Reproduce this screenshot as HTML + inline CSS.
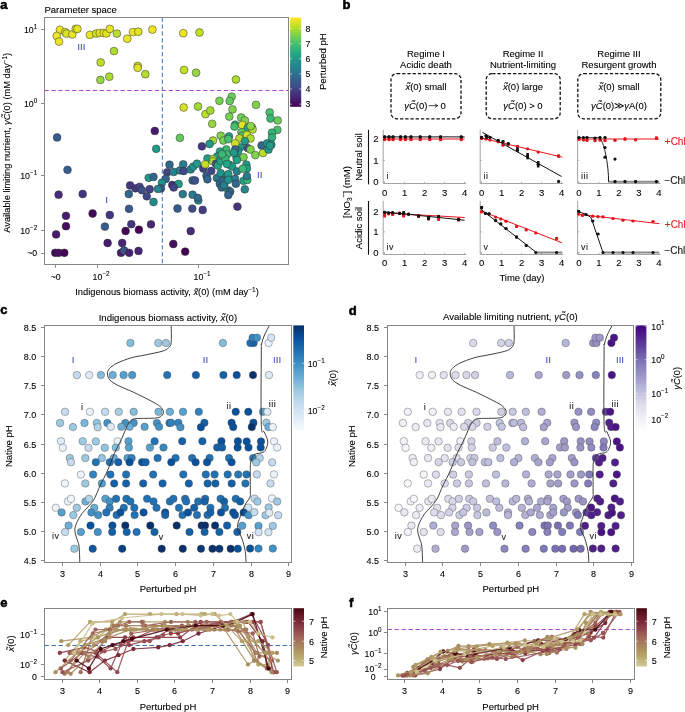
<!DOCTYPE html><html><head><meta charset="utf-8"><style>html,body{margin:0;padding:0;background:#fff;}svg{display:block;will-change:transform;}text{font-family:"Liberation Sans",sans-serif;}</style></head><body>
<svg width="685" height="712" viewBox="0 0 685 712">
<defs>
<linearGradient id="gvir" x1="0" y1="1" x2="0" y2="0">
<stop offset="0.000" stop-color="#440154"/>
<stop offset="0.100" stop-color="#482475"/>
<stop offset="0.200" stop-color="#414487"/>
<stop offset="0.300" stop-color="#355f8d"/>
<stop offset="0.400" stop-color="#2a788e"/>
<stop offset="0.500" stop-color="#21918c"/>
<stop offset="0.600" stop-color="#22a884"/>
<stop offset="0.700" stop-color="#44bf70"/>
<stop offset="0.800" stop-color="#7ad151"/>
<stop offset="0.900" stop-color="#bddf26"/>
<stop offset="1.000" stop-color="#fde725"/>
</linearGradient>
<linearGradient id="gblu" x1="0" y1="1" x2="0" y2="0">
<stop offset="0.000" stop-color="#f7fbff"/>
<stop offset="0.125" stop-color="#deebf7"/>
<stop offset="0.250" stop-color="#c6dbef"/>
<stop offset="0.375" stop-color="#9ecae1"/>
<stop offset="0.500" stop-color="#6baed6"/>
<stop offset="0.625" stop-color="#4292c6"/>
<stop offset="0.750" stop-color="#2171b5"/>
<stop offset="0.875" stop-color="#08519c"/>
<stop offset="1.000" stop-color="#08306b"/>
</linearGradient>
<linearGradient id="gpur" x1="0" y1="1" x2="0" y2="0">
<stop offset="0.000" stop-color="#fcfbfd"/>
<stop offset="0.125" stop-color="#efedf5"/>
<stop offset="0.250" stop-color="#dadaeb"/>
<stop offset="0.375" stop-color="#bcbddc"/>
<stop offset="0.500" stop-color="#9e9ac8"/>
<stop offset="0.625" stop-color="#807dba"/>
<stop offset="0.750" stop-color="#6a51a3"/>
<stop offset="0.875" stop-color="#54278f"/>
<stop offset="1.000" stop-color="#3f007d"/>
</linearGradient>
<linearGradient id="gnat" x1="0" y1="1" x2="0" y2="0">
<stop offset="0.000" stop-color="#d2ca9a"/>
<stop offset="0.167" stop-color="#b8a86a"/>
<stop offset="0.333" stop-color="#a88a5e"/>
<stop offset="0.500" stop-color="#a0665a"/>
<stop offset="0.667" stop-color="#8e3e48"/>
<stop offset="0.833" stop-color="#6e1e2c"/>
<stop offset="1.000" stop-color="#4a0714"/>
</linearGradient>
</defs>
<text x="0.2" y="8.8" font-size="13" text-anchor="start" fill="#000" font-weight="bold" font-style="normal" stroke="#000" stroke-width="0.55">a</text>
<text x="44.5" y="12.8" font-size="9.5" text-anchor="start" fill="#000" font-weight="normal" font-style="normal" stroke="#000" stroke-width="0.1">Parameter space</text>
<line x1="44.50" y1="90.50" x2="288.50" y2="90.50" stroke="#b048e0" stroke-width="1.0" stroke-dasharray="4.3,2.6"/>
<line x1="162.30" y1="17.50" x2="162.30" y2="264.50" stroke="#3a70b8" stroke-width="1.0" stroke-dasharray="4.3,2.6"/>
<circle cx="59.9" cy="29.8" r="3.9" fill="#efe525" stroke="#333" stroke-width="0.5"/>
<circle cx="56.7" cy="35.9" r="3.9" fill="#eae525" stroke="#333" stroke-width="0.5"/>
<circle cx="59.0" cy="41.6" r="3.9" fill="#efe525" stroke="#333" stroke-width="0.5"/>
<circle cx="65.2" cy="32.1" r="3.9" fill="#e4e425" stroke="#333" stroke-width="0.5"/>
<circle cx="66.5" cy="33.6" r="3.9" fill="#d9e326" stroke="#333" stroke-width="0.5"/>
<circle cx="72.3" cy="34.4" r="3.9" fill="#eae525" stroke="#333" stroke-width="0.5"/>
<circle cx="75.7" cy="28.9" r="3.9" fill="#dfe325" stroke="#333" stroke-width="0.5"/>
<circle cx="77.4" cy="28.9" r="3.9" fill="#e4e425" stroke="#333" stroke-width="0.5"/>
<circle cx="89.9" cy="34.9" r="3.9" fill="#eae525" stroke="#333" stroke-width="0.5"/>
<circle cx="96.0" cy="33.6" r="3.9" fill="#c4e026" stroke="#333" stroke-width="0.5"/>
<circle cx="99.8" cy="33.0" r="3.9" fill="#e4e425" stroke="#333" stroke-width="0.5"/>
<circle cx="103.6" cy="33.0" r="3.9" fill="#eae525" stroke="#333" stroke-width="0.5"/>
<circle cx="106.4" cy="33.4" r="3.9" fill="#e4e425" stroke="#333" stroke-width="0.5"/>
<circle cx="109.8" cy="28.9" r="3.9" fill="#e4e425" stroke="#333" stroke-width="0.5"/>
<circle cx="116.9" cy="33.6" r="3.9" fill="#b9de29" stroke="#333" stroke-width="0.5"/>
<circle cx="127.3" cy="38.7" r="3.9" fill="#eae525" stroke="#333" stroke-width="0.5"/>
<circle cx="133.0" cy="32.1" r="3.9" fill="#efe525" stroke="#333" stroke-width="0.5"/>
<circle cx="138.3" cy="31.7" r="3.9" fill="#dfe325" stroke="#333" stroke-width="0.5"/>
<circle cx="152.4" cy="29.6" r="3.9" fill="#eae525" stroke="#333" stroke-width="0.5"/>
<circle cx="114.0" cy="51.1" r="3.9" fill="#addc30" stroke="#333" stroke-width="0.5"/>
<circle cx="100.7" cy="62.4" r="3.9" fill="#bedf26" stroke="#333" stroke-width="0.5"/>
<circle cx="137.7" cy="65.9" r="3.9" fill="#cfe126" stroke="#333" stroke-width="0.5"/>
<circle cx="137.7" cy="67.8" r="3.9" fill="#dfe325" stroke="#333" stroke-width="0.5"/>
<circle cx="145.3" cy="74.2" r="3.9" fill="#b3dd2c" stroke="#333" stroke-width="0.5"/>
<circle cx="109.3" cy="76.7" r="3.9" fill="#addc30" stroke="#333" stroke-width="0.5"/>
<circle cx="100.4" cy="79.9" r="3.9" fill="#97d73f" stroke="#333" stroke-width="0.5"/>
<circle cx="183.3" cy="33.2" r="3.9" fill="#efe525" stroke="#333" stroke-width="0.5"/>
<circle cx="199.5" cy="32.5" r="3.9" fill="#c4e026" stroke="#333" stroke-width="0.5"/>
<circle cx="184.1" cy="70.0" r="3.9" fill="#c4e026" stroke="#333" stroke-width="0.5"/>
<circle cx="196.1" cy="72.7" r="3.9" fill="#97d73f" stroke="#333" stroke-width="0.5"/>
<circle cx="235.9" cy="79.5" r="3.9" fill="#addc30" stroke="#333" stroke-width="0.5"/>
<circle cx="231.7" cy="96.6" r="3.9" fill="#6dcd59" stroke="#333" stroke-width="0.5"/>
<circle cx="219.4" cy="100.8" r="3.9" fill="#76d053" stroke="#333" stroke-width="0.5"/>
<circle cx="229.7" cy="101.0" r="3.9" fill="#64ca5e" stroke="#333" stroke-width="0.5"/>
<circle cx="183.7" cy="107.5" r="3.9" fill="#d4e226" stroke="#333" stroke-width="0.5"/>
<circle cx="198.0" cy="106.5" r="3.9" fill="#a2d937" stroke="#333" stroke-width="0.5"/>
<circle cx="205.5" cy="114.1" r="3.9" fill="#b9de29" stroke="#333" stroke-width="0.5"/>
<circle cx="210.3" cy="110.5" r="3.9" fill="#a2d937" stroke="#333" stroke-width="0.5"/>
<circle cx="212.2" cy="123.8" r="3.9" fill="#97d73f" stroke="#333" stroke-width="0.5"/>
<circle cx="232.5" cy="109.4" r="3.9" fill="#80d24d" stroke="#333" stroke-width="0.5"/>
<circle cx="229.3" cy="116.6" r="3.9" fill="#76d053" stroke="#333" stroke-width="0.5"/>
<circle cx="256.0" cy="104.8" r="3.9" fill="#80d24d" stroke="#333" stroke-width="0.5"/>
<circle cx="269.7" cy="112.4" r="3.9" fill="#48c06e" stroke="#333" stroke-width="0.5"/>
<circle cx="270.5" cy="118.5" r="3.9" fill="#3bb975" stroke="#333" stroke-width="0.5"/>
<circle cx="277.7" cy="120.4" r="3.9" fill="#6dcd59" stroke="#333" stroke-width="0.5"/>
<circle cx="277.3" cy="129.9" r="3.9" fill="#48c06e" stroke="#333" stroke-width="0.5"/>
<circle cx="272.0" cy="132.7" r="3.9" fill="#35b579" stroke="#333" stroke-width="0.5"/>
<circle cx="272.0" cy="137.4" r="3.9" fill="#30b17c" stroke="#333" stroke-width="0.5"/>
<circle cx="179.9" cy="137.8" r="3.9" fill="#64ca5e" stroke="#333" stroke-width="0.5"/>
<circle cx="241.2" cy="117.5" r="3.9" fill="#6dcd59" stroke="#333" stroke-width="0.5"/>
<circle cx="244.9" cy="120.4" r="3.9" fill="#80d24d" stroke="#333" stroke-width="0.5"/>
<circle cx="235.2" cy="124.6" r="3.9" fill="#2aad7f" stroke="#333" stroke-width="0.5"/>
<circle cx="234.5" cy="126.6" r="3.9" fill="#48c06e" stroke="#333" stroke-width="0.5"/>
<circle cx="242.2" cy="125.0" r="3.9" fill="#e4e425" stroke="#333" stroke-width="0.5"/>
<circle cx="247.7" cy="128.0" r="3.9" fill="#22a685" stroke="#333" stroke-width="0.5"/>
<circle cx="251.9" cy="127.3" r="3.9" fill="#8bd546" stroke="#333" stroke-width="0.5"/>
<circle cx="252.6" cy="129.4" r="3.9" fill="#addc30" stroke="#333" stroke-width="0.5"/>
<circle cx="241.5" cy="132.2" r="3.9" fill="#64ca5e" stroke="#333" stroke-width="0.5"/>
<circle cx="242.2" cy="135.7" r="3.9" fill="#48c06e" stroke="#333" stroke-width="0.5"/>
<circle cx="247.0" cy="135.0" r="3.9" fill="#d9e326" stroke="#333" stroke-width="0.5"/>
<circle cx="250.5" cy="138.4" r="3.9" fill="#addc30" stroke="#333" stroke-width="0.5"/>
<circle cx="239.4" cy="138.4" r="3.9" fill="#b9de29" stroke="#333" stroke-width="0.5"/>
<circle cx="244.9" cy="141.2" r="3.9" fill="#229e88" stroke="#333" stroke-width="0.5"/>
<circle cx="247.7" cy="148.1" r="3.9" fill="#3c508a" stroke="#333" stroke-width="0.5"/>
<circle cx="250.5" cy="149.5" r="3.9" fill="#80d24d" stroke="#333" stroke-width="0.5"/>
<circle cx="240.1" cy="147.4" r="3.9" fill="#21968a" stroke="#333" stroke-width="0.5"/>
<circle cx="235.2" cy="143.3" r="3.9" fill="#cfe126" stroke="#333" stroke-width="0.5"/>
<circle cx="238.0" cy="150.9" r="3.9" fill="#219a89" stroke="#333" stroke-width="0.5"/>
<circle cx="235.2" cy="149.5" r="3.9" fill="#32668d" stroke="#333" stroke-width="0.5"/>
<circle cx="220.7" cy="135.7" r="3.9" fill="#80d24d" stroke="#333" stroke-width="0.5"/>
<circle cx="223.4" cy="140.5" r="3.9" fill="#76d053" stroke="#333" stroke-width="0.5"/>
<circle cx="229.0" cy="136.4" r="3.9" fill="#22a286" stroke="#333" stroke-width="0.5"/>
<circle cx="228.3" cy="139.1" r="3.9" fill="#48c06e" stroke="#333" stroke-width="0.5"/>
<circle cx="213.0" cy="140.5" r="3.9" fill="#a2d937" stroke="#333" stroke-width="0.5"/>
<circle cx="209.6" cy="144.0" r="3.9" fill="#219a89" stroke="#333" stroke-width="0.5"/>
<circle cx="201.9" cy="146.3" r="3.9" fill="#443780" stroke="#333" stroke-width="0.5"/>
<circle cx="226.2" cy="149.5" r="3.9" fill="#3bb975" stroke="#333" stroke-width="0.5"/>
<circle cx="220.0" cy="151.6" r="3.9" fill="#22a685" stroke="#333" stroke-width="0.5"/>
<circle cx="226.9" cy="154.4" r="3.9" fill="#41bd72" stroke="#333" stroke-width="0.5"/>
<circle cx="217.2" cy="156.5" r="3.9" fill="#219a89" stroke="#333" stroke-width="0.5"/>
<circle cx="207.5" cy="158.5" r="3.9" fill="#229e88" stroke="#333" stroke-width="0.5"/>
<circle cx="213.0" cy="159.2" r="3.9" fill="#addc30" stroke="#333" stroke-width="0.5"/>
<circle cx="236.6" cy="157.9" r="3.9" fill="#22a286" stroke="#333" stroke-width="0.5"/>
<circle cx="243.5" cy="157.2" r="3.9" fill="#76d053" stroke="#333" stroke-width="0.5"/>
<circle cx="255.3" cy="155.1" r="3.9" fill="#80d24d" stroke="#333" stroke-width="0.5"/>
<circle cx="263.0" cy="153.0" r="3.9" fill="#b9de29" stroke="#333" stroke-width="0.5"/>
<circle cx="261.6" cy="145.4" r="3.9" fill="#32668d" stroke="#333" stroke-width="0.5"/>
<circle cx="267.1" cy="143.3" r="3.9" fill="#21928c" stroke="#333" stroke-width="0.5"/>
<circle cx="271.3" cy="144.7" r="3.9" fill="#219a89" stroke="#333" stroke-width="0.5"/>
<circle cx="268.5" cy="149.5" r="3.9" fill="#219a89" stroke="#333" stroke-width="0.5"/>
<circle cx="250.7" cy="126.1" r="3.9" fill="#8bd546" stroke="#333" stroke-width="0.5"/>
<circle cx="169.5" cy="164.7" r="3.9" fill="#32668d" stroke="#333" stroke-width="0.5"/>
<circle cx="167.2" cy="172.3" r="3.9" fill="#424286" stroke="#333" stroke-width="0.5"/>
<circle cx="173.7" cy="171.9" r="3.9" fill="#25868d" stroke="#333" stroke-width="0.5"/>
<circle cx="165.7" cy="178.9" r="3.9" fill="#32668d" stroke="#333" stroke-width="0.5"/>
<circle cx="161.9" cy="182.7" r="3.9" fill="#21928c" stroke="#333" stroke-width="0.5"/>
<circle cx="160.9" cy="188.4" r="3.9" fill="#3a548b" stroke="#333" stroke-width="0.5"/>
<circle cx="172.3" cy="185.0" r="3.9" fill="#462c79" stroke="#333" stroke-width="0.5"/>
<circle cx="178.6" cy="184.0" r="3.9" fill="#219a89" stroke="#333" stroke-width="0.5"/>
<circle cx="173.7" cy="187.4" r="3.9" fill="#424286" stroke="#333" stroke-width="0.5"/>
<circle cx="179.9" cy="170.4" r="3.9" fill="#287d8e" stroke="#333" stroke-width="0.5"/>
<circle cx="183.2" cy="164.3" r="3.9" fill="#2a798e" stroke="#333" stroke-width="0.5"/>
<circle cx="183.7" cy="171.0" r="3.9" fill="#404788" stroke="#333" stroke-width="0.5"/>
<circle cx="190.7" cy="169.4" r="3.9" fill="#27818d" stroke="#333" stroke-width="0.5"/>
<circle cx="193.2" cy="166.6" r="3.9" fill="#21928c" stroke="#333" stroke-width="0.5"/>
<circle cx="197.0" cy="163.7" r="3.9" fill="#219a89" stroke="#333" stroke-width="0.5"/>
<circle cx="192.6" cy="180.4" r="3.9" fill="#32668d" stroke="#333" stroke-width="0.5"/>
<circle cx="203.3" cy="168.5" r="3.9" fill="#424286" stroke="#333" stroke-width="0.5"/>
<circle cx="205.2" cy="164.3" r="3.9" fill="#c4e026" stroke="#333" stroke-width="0.5"/>
<circle cx="211.2" cy="170.9" r="3.9" fill="#404788" stroke="#333" stroke-width="0.5"/>
<circle cx="206.5" cy="175.7" r="3.9" fill="#365d8d" stroke="#333" stroke-width="0.5"/>
<circle cx="207.4" cy="179.3" r="3.9" fill="#32668d" stroke="#333" stroke-width="0.5"/>
<circle cx="213.1" cy="161.3" r="3.9" fill="#addc30" stroke="#333" stroke-width="0.5"/>
<circle cx="216.0" cy="163.7" r="3.9" fill="#3c508a" stroke="#333" stroke-width="0.5"/>
<circle cx="217.9" cy="165.6" r="3.9" fill="#22a685" stroke="#333" stroke-width="0.5"/>
<circle cx="220.7" cy="160.9" r="3.9" fill="#22a685" stroke="#333" stroke-width="0.5"/>
<circle cx="216.9" cy="178.0" r="3.9" fill="#2a798e" stroke="#333" stroke-width="0.5"/>
<circle cx="220.7" cy="173.2" r="3.9" fill="#21928c" stroke="#333" stroke-width="0.5"/>
<circle cx="219.8" cy="183.7" r="3.9" fill="#32668d" stroke="#333" stroke-width="0.5"/>
<circle cx="221.7" cy="187.4" r="3.9" fill="#32668d" stroke="#333" stroke-width="0.5"/>
<circle cx="224.5" cy="182.7" r="3.9" fill="#287d8e" stroke="#333" stroke-width="0.5"/>
<circle cx="226.4" cy="177.0" r="3.9" fill="#21928c" stroke="#333" stroke-width="0.5"/>
<circle cx="228.3" cy="174.2" r="3.9" fill="#219a89" stroke="#333" stroke-width="0.5"/>
<circle cx="222.6" cy="156.1" r="3.9" fill="#3bb975" stroke="#333" stroke-width="0.5"/>
<circle cx="225.5" cy="159.0" r="3.9" fill="#3bb975" stroke="#333" stroke-width="0.5"/>
<circle cx="229.3" cy="164.7" r="3.9" fill="#22a286" stroke="#333" stroke-width="0.5"/>
<circle cx="232.1" cy="166.6" r="3.9" fill="#229e88" stroke="#333" stroke-width="0.5"/>
<circle cx="235.0" cy="178.9" r="3.9" fill="#287d8e" stroke="#333" stroke-width="0.5"/>
<circle cx="235.9" cy="183.7" r="3.9" fill="#32668d" stroke="#333" stroke-width="0.5"/>
<circle cx="236.9" cy="171.3" r="3.9" fill="#287d8e" stroke="#333" stroke-width="0.5"/>
<circle cx="236.9" cy="160.0" r="3.9" fill="#22a286" stroke="#333" stroke-width="0.5"/>
<circle cx="246.4" cy="164.7" r="3.9" fill="#219a89" stroke="#333" stroke-width="0.5"/>
<circle cx="246.9" cy="168.5" r="3.9" fill="#229e88" stroke="#333" stroke-width="0.5"/>
<circle cx="243.5" cy="180.8" r="3.9" fill="#22a286" stroke="#333" stroke-width="0.5"/>
<circle cx="247.3" cy="179.9" r="3.9" fill="#3bb975" stroke="#333" stroke-width="0.5"/>
<circle cx="246.9" cy="176.1" r="3.9" fill="#2a798e" stroke="#333" stroke-width="0.5"/>
<circle cx="244.8" cy="189.3" r="3.9" fill="#25868d" stroke="#333" stroke-width="0.5"/>
<circle cx="228.3" cy="190.3" r="3.9" fill="#228e8c" stroke="#333" stroke-width="0.5"/>
<circle cx="230.2" cy="191.6" r="3.9" fill="#32668d" stroke="#333" stroke-width="0.5"/>
<circle cx="228.3" cy="195.0" r="3.9" fill="#32668d" stroke="#333" stroke-width="0.5"/>
<circle cx="182.8" cy="194.1" r="3.9" fill="#2a798e" stroke="#333" stroke-width="0.5"/>
<circle cx="192.6" cy="194.7" r="3.9" fill="#2a798e" stroke="#333" stroke-width="0.5"/>
<circle cx="198.3" cy="200.4" r="3.9" fill="#248a8d" stroke="#333" stroke-width="0.5"/>
<circle cx="177.5" cy="208.5" r="3.9" fill="#365d8d" stroke="#333" stroke-width="0.5"/>
<circle cx="192.3" cy="208.6" r="3.9" fill="#3e4b89" stroke="#333" stroke-width="0.5"/>
<circle cx="202.7" cy="210.0" r="3.9" fill="#433c83" stroke="#333" stroke-width="0.5"/>
<circle cx="237.4" cy="206.6" r="3.9" fill="#45317d" stroke="#333" stroke-width="0.5"/>
<circle cx="270.0" cy="145.7" r="3.9" fill="#219a89" stroke="#333" stroke-width="0.5"/>
<circle cx="222.7" cy="180.5" r="3.9" fill="#32668d" stroke="#333" stroke-width="0.5"/>
<circle cx="224.1" cy="185.4" r="3.9" fill="#287d8e" stroke="#333" stroke-width="0.5"/>
<circle cx="228.3" cy="179.8" r="3.9" fill="#21928c" stroke="#333" stroke-width="0.5"/>
<circle cx="242.8" cy="168.7" r="3.9" fill="#3bb975" stroke="#333" stroke-width="0.5"/>
<circle cx="226.9" cy="163.9" r="3.9" fill="#22a685" stroke="#333" stroke-width="0.5"/>
<circle cx="222.0" cy="154.2" r="3.9" fill="#3bb975" stroke="#333" stroke-width="0.5"/>
<circle cx="233.8" cy="152.8" r="3.9" fill="#219a89" stroke="#333" stroke-width="0.5"/>
<circle cx="197.8" cy="197.9" r="3.9" fill="#32668d" stroke="#333" stroke-width="0.5"/>
<circle cx="195.0" cy="180.5" r="3.9" fill="#3a548b" stroke="#333" stroke-width="0.5"/>
<circle cx="190.7" cy="231.1" r="3.9" fill="#462c79" stroke="#333" stroke-width="0.5"/>
<circle cx="173.3" cy="244.0" r="3.9" fill="#460f61" stroke="#333" stroke-width="0.5"/>
<circle cx="185.2" cy="251.6" r="3.9" fill="#440154" stroke="#333" stroke-width="0.5"/>
<circle cx="57.1" cy="137.4" r="3.9" fill="#365d8d" stroke="#333" stroke-width="0.5"/>
<circle cx="67.5" cy="169.8" r="3.9" fill="#365d8d" stroke="#333" stroke-width="0.5"/>
<circle cx="154.8" cy="130.9" r="3.9" fill="#471b6d" stroke="#333" stroke-width="0.5"/>
<circle cx="156.2" cy="148.8" r="3.9" fill="#219a89" stroke="#333" stroke-width="0.5"/>
<circle cx="148.7" cy="177.8" r="3.9" fill="#219a89" stroke="#333" stroke-width="0.5"/>
<circle cx="153.5" cy="176.9" r="3.9" fill="#32668d" stroke="#333" stroke-width="0.5"/>
<circle cx="58.6" cy="194.7" r="3.9" fill="#462c79" stroke="#333" stroke-width="0.5"/>
<circle cx="82.7" cy="194.0" r="3.9" fill="#443780" stroke="#333" stroke-width="0.5"/>
<circle cx="66.0" cy="215.8" r="3.9" fill="#471b6d" stroke="#333" stroke-width="0.5"/>
<circle cx="92.6" cy="213.5" r="3.9" fill="#45095c" stroke="#333" stroke-width="0.5"/>
<circle cx="109.8" cy="215.0" r="3.9" fill="#443780" stroke="#333" stroke-width="0.5"/>
<circle cx="66.0" cy="226.2" r="3.9" fill="#460f61" stroke="#333" stroke-width="0.5"/>
<circle cx="56.1" cy="234.4" r="3.9" fill="#471b6d" stroke="#333" stroke-width="0.5"/>
<circle cx="104.9" cy="226.6" r="3.9" fill="#365d8d" stroke="#333" stroke-width="0.5"/>
<circle cx="125.6" cy="231.0" r="3.9" fill="#45095c" stroke="#333" stroke-width="0.5"/>
<circle cx="131.3" cy="224.2" r="3.9" fill="#443780" stroke="#333" stroke-width="0.5"/>
<circle cx="138.9" cy="229.7" r="3.9" fill="#440154" stroke="#333" stroke-width="0.5"/>
<circle cx="151.0" cy="224.3" r="3.9" fill="#472776" stroke="#333" stroke-width="0.5"/>
<circle cx="107.6" cy="243.0" r="3.9" fill="#471b6d" stroke="#333" stroke-width="0.5"/>
<circle cx="122.2" cy="243.0" r="3.9" fill="#472776" stroke="#333" stroke-width="0.5"/>
<circle cx="55.2" cy="252.8" r="3.9" fill="#45095c" stroke="#333" stroke-width="0.5"/>
<circle cx="58.6" cy="252.8" r="3.9" fill="#460f61" stroke="#333" stroke-width="0.5"/>
<circle cx="64.3" cy="252.8" r="3.9" fill="#440356" stroke="#333" stroke-width="0.5"/>
<circle cx="121.0" cy="252.8" r="3.9" fill="#471b6d" stroke="#333" stroke-width="0.5"/>
<circle cx="124.1" cy="250.5" r="3.9" fill="#3a548b" stroke="#333" stroke-width="0.5"/>
<circle cx="129.2" cy="252.8" r="3.9" fill="#482172" stroke="#333" stroke-width="0.5"/>
<circle cx="138.5" cy="250.9" r="3.9" fill="#472776" stroke="#333" stroke-width="0.5"/>
<circle cx="128.8" cy="194.0" r="3.9" fill="#32668d" stroke="#333" stroke-width="0.5"/>
<circle cx="129.0" cy="208.8" r="3.9" fill="#38598c" stroke="#333" stroke-width="0.5"/>
<circle cx="130.1" cy="185.4" r="3.9" fill="#443780" stroke="#333" stroke-width="0.5"/>
<circle cx="135.5" cy="188.3" r="3.9" fill="#443780" stroke="#333" stroke-width="0.5"/>
<circle cx="139.6" cy="186.8" r="3.9" fill="#424286" stroke="#333" stroke-width="0.5"/>
<circle cx="141.9" cy="190.2" r="3.9" fill="#3c508a" stroke="#333" stroke-width="0.5"/>
<circle cx="146.8" cy="196.3" r="3.9" fill="#404788" stroke="#333" stroke-width="0.5"/>
<circle cx="149.7" cy="189.2" r="3.9" fill="#424286" stroke="#333" stroke-width="0.5"/>
<circle cx="153.5" cy="202.0" r="3.9" fill="#248a8d" stroke="#333" stroke-width="0.5"/>
<circle cx="158.0" cy="188.9" r="3.9" fill="#25868d" stroke="#333" stroke-width="0.5"/>
<rect x="44.50" y="17.50" width="244.00" height="247.00" fill="none" stroke="#878787" stroke-width="1"/>
<text x="81.3" y="49.5" font-size="9.8" text-anchor="middle" fill="#4650c4" font-weight="normal" font-style="normal" stroke="#4650c4" stroke-width="0.1">III</text>
<text x="106.5" y="202.9" font-size="9.8" text-anchor="middle" fill="#4650c4" font-weight="normal" font-style="normal" stroke="#4650c4" stroke-width="0.1">I</text>
<text x="259.7" y="178.2" font-size="9.8" text-anchor="middle" fill="#4650c4" font-weight="normal" font-style="normal" stroke="#4650c4" stroke-width="0.1">II</text>
<line x1="41.00" y1="29.50" x2="44.50" y2="29.50" stroke="#878787" stroke-width="1"/>
<text x="37.2" y="32.8" font-size="8.8" text-anchor="end" fill="#000" font-weight="normal" font-style="normal" stroke="#000" stroke-width="0.1">10<tspan dy="-4.1" font-size="6.3">1</tspan></text>
<line x1="41.00" y1="103.50" x2="44.50" y2="103.50" stroke="#878787" stroke-width="1"/>
<text x="37.2" y="106.8" font-size="8.8" text-anchor="end" fill="#000" font-weight="normal" font-style="normal" stroke="#000" stroke-width="0.1">10<tspan dy="-4.1" font-size="6.3">0</tspan></text>
<line x1="41.00" y1="175.50" x2="44.50" y2="175.50" stroke="#878787" stroke-width="1"/>
<text x="37.2" y="178.8" font-size="8.8" text-anchor="end" fill="#000" font-weight="normal" font-style="normal" stroke="#000" stroke-width="0.1">10<tspan dy="-4.1" font-size="6.3">−1</tspan></text>
<line x1="41.00" y1="230.50" x2="44.50" y2="230.50" stroke="#878787" stroke-width="1"/>
<text x="37.2" y="233.8" font-size="8.8" text-anchor="end" fill="#000" font-weight="normal" font-style="normal" stroke="#000" stroke-width="0.1">10<tspan dy="-4.1" font-size="6.3">−2</tspan></text>
<line x1="41.00" y1="253.50" x2="44.50" y2="253.50" stroke="#878787" stroke-width="1"/>
<text x="37.2" y="256.4" font-size="8.8" text-anchor="end" fill="#000" font-weight="normal" font-style="normal" stroke="#000" stroke-width="0.1">~0</text>
<line x1="97.50" y1="264.50" x2="97.50" y2="267.80" stroke="#878787" stroke-width="1"/>
<text x="92.6" y="280.4" font-size="8.8" text-anchor="start" fill="#000" font-weight="normal" font-style="normal" stroke="#000" stroke-width="0.1">10<tspan dy="-4.1" font-size="6.3">−2</tspan></text>
<line x1="198.50" y1="264.50" x2="198.50" y2="267.80" stroke="#878787" stroke-width="1"/>
<text x="193.6" y="280.4" font-size="8.8" text-anchor="start" fill="#000" font-weight="normal" font-style="normal" stroke="#000" stroke-width="0.1">10<tspan dy="-4.1" font-size="6.3">−1</tspan></text>
<line x1="55.50" y1="264.50" x2="55.50" y2="267.80" stroke="#878787" stroke-width="1"/>
<text x="55.7" y="280.4" font-size="8.8" text-anchor="middle" fill="#000" font-weight="normal" font-style="normal" stroke="#000" stroke-width="0.1">~0</text>
<text x="167" y="295.2" font-size="9.3" text-anchor="middle" fill="#000" font-weight="normal" font-style="normal" stroke="#000" stroke-width="0.1">Indigenous biomass activity, <tspan font-style="italic">x̃</tspan>(0) (mM day<tspan dy="-3.5" font-size="6.5">−1</tspan><tspan dy="3.5">)</tspan></text>
<text x="10.2" y="142.8" font-size="9.3" text-anchor="middle" fill="#000" font-weight="normal" font-style="normal" stroke="#000" stroke-width="0.1" transform="rotate(-90 10.2 142.8)">Available limiting nutrient, <tspan font-style="italic">γC̃</tspan>(0) (mM day<tspan dy="-3.5" font-size="6.5">−1</tspan><tspan dy="3.5">)</tspan></text>
<rect x="290.10" y="17.50" width="11.10" height="89.30" fill="url(#gvir)" stroke="none" stroke-width="1"/>
<line x1="290.10" y1="28.60" x2="292.00" y2="28.60" stroke="#fff" stroke-width="0.6"/>
<line x1="299.30" y1="28.60" x2="301.20" y2="28.60" stroke="#fff" stroke-width="0.6"/>
<text x="305.6" y="31.900000000000002" font-size="8.8" text-anchor="start" fill="#000" font-weight="normal" font-style="normal" stroke="#000" stroke-width="0.1">8</text>
<line x1="290.10" y1="43.70" x2="292.00" y2="43.70" stroke="#fff" stroke-width="0.6"/>
<line x1="299.30" y1="43.70" x2="301.20" y2="43.70" stroke="#fff" stroke-width="0.6"/>
<text x="305.6" y="47.0" font-size="8.8" text-anchor="start" fill="#000" font-weight="normal" font-style="normal" stroke="#000" stroke-width="0.1">7</text>
<line x1="290.10" y1="58.80" x2="292.00" y2="58.80" stroke="#fff" stroke-width="0.6"/>
<line x1="299.30" y1="58.80" x2="301.20" y2="58.80" stroke="#fff" stroke-width="0.6"/>
<text x="305.6" y="62.099999999999994" font-size="8.8" text-anchor="start" fill="#000" font-weight="normal" font-style="normal" stroke="#000" stroke-width="0.1">6</text>
<line x1="290.10" y1="73.90" x2="292.00" y2="73.90" stroke="#fff" stroke-width="0.6"/>
<line x1="299.30" y1="73.90" x2="301.20" y2="73.90" stroke="#fff" stroke-width="0.6"/>
<text x="305.6" y="77.2" font-size="8.8" text-anchor="start" fill="#000" font-weight="normal" font-style="normal" stroke="#000" stroke-width="0.1">5</text>
<line x1="290.10" y1="89.00" x2="292.00" y2="89.00" stroke="#fff" stroke-width="0.6"/>
<line x1="299.30" y1="89.00" x2="301.20" y2="89.00" stroke="#fff" stroke-width="0.6"/>
<text x="305.6" y="92.3" font-size="8.8" text-anchor="start" fill="#000" font-weight="normal" font-style="normal" stroke="#000" stroke-width="0.1">4</text>
<line x1="290.10" y1="104.10" x2="292.00" y2="104.10" stroke="#fff" stroke-width="0.6"/>
<line x1="299.30" y1="104.10" x2="301.20" y2="104.10" stroke="#fff" stroke-width="0.6"/>
<text x="305.6" y="107.39999999999999" font-size="8.8" text-anchor="start" fill="#000" font-weight="normal" font-style="normal" stroke="#000" stroke-width="0.1">3</text>
<text x="326.5" y="61.7" font-size="9.5" text-anchor="middle" fill="#000" font-weight="normal" font-style="normal" stroke="#000" stroke-width="0.1" transform="rotate(-90 326.5 61.7)">Perturbed pH</text>
<text x="342.6" y="8.8" font-size="13" text-anchor="start" fill="#000" font-weight="bold" font-style="normal" stroke="#000" stroke-width="0.55">b</text>
<text x="426" y="56.8" font-size="9.5" text-anchor="middle" fill="#000" font-weight="normal" font-style="normal" stroke="#000" stroke-width="0.1">Regime I</text>
<text x="426" y="67.9" font-size="9.5" text-anchor="middle" fill="#000" font-weight="normal" font-style="normal" stroke="#000" stroke-width="0.1">Acidic death</text>
<text x="523" y="56.8" font-size="9.5" text-anchor="middle" fill="#000" font-weight="normal" font-style="normal" stroke="#000" stroke-width="0.1">Regime II</text>
<text x="523" y="67.9" font-size="9.5" text-anchor="middle" fill="#000" font-weight="normal" font-style="normal" stroke="#000" stroke-width="0.1">Nutrient-limiting</text>
<text x="619" y="56.8" font-size="9.5" text-anchor="middle" fill="#000" font-weight="normal" font-style="normal" stroke="#000" stroke-width="0.1">Regime III</text>
<text x="619" y="67.9" font-size="9.5" text-anchor="middle" fill="#000" font-weight="normal" font-style="normal" stroke="#000" stroke-width="0.1">Resurgent growth</text>
<rect x="391" y="73.6" width="70" height="45.2" rx="6" ry="6" fill="none" stroke="#111" stroke-width="1.3" stroke-dasharray="3.3,1.9"/>
<rect x="486.2" y="73.6" width="74.00000000000006" height="45.2" rx="6" ry="6" fill="none" stroke="#111" stroke-width="1.3" stroke-dasharray="3.3,1.9"/>
<rect x="577.8" y="73.6" width="83.0" height="45.2" rx="6" ry="6" fill="none" stroke="#111" stroke-width="1.3" stroke-dasharray="3.3,1.9"/>
<text x="426" y="89.7" font-size="9.5" text-anchor="middle" fill="#000" font-weight="normal" font-style="normal" stroke="#000" stroke-width="0.1"><tspan font-style="italic">x̃</tspan>(0) small</text>
<text x="427.4" y="109" font-size="9.5" text-anchor="end" fill="#000" font-weight="normal" font-style="normal" stroke="#000" stroke-width="0.1"><tspan font-style="italic">γC̃</tspan>(0)</text>
<line x1="428.60" y1="105.70" x2="437.20" y2="105.70" stroke="#111" stroke-width="0.8"/>
<path d="M434.9,103.9 L437.8,105.7 L434.9,107.5" fill="none" stroke="#111" stroke-width="0.8"/>
<text x="440.4" y="109" font-size="9.5" text-anchor="start" fill="#000" font-weight="normal" font-style="normal" stroke="#000" stroke-width="0.1">0</text>
<text x="523" y="89.7" font-size="9.5" text-anchor="middle" fill="#000" font-weight="normal" font-style="normal" stroke="#000" stroke-width="0.1"><tspan font-style="italic">x̃</tspan>(0) large</text>
<text x="523" y="109" font-size="9.5" text-anchor="middle" fill="#000" font-weight="normal" font-style="normal" stroke="#000" stroke-width="0.1"><tspan font-style="italic">γC̃</tspan>(0) &gt; 0</text>
<text x="619" y="89.7" font-size="9.5" text-anchor="middle" fill="#000" font-weight="normal" font-style="normal" stroke="#000" stroke-width="0.1"><tspan font-style="italic">x̃</tspan>(0) small</text>
<text x="619" y="109" font-size="9.5" text-anchor="middle" fill="#000" font-weight="normal" font-style="normal" stroke="#000" stroke-width="0.1"><tspan font-style="italic">γC̃</tspan>(0)≫<tspan font-style="italic">γ</tspan>A(0)</text>
<line x1="368.50" y1="129.80" x2="368.50" y2="184.40" stroke="#111" stroke-width="1.1"/>
<line x1="368.50" y1="201.00" x2="368.50" y2="254.70" stroke="#111" stroke-width="1.1"/>
<text x="362" y="157" font-size="9.5" text-anchor="middle" fill="#000" font-weight="normal" font-style="normal" stroke="#000" stroke-width="0.1" transform="rotate(-90 362 157)">Neutral soil</text>
<text x="362" y="228" font-size="9.5" text-anchor="middle" fill="#000" font-weight="normal" font-style="normal" stroke="#000" stroke-width="0.1" transform="rotate(-90 362 228)">Acidic soil</text>
<text x="349.5" y="192" font-size="9.5" text-anchor="middle" fill="#000" font-weight="normal" font-style="normal" stroke="#000" stroke-width="0.1" transform="rotate(-90 349.5 192)">[NO<tspan dy="2.5" font-size="6.5">3</tspan><tspan dy="-6" font-size="6.5">−</tspan><tspan dy="3.5">] (mM)</tspan></text>
<text x="521.9" y="281.0" font-size="9.5" text-anchor="middle" fill="#000" font-weight="normal" font-style="normal" stroke="#000" stroke-width="0.1">Time (day)</text>
<text x="664.8" y="144.8" font-size="10" text-anchor="start" fill="#e8141c" font-weight="normal" font-style="normal" stroke="#e8141c" stroke-width="0.1">+Chl</text>
<text x="664.5" y="183.8" font-size="10" text-anchor="start" fill="#111" font-weight="normal" font-style="normal" stroke="#111" stroke-width="0.1">−Chl</text>
<text x="664.8" y="227.7" font-size="10" text-anchor="start" fill="#e8141c" font-weight="normal" font-style="normal" stroke="#e8141c" stroke-width="0.1">+Chl</text>
<text x="664.5" y="253.8" font-size="10" text-anchor="start" fill="#111" font-weight="normal" font-style="normal" stroke="#111" stroke-width="0.1">−Chl</text>
<line x1="383.20" y1="129.80" x2="383.20" y2="183.50" stroke="#9a9a9a" stroke-width="0.9"/>
<line x1="383.20" y1="183.50" x2="466.10" y2="183.50" stroke="#9a9a9a" stroke-width="0.9"/>
<line x1="384.60" y1="183.50" x2="384.60" y2="181.70" stroke="#9a9a9a" stroke-width="0.7"/>
<text x="384.6" y="195.7" font-size="9.5" text-anchor="middle" fill="#000" font-weight="normal" font-style="normal" stroke="#000" stroke-width="0.1">0</text>
<line x1="404.60" y1="183.50" x2="404.60" y2="181.70" stroke="#9a9a9a" stroke-width="0.7"/>
<text x="404.6" y="195.7" font-size="9.5" text-anchor="middle" fill="#000" font-weight="normal" font-style="normal" stroke="#000" stroke-width="0.1">1</text>
<line x1="424.60" y1="183.50" x2="424.60" y2="181.70" stroke="#9a9a9a" stroke-width="0.7"/>
<text x="424.6" y="195.7" font-size="9.5" text-anchor="middle" fill="#000" font-weight="normal" font-style="normal" stroke="#000" stroke-width="0.1">2</text>
<line x1="444.60" y1="183.50" x2="444.60" y2="181.70" stroke="#9a9a9a" stroke-width="0.7"/>
<text x="444.6" y="195.7" font-size="9.5" text-anchor="middle" fill="#000" font-weight="normal" font-style="normal" stroke="#000" stroke-width="0.1">3</text>
<line x1="464.60" y1="183.50" x2="464.60" y2="181.70" stroke="#9a9a9a" stroke-width="0.7"/>
<text x="464.6" y="195.7" font-size="9.5" text-anchor="middle" fill="#000" font-weight="normal" font-style="normal" stroke="#000" stroke-width="0.1">4</text>
<line x1="383.20" y1="181.80" x2="385.00" y2="181.80" stroke="#9a9a9a" stroke-width="0.7"/>
<text x="378.5" y="185.20000000000002" font-size="9.5" text-anchor="end" fill="#000" font-weight="normal" font-style="normal" stroke="#000" stroke-width="0.1">0</text>
<line x1="383.20" y1="160.40" x2="385.00" y2="160.40" stroke="#9a9a9a" stroke-width="0.7"/>
<text x="378.5" y="163.8" font-size="9.5" text-anchor="end" fill="#000" font-weight="normal" font-style="normal" stroke="#000" stroke-width="0.1">1</text>
<line x1="383.20" y1="139.00" x2="385.00" y2="139.00" stroke="#9a9a9a" stroke-width="0.7"/>
<text x="378.5" y="142.4" font-size="9.5" text-anchor="end" fill="#000" font-weight="normal" font-style="normal" stroke="#000" stroke-width="0.1">2</text>
<text x="386.5" y="179.4" font-size="9" text-anchor="start" fill="#1a1a1a" font-weight="normal" font-style="normal" stroke="#1a1a1a" stroke-width="0.1" letter-spacing="0.5">i</text>
<line x1="480.20" y1="129.80" x2="480.20" y2="183.50" stroke="#9a9a9a" stroke-width="0.9"/>
<line x1="480.20" y1="183.50" x2="563.10" y2="183.50" stroke="#9a9a9a" stroke-width="0.9"/>
<line x1="481.60" y1="183.50" x2="481.60" y2="181.70" stroke="#9a9a9a" stroke-width="0.7"/>
<text x="481.6" y="195.7" font-size="9.5" text-anchor="middle" fill="#000" font-weight="normal" font-style="normal" stroke="#000" stroke-width="0.1">0</text>
<line x1="501.60" y1="183.50" x2="501.60" y2="181.70" stroke="#9a9a9a" stroke-width="0.7"/>
<text x="501.6" y="195.7" font-size="9.5" text-anchor="middle" fill="#000" font-weight="normal" font-style="normal" stroke="#000" stroke-width="0.1">1</text>
<line x1="521.60" y1="183.50" x2="521.60" y2="181.70" stroke="#9a9a9a" stroke-width="0.7"/>
<text x="521.6" y="195.7" font-size="9.5" text-anchor="middle" fill="#000" font-weight="normal" font-style="normal" stroke="#000" stroke-width="0.1">2</text>
<line x1="541.60" y1="183.50" x2="541.60" y2="181.70" stroke="#9a9a9a" stroke-width="0.7"/>
<text x="541.6" y="195.7" font-size="9.5" text-anchor="middle" fill="#000" font-weight="normal" font-style="normal" stroke="#000" stroke-width="0.1">3</text>
<line x1="561.60" y1="183.50" x2="561.60" y2="181.70" stroke="#9a9a9a" stroke-width="0.7"/>
<text x="561.6" y="195.7" font-size="9.5" text-anchor="middle" fill="#000" font-weight="normal" font-style="normal" stroke="#000" stroke-width="0.1">4</text>
<line x1="480.20" y1="181.80" x2="482.00" y2="181.80" stroke="#9a9a9a" stroke-width="0.7"/>
<line x1="480.20" y1="160.40" x2="482.00" y2="160.40" stroke="#9a9a9a" stroke-width="0.7"/>
<line x1="480.20" y1="139.00" x2="482.00" y2="139.00" stroke="#9a9a9a" stroke-width="0.7"/>
<text x="483.5" y="179.4" font-size="9" text-anchor="start" fill="#1a1a1a" font-weight="normal" font-style="normal" stroke="#1a1a1a" stroke-width="0.1" letter-spacing="0.5">ii</text>
<line x1="577.60" y1="129.80" x2="577.60" y2="183.50" stroke="#9a9a9a" stroke-width="0.9"/>
<line x1="577.60" y1="183.50" x2="660.50" y2="183.50" stroke="#9a9a9a" stroke-width="0.9"/>
<line x1="579.00" y1="183.50" x2="579.00" y2="181.70" stroke="#9a9a9a" stroke-width="0.7"/>
<text x="579.0" y="195.7" font-size="9.5" text-anchor="middle" fill="#000" font-weight="normal" font-style="normal" stroke="#000" stroke-width="0.1">0</text>
<line x1="599.00" y1="183.50" x2="599.00" y2="181.70" stroke="#9a9a9a" stroke-width="0.7"/>
<text x="599.0" y="195.7" font-size="9.5" text-anchor="middle" fill="#000" font-weight="normal" font-style="normal" stroke="#000" stroke-width="0.1">1</text>
<line x1="619.00" y1="183.50" x2="619.00" y2="181.70" stroke="#9a9a9a" stroke-width="0.7"/>
<text x="619.0" y="195.7" font-size="9.5" text-anchor="middle" fill="#000" font-weight="normal" font-style="normal" stroke="#000" stroke-width="0.1">2</text>
<line x1="639.00" y1="183.50" x2="639.00" y2="181.70" stroke="#9a9a9a" stroke-width="0.7"/>
<text x="639.0" y="195.7" font-size="9.5" text-anchor="middle" fill="#000" font-weight="normal" font-style="normal" stroke="#000" stroke-width="0.1">3</text>
<line x1="659.00" y1="183.50" x2="659.00" y2="181.70" stroke="#9a9a9a" stroke-width="0.7"/>
<text x="659.0" y="195.7" font-size="9.5" text-anchor="middle" fill="#000" font-weight="normal" font-style="normal" stroke="#000" stroke-width="0.1">4</text>
<line x1="577.60" y1="181.80" x2="579.40" y2="181.80" stroke="#9a9a9a" stroke-width="0.7"/>
<line x1="577.60" y1="160.40" x2="579.40" y2="160.40" stroke="#9a9a9a" stroke-width="0.7"/>
<line x1="577.60" y1="139.00" x2="579.40" y2="139.00" stroke="#9a9a9a" stroke-width="0.7"/>
<text x="580.9" y="179.4" font-size="9" text-anchor="start" fill="#1a1a1a" font-weight="normal" font-style="normal" stroke="#1a1a1a" stroke-width="0.1" letter-spacing="0.5">iii</text>
<line x1="383.20" y1="200.80" x2="383.20" y2="254.50" stroke="#9a9a9a" stroke-width="0.9"/>
<line x1="383.20" y1="254.50" x2="466.10" y2="254.50" stroke="#9a9a9a" stroke-width="0.9"/>
<line x1="384.60" y1="254.50" x2="384.60" y2="252.70" stroke="#9a9a9a" stroke-width="0.7"/>
<text x="384.6" y="265.7" font-size="9.5" text-anchor="middle" fill="#000" font-weight="normal" font-style="normal" stroke="#000" stroke-width="0.1">0</text>
<line x1="404.60" y1="254.50" x2="404.60" y2="252.70" stroke="#9a9a9a" stroke-width="0.7"/>
<text x="404.6" y="265.7" font-size="9.5" text-anchor="middle" fill="#000" font-weight="normal" font-style="normal" stroke="#000" stroke-width="0.1">1</text>
<line x1="424.60" y1="254.50" x2="424.60" y2="252.70" stroke="#9a9a9a" stroke-width="0.7"/>
<text x="424.6" y="265.7" font-size="9.5" text-anchor="middle" fill="#000" font-weight="normal" font-style="normal" stroke="#000" stroke-width="0.1">2</text>
<line x1="444.60" y1="254.50" x2="444.60" y2="252.70" stroke="#9a9a9a" stroke-width="0.7"/>
<text x="444.6" y="265.7" font-size="9.5" text-anchor="middle" fill="#000" font-weight="normal" font-style="normal" stroke="#000" stroke-width="0.1">3</text>
<line x1="464.60" y1="254.50" x2="464.60" y2="252.70" stroke="#9a9a9a" stroke-width="0.7"/>
<text x="464.6" y="265.7" font-size="9.5" text-anchor="middle" fill="#000" font-weight="normal" font-style="normal" stroke="#000" stroke-width="0.1">4</text>
<line x1="383.20" y1="252.50" x2="385.00" y2="252.50" stroke="#9a9a9a" stroke-width="0.7"/>
<text x="378.5" y="255.9" font-size="9.5" text-anchor="end" fill="#000" font-weight="normal" font-style="normal" stroke="#000" stroke-width="0.1">0</text>
<line x1="383.20" y1="231.90" x2="385.00" y2="231.90" stroke="#9a9a9a" stroke-width="0.7"/>
<text x="378.5" y="235.3" font-size="9.5" text-anchor="end" fill="#000" font-weight="normal" font-style="normal" stroke="#000" stroke-width="0.1">1</text>
<line x1="383.20" y1="211.30" x2="385.00" y2="211.30" stroke="#9a9a9a" stroke-width="0.7"/>
<text x="378.5" y="214.70000000000002" font-size="9.5" text-anchor="end" fill="#000" font-weight="normal" font-style="normal" stroke="#000" stroke-width="0.1">2</text>
<text x="386.5" y="250.3" font-size="9" text-anchor="start" fill="#1a1a1a" font-weight="normal" font-style="normal" stroke="#1a1a1a" stroke-width="0.1" letter-spacing="0.5">iv</text>
<line x1="480.20" y1="200.80" x2="480.20" y2="254.50" stroke="#9a9a9a" stroke-width="0.9"/>
<line x1="480.20" y1="254.50" x2="563.10" y2="254.50" stroke="#9a9a9a" stroke-width="0.9"/>
<line x1="481.60" y1="254.50" x2="481.60" y2="252.70" stroke="#9a9a9a" stroke-width="0.7"/>
<text x="481.6" y="265.7" font-size="9.5" text-anchor="middle" fill="#000" font-weight="normal" font-style="normal" stroke="#000" stroke-width="0.1">0</text>
<line x1="501.60" y1="254.50" x2="501.60" y2="252.70" stroke="#9a9a9a" stroke-width="0.7"/>
<text x="501.6" y="265.7" font-size="9.5" text-anchor="middle" fill="#000" font-weight="normal" font-style="normal" stroke="#000" stroke-width="0.1">1</text>
<line x1="521.60" y1="254.50" x2="521.60" y2="252.70" stroke="#9a9a9a" stroke-width="0.7"/>
<text x="521.6" y="265.7" font-size="9.5" text-anchor="middle" fill="#000" font-weight="normal" font-style="normal" stroke="#000" stroke-width="0.1">2</text>
<line x1="541.60" y1="254.50" x2="541.60" y2="252.70" stroke="#9a9a9a" stroke-width="0.7"/>
<text x="541.6" y="265.7" font-size="9.5" text-anchor="middle" fill="#000" font-weight="normal" font-style="normal" stroke="#000" stroke-width="0.1">3</text>
<line x1="561.60" y1="254.50" x2="561.60" y2="252.70" stroke="#9a9a9a" stroke-width="0.7"/>
<text x="561.6" y="265.7" font-size="9.5" text-anchor="middle" fill="#000" font-weight="normal" font-style="normal" stroke="#000" stroke-width="0.1">4</text>
<line x1="480.20" y1="252.50" x2="482.00" y2="252.50" stroke="#9a9a9a" stroke-width="0.7"/>
<line x1="480.20" y1="231.90" x2="482.00" y2="231.90" stroke="#9a9a9a" stroke-width="0.7"/>
<line x1="480.20" y1="211.30" x2="482.00" y2="211.30" stroke="#9a9a9a" stroke-width="0.7"/>
<text x="483.5" y="250.3" font-size="9" text-anchor="start" fill="#1a1a1a" font-weight="normal" font-style="normal" stroke="#1a1a1a" stroke-width="0.1" letter-spacing="0.5">v</text>
<line x1="577.60" y1="200.80" x2="577.60" y2="254.50" stroke="#9a9a9a" stroke-width="0.9"/>
<line x1="577.60" y1="254.50" x2="660.50" y2="254.50" stroke="#9a9a9a" stroke-width="0.9"/>
<line x1="579.00" y1="254.50" x2="579.00" y2="252.70" stroke="#9a9a9a" stroke-width="0.7"/>
<text x="579.0" y="265.7" font-size="9.5" text-anchor="middle" fill="#000" font-weight="normal" font-style="normal" stroke="#000" stroke-width="0.1">0</text>
<line x1="599.00" y1="254.50" x2="599.00" y2="252.70" stroke="#9a9a9a" stroke-width="0.7"/>
<text x="599.0" y="265.7" font-size="9.5" text-anchor="middle" fill="#000" font-weight="normal" font-style="normal" stroke="#000" stroke-width="0.1">1</text>
<line x1="619.00" y1="254.50" x2="619.00" y2="252.70" stroke="#9a9a9a" stroke-width="0.7"/>
<text x="619.0" y="265.7" font-size="9.5" text-anchor="middle" fill="#000" font-weight="normal" font-style="normal" stroke="#000" stroke-width="0.1">2</text>
<line x1="639.00" y1="254.50" x2="639.00" y2="252.70" stroke="#9a9a9a" stroke-width="0.7"/>
<text x="639.0" y="265.7" font-size="9.5" text-anchor="middle" fill="#000" font-weight="normal" font-style="normal" stroke="#000" stroke-width="0.1">3</text>
<line x1="659.00" y1="254.50" x2="659.00" y2="252.70" stroke="#9a9a9a" stroke-width="0.7"/>
<text x="659.0" y="265.7" font-size="9.5" text-anchor="middle" fill="#000" font-weight="normal" font-style="normal" stroke="#000" stroke-width="0.1">4</text>
<line x1="577.60" y1="252.50" x2="579.40" y2="252.50" stroke="#9a9a9a" stroke-width="0.7"/>
<line x1="577.60" y1="231.90" x2="579.40" y2="231.90" stroke="#9a9a9a" stroke-width="0.7"/>
<line x1="577.60" y1="211.30" x2="579.40" y2="211.30" stroke="#9a9a9a" stroke-width="0.7"/>
<text x="580.9" y="250.3" font-size="9" text-anchor="start" fill="#1a1a1a" font-weight="normal" font-style="normal" stroke="#1a1a1a" stroke-width="0.1" letter-spacing="0.5">vi</text>
<polyline points="384.6,139.0 464.6,139.0" fill="none" stroke="#e8141c" stroke-width="1"/>
<line x1="384.60" y1="141.14" x2="384.60" y2="137.72" stroke="#e8141c" stroke-width="2.6"/>
<circle cx="384.6" cy="139.4" r="1.6" fill="#e8141c" stroke="none" stroke-width="0"/>
<line x1="389.00" y1="141.14" x2="389.00" y2="137.72" stroke="#e8141c" stroke-width="2.6"/>
<circle cx="389.0" cy="139.4" r="1.6" fill="#e8141c" stroke="none" stroke-width="0"/>
<line x1="393.00" y1="141.14" x2="393.00" y2="137.72" stroke="#e8141c" stroke-width="2.6"/>
<circle cx="393.0" cy="139.4" r="1.6" fill="#e8141c" stroke="none" stroke-width="0"/>
<line x1="400.60" y1="141.14" x2="400.60" y2="137.72" stroke="#e8141c" stroke-width="2.6"/>
<circle cx="400.6" cy="139.4" r="1.6" fill="#e8141c" stroke="none" stroke-width="0"/>
<line x1="405.40" y1="141.14" x2="405.40" y2="137.72" stroke="#e8141c" stroke-width="2.6"/>
<circle cx="405.4" cy="139.4" r="1.6" fill="#e8141c" stroke="none" stroke-width="0"/>
<line x1="411.00" y1="141.14" x2="411.00" y2="137.72" stroke="#e8141c" stroke-width="2.6"/>
<circle cx="411.0" cy="139.4" r="1.6" fill="#e8141c" stroke="none" stroke-width="0"/>
<line x1="420.20" y1="141.14" x2="420.20" y2="137.72" stroke="#e8141c" stroke-width="2.6"/>
<circle cx="420.2" cy="139.4" r="1.6" fill="#e8141c" stroke="none" stroke-width="0"/>
<line x1="429.80" y1="141.14" x2="429.80" y2="137.72" stroke="#e8141c" stroke-width="2.6"/>
<circle cx="429.8" cy="139.4" r="1.6" fill="#e8141c" stroke="none" stroke-width="0"/>
<line x1="440.60" y1="141.14" x2="440.60" y2="137.72" stroke="#e8141c" stroke-width="2.6"/>
<circle cx="440.6" cy="139.4" r="1.6" fill="#e8141c" stroke="none" stroke-width="0"/>
<line x1="461.20" y1="141.14" x2="461.20" y2="137.72" stroke="#e8141c" stroke-width="2.6"/>
<circle cx="461.2" cy="139.4" r="1.6" fill="#e8141c" stroke="none" stroke-width="0"/>
<polyline points="384.6,136.9 464.6,136.9" fill="none" stroke="#111" stroke-width="1"/>
<line x1="384.60" y1="138.14" x2="384.60" y2="135.58" stroke="#111" stroke-width="2.6"/>
<circle cx="384.6" cy="136.9" r="1.6" fill="#111" stroke="none" stroke-width="0"/>
<line x1="389.00" y1="138.14" x2="389.00" y2="135.58" stroke="#111" stroke-width="2.6"/>
<circle cx="389.0" cy="136.9" r="1.6" fill="#111" stroke="none" stroke-width="0"/>
<line x1="393.00" y1="138.14" x2="393.00" y2="135.58" stroke="#111" stroke-width="2.6"/>
<circle cx="393.0" cy="136.9" r="1.6" fill="#111" stroke="none" stroke-width="0"/>
<line x1="400.60" y1="138.14" x2="400.60" y2="135.58" stroke="#111" stroke-width="2.6"/>
<circle cx="400.6" cy="136.9" r="1.6" fill="#111" stroke="none" stroke-width="0"/>
<line x1="405.40" y1="138.14" x2="405.40" y2="135.58" stroke="#111" stroke-width="2.6"/>
<circle cx="405.4" cy="136.9" r="1.6" fill="#111" stroke="none" stroke-width="0"/>
<line x1="411.00" y1="138.14" x2="411.00" y2="135.58" stroke="#111" stroke-width="2.6"/>
<circle cx="411.0" cy="136.9" r="1.6" fill="#111" stroke="none" stroke-width="0"/>
<line x1="420.20" y1="138.14" x2="420.20" y2="135.58" stroke="#111" stroke-width="2.6"/>
<circle cx="420.2" cy="136.9" r="1.6" fill="#111" stroke="none" stroke-width="0"/>
<line x1="429.80" y1="138.14" x2="429.80" y2="135.58" stroke="#111" stroke-width="2.6"/>
<circle cx="429.8" cy="136.9" r="1.6" fill="#111" stroke="none" stroke-width="0"/>
<line x1="440.60" y1="138.14" x2="440.60" y2="135.58" stroke="#111" stroke-width="2.6"/>
<circle cx="440.6" cy="136.9" r="1.6" fill="#111" stroke="none" stroke-width="0"/>
<line x1="461.20" y1="138.14" x2="461.20" y2="135.58" stroke="#111" stroke-width="2.6"/>
<circle cx="461.2" cy="136.9" r="1.6" fill="#111" stroke="none" stroke-width="0"/>
<polyline points="481.0,137.9 562.4,157.2" fill="none" stroke="#e8141c" stroke-width="1"/>
<line x1="481.60" y1="139.43" x2="481.60" y2="137.29" stroke="#e8141c" stroke-width="2.6"/>
<circle cx="481.6" cy="138.4" r="1.6" fill="#e8141c" stroke="none" stroke-width="0"/>
<line x1="486.00" y1="140.07" x2="486.00" y2="137.93" stroke="#e8141c" stroke-width="2.6"/>
<circle cx="486.0" cy="139.0" r="1.6" fill="#e8141c" stroke="none" stroke-width="0"/>
<line x1="490.00" y1="140.50" x2="490.00" y2="139.21" stroke="#e8141c" stroke-width="2.6"/>
<circle cx="490.0" cy="139.9" r="1.6" fill="#e8141c" stroke="none" stroke-width="0"/>
<line x1="498.20" y1="142.85" x2="498.20" y2="140.71" stroke="#e8141c" stroke-width="2.6"/>
<circle cx="498.2" cy="141.8" r="1.6" fill="#e8141c" stroke="none" stroke-width="0"/>
<line x1="503.00" y1="146.28" x2="503.00" y2="144.14" stroke="#e8141c" stroke-width="2.6"/>
<circle cx="503.0" cy="145.2" r="1.6" fill="#e8141c" stroke="none" stroke-width="0"/>
<line x1="508.20" y1="145.85" x2="508.20" y2="143.71" stroke="#e8141c" stroke-width="2.6"/>
<circle cx="508.2" cy="144.8" r="1.6" fill="#e8141c" stroke="none" stroke-width="0"/>
<line x1="517.40" y1="147.35" x2="517.40" y2="145.21" stroke="#e8141c" stroke-width="2.6"/>
<circle cx="517.4" cy="146.3" r="1.6" fill="#e8141c" stroke="none" stroke-width="0"/>
<line x1="527.60" y1="149.49" x2="527.60" y2="148.20" stroke="#e8141c" stroke-width="2.6"/>
<circle cx="527.6" cy="148.8" r="1.6" fill="#e8141c" stroke="none" stroke-width="0"/>
<line x1="538.20" y1="153.12" x2="538.20" y2="150.98" stroke="#e8141c" stroke-width="2.6"/>
<circle cx="538.2" cy="152.1" r="1.6" fill="#e8141c" stroke="none" stroke-width="0"/>
<line x1="558.60" y1="157.83" x2="558.60" y2="154.41" stroke="#e8141c" stroke-width="2.6"/>
<circle cx="558.6" cy="156.1" r="1.6" fill="#e8141c" stroke="none" stroke-width="0"/>
<polyline points="482.4,132.4 561.6,176.5" fill="none" stroke="#111" stroke-width="1"/>
<line x1="481.60" y1="138.36" x2="481.60" y2="136.22" stroke="#111" stroke-width="2.6"/>
<circle cx="481.6" cy="137.3" r="1.6" fill="#111" stroke="none" stroke-width="0"/>
<line x1="486.00" y1="136.86" x2="486.00" y2="134.72" stroke="#111" stroke-width="2.6"/>
<circle cx="486.0" cy="135.8" r="1.6" fill="#111" stroke="none" stroke-width="0"/>
<line x1="486.80" y1="137.93" x2="486.80" y2="136.65" stroke="#111" stroke-width="2.6"/>
<circle cx="486.8" cy="137.3" r="1.6" fill="#111" stroke="none" stroke-width="0"/>
<line x1="490.00" y1="138.36" x2="490.00" y2="136.22" stroke="#111" stroke-width="2.6"/>
<circle cx="490.0" cy="137.3" r="1.6" fill="#111" stroke="none" stroke-width="0"/>
<line x1="498.20" y1="141.35" x2="498.20" y2="139.21" stroke="#111" stroke-width="2.6"/>
<circle cx="498.2" cy="140.3" r="1.6" fill="#111" stroke="none" stroke-width="0"/>
<line x1="503.00" y1="142.85" x2="503.00" y2="140.28" stroke="#111" stroke-width="2.6"/>
<circle cx="503.0" cy="141.6" r="1.6" fill="#111" stroke="none" stroke-width="0"/>
<line x1="508.20" y1="144.99" x2="508.20" y2="142.42" stroke="#111" stroke-width="2.6"/>
<circle cx="508.2" cy="143.7" r="1.6" fill="#111" stroke="none" stroke-width="0"/>
<line x1="517.40" y1="152.05" x2="517.40" y2="147.35" stroke="#111" stroke-width="2.6"/>
<circle cx="517.4" cy="149.7" r="1.6" fill="#111" stroke="none" stroke-width="0"/>
<line x1="527.60" y1="159.33" x2="527.60" y2="152.91" stroke="#111" stroke-width="2.6"/>
<circle cx="527.6" cy="156.1" r="1.6" fill="#111" stroke="none" stroke-width="0"/>
<line x1="538.20" y1="167.46" x2="538.20" y2="161.04" stroke="#111" stroke-width="2.6"/>
<circle cx="538.2" cy="164.3" r="1.6" fill="#111" stroke="none" stroke-width="0"/>
<circle cx="558.6" cy="181.4" r="1.6" fill="#111" stroke="none" stroke-width="0"/>
<polyline points="579.0,139.0 659.0,139.0" fill="none" stroke="#e8141c" stroke-width="1"/>
<line x1="579.00" y1="140.50" x2="579.00" y2="138.36" stroke="#e8141c" stroke-width="2.6"/>
<circle cx="579.0" cy="139.4" r="1.6" fill="#e8141c" stroke="none" stroke-width="0"/>
<line x1="583.40" y1="140.93" x2="583.40" y2="138.79" stroke="#e8141c" stroke-width="2.6"/>
<circle cx="583.4" cy="139.9" r="1.6" fill="#e8141c" stroke="none" stroke-width="0"/>
<line x1="587.00" y1="141.57" x2="587.00" y2="139.00" stroke="#e8141c" stroke-width="2.6"/>
<circle cx="587.0" cy="140.3" r="1.6" fill="#e8141c" stroke="none" stroke-width="0"/>
<line x1="595.00" y1="142.00" x2="595.00" y2="139.43" stroke="#e8141c" stroke-width="2.6"/>
<circle cx="595.0" cy="140.7" r="1.6" fill="#e8141c" stroke="none" stroke-width="0"/>
<line x1="600.00" y1="141.14" x2="600.00" y2="139.00" stroke="#e8141c" stroke-width="2.6"/>
<circle cx="600.0" cy="140.1" r="1.6" fill="#e8141c" stroke="none" stroke-width="0"/>
<line x1="605.00" y1="142.00" x2="605.00" y2="139.43" stroke="#e8141c" stroke-width="2.6"/>
<circle cx="605.0" cy="140.7" r="1.6" fill="#e8141c" stroke="none" stroke-width="0"/>
<line x1="615.00" y1="141.35" x2="615.00" y2="139.21" stroke="#e8141c" stroke-width="2.6"/>
<circle cx="615.0" cy="140.3" r="1.6" fill="#e8141c" stroke="none" stroke-width="0"/>
<line x1="625.00" y1="140.71" x2="625.00" y2="137.29" stroke="#e8141c" stroke-width="2.6"/>
<circle cx="625.0" cy="139.0" r="1.6" fill="#e8141c" stroke="none" stroke-width="0"/>
<line x1="635.60" y1="140.93" x2="635.60" y2="138.79" stroke="#e8141c" stroke-width="2.6"/>
<circle cx="635.6" cy="139.9" r="1.6" fill="#e8141c" stroke="none" stroke-width="0"/>
<line x1="656.40" y1="139.86" x2="656.40" y2="136.43" stroke="#e8141c" stroke-width="2.6"/>
<circle cx="656.4" cy="138.1" r="1.6" fill="#e8141c" stroke="none" stroke-width="0"/>
<line x1="579.00" y1="138.14" x2="579.00" y2="136.86" stroke="#111" stroke-width="2.6"/>
<circle cx="579.0" cy="137.5" r="1.6" fill="#111" stroke="none" stroke-width="0"/>
<line x1="583.40" y1="138.14" x2="583.40" y2="136.86" stroke="#111" stroke-width="2.6"/>
<circle cx="583.4" cy="137.5" r="1.6" fill="#111" stroke="none" stroke-width="0"/>
<line x1="587.00" y1="138.36" x2="587.00" y2="136.65" stroke="#111" stroke-width="2.6"/>
<circle cx="587.0" cy="137.5" r="1.6" fill="#111" stroke="none" stroke-width="0"/>
<line x1="595.00" y1="139.00" x2="595.00" y2="137.29" stroke="#111" stroke-width="2.6"/>
<circle cx="595.0" cy="138.1" r="1.6" fill="#111" stroke="none" stroke-width="0"/>
<line x1="600.00" y1="138.36" x2="600.00" y2="136.65" stroke="#111" stroke-width="2.6"/>
<circle cx="600.0" cy="137.5" r="1.6" fill="#111" stroke="none" stroke-width="0"/>
<line x1="605.00" y1="138.36" x2="605.00" y2="136.65" stroke="#111" stroke-width="2.6"/>
<circle cx="605.0" cy="137.5" r="1.6" fill="#111" stroke="none" stroke-width="0"/>
<circle cx="605.0" cy="147.6" r="1.6" fill="#111" stroke="none" stroke-width="0"/>
<circle cx="605.0" cy="157.2" r="1.6" fill="#111" stroke="none" stroke-width="0"/>
<circle cx="615.0" cy="159.1" r="1.6" fill="#111" stroke="none" stroke-width="0"/>
<circle cx="615.0" cy="181.6" r="1.6" fill="#111" stroke="none" stroke-width="0"/>
<circle cx="625.0" cy="181.6" r="1.6" fill="#111" stroke="none" stroke-width="0"/>
<circle cx="635.6" cy="181.6" r="1.6" fill="#111" stroke="none" stroke-width="0"/>
<circle cx="656.4" cy="181.6" r="1.6" fill="#111" stroke="none" stroke-width="0"/>
<polyline points="384.6,212.9 464.6,217.5" fill="none" stroke="#e8141c" stroke-width="1"/>
<line x1="384.60" y1="217.48" x2="384.60" y2="213.36" stroke="#e8141c" stroke-width="2.6"/>
<circle cx="384.6" cy="215.4" r="1.6" fill="#e8141c" stroke="none" stroke-width="0"/>
<line x1="388.60" y1="214.80" x2="388.60" y2="212.74" stroke="#e8141c" stroke-width="2.6"/>
<circle cx="388.6" cy="213.8" r="1.6" fill="#e8141c" stroke="none" stroke-width="0"/>
<line x1="392.60" y1="215.63" x2="392.60" y2="213.15" stroke="#e8141c" stroke-width="2.6"/>
<circle cx="392.6" cy="214.4" r="1.6" fill="#e8141c" stroke="none" stroke-width="0"/>
<line x1="399.60" y1="215.01" x2="399.60" y2="211.71" stroke="#e8141c" stroke-width="2.6"/>
<circle cx="399.6" cy="213.4" r="1.6" fill="#e8141c" stroke="none" stroke-width="0"/>
<line x1="403.60" y1="217.48" x2="403.60" y2="213.36" stroke="#e8141c" stroke-width="2.6"/>
<circle cx="403.6" cy="215.4" r="1.6" fill="#e8141c" stroke="none" stroke-width="0"/>
<line x1="408.60" y1="215.21" x2="408.60" y2="213.15" stroke="#e8141c" stroke-width="2.6"/>
<circle cx="408.6" cy="214.2" r="1.6" fill="#e8141c" stroke="none" stroke-width="0"/>
<line x1="418.60" y1="217.69" x2="418.60" y2="215.21" stroke="#e8141c" stroke-width="2.6"/>
<circle cx="418.6" cy="216.4" r="1.6" fill="#e8141c" stroke="none" stroke-width="0"/>
<line x1="428.60" y1="220.57" x2="428.60" y2="216.45" stroke="#e8141c" stroke-width="2.6"/>
<circle cx="428.6" cy="218.5" r="1.6" fill="#e8141c" stroke="none" stroke-width="0"/>
<line x1="438.60" y1="220.78" x2="438.60" y2="217.48" stroke="#e8141c" stroke-width="2.6"/>
<circle cx="438.6" cy="219.1" r="1.6" fill="#e8141c" stroke="none" stroke-width="0"/>
<line x1="458.60" y1="221.60" x2="458.60" y2="217.48" stroke="#e8141c" stroke-width="2.6"/>
<circle cx="458.6" cy="219.5" r="1.6" fill="#e8141c" stroke="none" stroke-width="0"/>
<polyline points="384.6,211.9 464.6,220.2" fill="none" stroke="#111" stroke-width="1"/>
<line x1="384.60" y1="213.36" x2="384.60" y2="211.30" stroke="#111" stroke-width="2.6"/>
<circle cx="384.6" cy="212.3" r="1.6" fill="#111" stroke="none" stroke-width="0"/>
<line x1="388.60" y1="213.98" x2="388.60" y2="211.92" stroke="#111" stroke-width="2.6"/>
<circle cx="388.6" cy="212.9" r="1.6" fill="#111" stroke="none" stroke-width="0"/>
<line x1="392.60" y1="213.98" x2="392.60" y2="211.51" stroke="#111" stroke-width="2.6"/>
<circle cx="392.6" cy="212.7" r="1.6" fill="#111" stroke="none" stroke-width="0"/>
<line x1="399.60" y1="214.60" x2="399.60" y2="212.12" stroke="#111" stroke-width="2.6"/>
<circle cx="399.6" cy="213.4" r="1.6" fill="#111" stroke="none" stroke-width="0"/>
<line x1="403.60" y1="214.60" x2="403.60" y2="211.30" stroke="#111" stroke-width="2.6"/>
<circle cx="403.6" cy="212.9" r="1.6" fill="#111" stroke="none" stroke-width="0"/>
<line x1="408.60" y1="215.21" x2="408.60" y2="213.15" stroke="#111" stroke-width="2.6"/>
<circle cx="408.6" cy="214.2" r="1.6" fill="#111" stroke="none" stroke-width="0"/>
<line x1="418.60" y1="217.07" x2="418.60" y2="214.60" stroke="#111" stroke-width="2.6"/>
<circle cx="418.6" cy="215.8" r="1.6" fill="#111" stroke="none" stroke-width="0"/>
<line x1="428.60" y1="219.95" x2="428.60" y2="215.83" stroke="#111" stroke-width="2.6"/>
<circle cx="428.6" cy="217.9" r="1.6" fill="#111" stroke="none" stroke-width="0"/>
<line x1="438.60" y1="217.69" x2="438.60" y2="215.21" stroke="#111" stroke-width="2.6"/>
<circle cx="438.6" cy="216.4" r="1.6" fill="#111" stroke="none" stroke-width="0"/>
<line x1="458.60" y1="220.78" x2="458.60" y2="218.30" stroke="#111" stroke-width="2.6"/>
<circle cx="458.6" cy="219.5" r="1.6" fill="#111" stroke="none" stroke-width="0"/>
<polyline points="480.4,210.7 562.0,242.8" fill="none" stroke="#e8141c" stroke-width="1"/>
<line x1="481.60" y1="212.74" x2="481.60" y2="211.09" stroke="#e8141c" stroke-width="2.6"/>
<circle cx="481.6" cy="211.9" r="1.6" fill="#e8141c" stroke="none" stroke-width="0"/>
<line x1="489.00" y1="214.80" x2="489.00" y2="213.57" stroke="#e8141c" stroke-width="2.6"/>
<circle cx="489.0" cy="214.2" r="1.6" fill="#e8141c" stroke="none" stroke-width="0"/>
<line x1="495.60" y1="217.89" x2="495.60" y2="216.24" stroke="#e8141c" stroke-width="2.6"/>
<circle cx="495.6" cy="217.1" r="1.6" fill="#e8141c" stroke="none" stroke-width="0"/>
<line x1="500.80" y1="219.75" x2="500.80" y2="218.10" stroke="#e8141c" stroke-width="2.6"/>
<circle cx="500.8" cy="218.9" r="1.6" fill="#e8141c" stroke="none" stroke-width="0"/>
<line x1="506.00" y1="222.22" x2="506.00" y2="220.16" stroke="#e8141c" stroke-width="2.6"/>
<circle cx="506.0" cy="221.2" r="1.6" fill="#e8141c" stroke="none" stroke-width="0"/>
<line x1="516.60" y1="227.78" x2="516.60" y2="225.31" stroke="#e8141c" stroke-width="2.6"/>
<circle cx="516.6" cy="226.5" r="1.6" fill="#e8141c" stroke="none" stroke-width="0"/>
<line x1="526.20" y1="231.08" x2="526.20" y2="228.60" stroke="#e8141c" stroke-width="2.6"/>
<circle cx="526.2" cy="229.8" r="1.6" fill="#e8141c" stroke="none" stroke-width="0"/>
<line x1="535.80" y1="233.75" x2="535.80" y2="232.11" stroke="#e8141c" stroke-width="2.6"/>
<circle cx="535.8" cy="232.9" r="1.6" fill="#e8141c" stroke="none" stroke-width="0"/>
<line x1="556.60" y1="240.14" x2="556.60" y2="236.84" stroke="#e8141c" stroke-width="2.6"/>
<circle cx="556.6" cy="238.5" r="1.6" fill="#e8141c" stroke="none" stroke-width="0"/>
<line x1="536.4" y1="252.5" x2="562.2" y2="252.5" stroke="#8a8a8a" stroke-width="2"/>
<polyline points="481.0,209.4 536.4,252.5" fill="none" stroke="#111" stroke-width="1"/>
<line x1="481.60" y1="209.24" x2="481.60" y2="205.94" stroke="#111" stroke-width="2.6"/>
<circle cx="481.6" cy="207.6" r="1.6" fill="#111" stroke="none" stroke-width="0"/>
<line x1="485.40" y1="214.39" x2="485.40" y2="212.33" stroke="#111" stroke-width="2.6"/>
<circle cx="485.4" cy="213.4" r="1.6" fill="#111" stroke="none" stroke-width="0"/>
<line x1="489.00" y1="214.80" x2="489.00" y2="212.74" stroke="#111" stroke-width="2.6"/>
<circle cx="489.0" cy="213.8" r="1.6" fill="#111" stroke="none" stroke-width="0"/>
<line x1="495.60" y1="221.60" x2="495.60" y2="219.54" stroke="#111" stroke-width="2.6"/>
<circle cx="495.6" cy="220.6" r="1.6" fill="#111" stroke="none" stroke-width="0"/>
<line x1="500.80" y1="224.90" x2="500.80" y2="222.84" stroke="#111" stroke-width="2.6"/>
<circle cx="500.8" cy="223.9" r="1.6" fill="#111" stroke="none" stroke-width="0"/>
<line x1="506.00" y1="229.63" x2="506.00" y2="227.57" stroke="#111" stroke-width="2.6"/>
<circle cx="506.0" cy="228.6" r="1.6" fill="#111" stroke="none" stroke-width="0"/>
<line x1="516.60" y1="238.49" x2="516.60" y2="235.61" stroke="#111" stroke-width="2.6"/>
<circle cx="516.6" cy="237.1" r="1.6" fill="#111" stroke="none" stroke-width="0"/>
<line x1="526.20" y1="246.73" x2="526.20" y2="244.26" stroke="#111" stroke-width="2.6"/>
<circle cx="526.2" cy="245.5" r="1.6" fill="#111" stroke="none" stroke-width="0"/>
<circle cx="535.8" cy="252.5" r="1.6" fill="#111" stroke="none" stroke-width="0"/>
<circle cx="556.6" cy="252.5" r="1.6" fill="#111" stroke="none" stroke-width="0"/>
<polyline points="577.6,214.2 659.4,223.7" fill="none" stroke="#e8141c" stroke-width="1"/>
<line x1="578.60" y1="215.01" x2="578.60" y2="213.36" stroke="#e8141c" stroke-width="2.6"/>
<circle cx="578.6" cy="214.2" r="1.6" fill="#e8141c" stroke="none" stroke-width="0"/>
<line x1="582.40" y1="216.24" x2="582.40" y2="214.60" stroke="#e8141c" stroke-width="2.6"/>
<circle cx="582.4" cy="215.4" r="1.6" fill="#e8141c" stroke="none" stroke-width="0"/>
<line x1="592.80" y1="217.07" x2="592.80" y2="215.42" stroke="#e8141c" stroke-width="2.6"/>
<circle cx="592.8" cy="216.2" r="1.6" fill="#e8141c" stroke="none" stroke-width="0"/>
<line x1="598.00" y1="217.48" x2="598.00" y2="215.83" stroke="#e8141c" stroke-width="2.6"/>
<circle cx="598.0" cy="216.7" r="1.6" fill="#e8141c" stroke="none" stroke-width="0"/>
<line x1="603.00" y1="217.89" x2="603.00" y2="215.83" stroke="#e8141c" stroke-width="2.6"/>
<circle cx="603.0" cy="216.9" r="1.6" fill="#e8141c" stroke="none" stroke-width="0"/>
<line x1="613.00" y1="219.33" x2="613.00" y2="217.69" stroke="#e8141c" stroke-width="2.6"/>
<circle cx="613.0" cy="218.5" r="1.6" fill="#e8141c" stroke="none" stroke-width="0"/>
<line x1="623.00" y1="221.19" x2="623.00" y2="219.13" stroke="#e8141c" stroke-width="2.6"/>
<circle cx="623.0" cy="220.2" r="1.6" fill="#e8141c" stroke="none" stroke-width="0"/>
<line x1="633.00" y1="222.01" x2="633.00" y2="219.95" stroke="#e8141c" stroke-width="2.6"/>
<circle cx="633.0" cy="221.0" r="1.6" fill="#e8141c" stroke="none" stroke-width="0"/>
<line x1="653.00" y1="222.63" x2="653.00" y2="220.57" stroke="#e8141c" stroke-width="2.6"/>
<circle cx="653.0" cy="221.6" r="1.6" fill="#e8141c" stroke="none" stroke-width="0"/>
<line x1="603.0" y1="252.5" x2="659.0" y2="252.5" stroke="#8a8a8a" stroke-width="2"/>
<polyline points="578.6,211.9 586.0,214.2 591.0,217.5 603.0,252.5" fill="none" stroke="#111" stroke-width="1"/>
<line x1="578.60" y1="212.54" x2="578.60" y2="210.06" stroke="#111" stroke-width="2.6"/>
<circle cx="578.6" cy="211.3" r="1.6" fill="#111" stroke="none" stroke-width="0"/>
<line x1="586.00" y1="215.42" x2="586.00" y2="213.77" stroke="#111" stroke-width="2.6"/>
<circle cx="586.0" cy="214.6" r="1.6" fill="#111" stroke="none" stroke-width="0"/>
<line x1="592.80" y1="221.81" x2="592.80" y2="220.16" stroke="#111" stroke-width="2.6"/>
<circle cx="592.8" cy="221.0" r="1.6" fill="#111" stroke="none" stroke-width="0"/>
<line x1="598.00" y1="234.99" x2="598.00" y2="232.93" stroke="#111" stroke-width="2.6"/>
<circle cx="598.0" cy="234.0" r="1.6" fill="#111" stroke="none" stroke-width="0"/>
<circle cx="603.0" cy="252.5" r="1.6" fill="#111" stroke="none" stroke-width="0"/>
<circle cx="613.0" cy="252.5" r="1.6" fill="#111" stroke="none" stroke-width="0"/>
<circle cx="623.0" cy="252.5" r="1.6" fill="#111" stroke="none" stroke-width="0"/>
<circle cx="633.0" cy="252.5" r="1.6" fill="#111" stroke="none" stroke-width="0"/>
<circle cx="653.0" cy="252.5" r="1.6" fill="#111" stroke="none" stroke-width="0"/>
<line x1="608.6" y1="181.8" x2="659.0" y2="181.8" stroke="#8a8a8a" stroke-width="2"/>
<polyline points="579.0,137.5 579.2,137.5 579.4,137.5 579.6,137.5 579.8,137.5 580.0,137.5 580.2,137.5 580.4,137.5 580.6,137.5 580.8,137.5 581.0,137.5 581.2,137.5 581.4,137.5 581.6,137.5 581.8,137.5 582.0,137.5 582.2,137.5 582.4,137.5 582.6,137.5 582.8,137.5 583.0,137.5 583.2,137.5 583.4,137.5 583.6,137.5 583.8,137.5 584.0,137.5 584.2,137.5 584.4,137.5 584.6,137.5 584.8,137.5 585.0,137.5 585.2,137.5 585.4,137.5 585.6,137.5 585.8,137.5 586.0,137.5 586.2,137.5 586.4,137.5 586.6,137.5 586.8,137.5 587.0,137.5 587.2,137.5 587.4,137.5 587.6,137.5 587.8,137.5 588.0,137.5 588.2,137.5 588.4,137.5 588.6,137.5 588.8,137.5 589.0,137.5 589.2,137.5 589.4,137.5 589.6,137.5 589.8,137.5 590.0,137.5 590.2,137.5 590.4,137.5 590.6,137.5 590.8,137.5 591.0,137.5 591.2,137.5 591.4,137.5 591.6,137.5 591.8,137.5 592.0,137.5 592.2,137.5 592.4,137.5 592.6,137.5 592.8,137.5 593.0,137.5 593.2,137.5 593.4,137.5 593.6,137.5 593.8,137.5 594.0,137.5 594.2,137.5 594.4,137.5 594.6,137.5 594.8,137.5 595.0,137.5 595.2,137.5 595.4,137.5 595.6,137.5 595.8,137.5 596.0,137.5 596.2,137.5 596.4,137.5 596.6,137.5 596.8,137.5 597.0,137.5 597.2,137.5 597.4,137.5 597.6,137.5 597.8,137.5 598.0,137.5 598.2,137.5 598.4,137.5 598.6,137.6 598.8,137.7 599.0,137.8 599.2,137.9 599.4,138.0 599.6,138.2 599.8,138.4 600.0,138.6 600.2,138.8 600.4,139.0 600.6,139.3 600.8,139.6 601.0,139.9 601.2,140.3 601.4,140.6 601.6,141.0 601.8,141.4 602.0,141.8 602.2,142.3 602.4,142.8 602.6,143.3 602.8,143.8 603.0,144.3 603.2,144.9 603.4,145.5 603.6,146.1 603.8,146.8 604.0,147.4 604.2,148.1 604.4,148.9 604.6,149.6 604.8,150.4 605.0,151.3 605.2,152.1 605.4,153.0 605.6,153.9 605.8,154.9 606.0,155.9 606.2,157.0 606.4,158.1 606.6,159.3 606.8,160.5 607.0,161.8 607.2,163.2 607.4,164.7 607.6,166.3 607.8,168.1 608.0,170.1 608.2,172.4 608.4,175.4 608.6,181.8 608.8,181.8 609.0,181.8" fill="none" stroke="#111" stroke-width="1"/>
<circle cx="615.0" cy="181.6" r="1.6" fill="#111" stroke="none" stroke-width="0"/>
<circle cx="625.0" cy="181.6" r="1.6" fill="#111" stroke="none" stroke-width="0"/>
<circle cx="635.6" cy="181.6" r="1.6" fill="#111" stroke="none" stroke-width="0"/>
<circle cx="656.4" cy="181.6" r="1.6" fill="#111" stroke="none" stroke-width="0"/>
<text x="0.2" y="314.4" font-size="13" text-anchor="start" fill="#000" font-weight="bold" font-style="normal" stroke="#000" stroke-width="0.55">c</text>
<text x="167.9" y="320.6" font-size="9.6" text-anchor="middle" fill="#000" font-weight="normal" font-style="normal" stroke="#000" stroke-width="0.1">Indigenous biomass activity, <tspan font-style="italic">x̃</tspan>(0)</text>
<circle cx="130.4" cy="343.0" r="3.75" fill="#84bcdc" stroke="#4a4a4a" stroke-width="0.4"/>
<circle cx="158.3" cy="343.0" r="3.75" fill="#9ecae1" stroke="#4a4a4a" stroke-width="0.4"/>
<circle cx="166.0" cy="343.0" r="3.75" fill="#9ecae1" stroke="#4a4a4a" stroke-width="0.4"/>
<circle cx="222.9" cy="343.0" r="3.75" fill="#84bcdc" stroke="#4a4a4a" stroke-width="0.4"/>
<circle cx="250.4" cy="343.0" r="3.75" fill="#2171b5" stroke="#4a4a4a" stroke-width="0.4"/>
<circle cx="253.6" cy="343.0" r="3.75" fill="#1461a8" stroke="#4a4a4a" stroke-width="0.4"/>
<circle cx="268.6" cy="343.0" r="3.75" fill="#eaf3fb" stroke="#4a4a4a" stroke-width="0.4"/>
<circle cx="252.6" cy="337.7" r="3.75" fill="#3282be" stroke="#4a4a4a" stroke-width="0.4"/>
<circle cx="257.0" cy="337.7" r="3.75" fill="#4292c6" stroke="#4a4a4a" stroke-width="0.4"/>
<circle cx="271.2" cy="337.7" r="3.75" fill="#d2e3f3" stroke="#4a4a4a" stroke-width="0.4"/>
<circle cx="76.9" cy="375.1" r="3.75" fill="#c6dbef" stroke="#4a4a4a" stroke-width="0.4"/>
<circle cx="89.2" cy="375.1" r="3.75" fill="#deebf7" stroke="#4a4a4a" stroke-width="0.4"/>
<circle cx="100.9" cy="375.1" r="3.75" fill="#84bcdc" stroke="#4a4a4a" stroke-width="0.4"/>
<circle cx="112.7" cy="375.1" r="3.75" fill="#6baed6" stroke="#4a4a4a" stroke-width="0.4"/>
<circle cx="123.6" cy="375.1" r="3.75" fill="#56a0ce" stroke="#4a4a4a" stroke-width="0.4"/>
<circle cx="132.2" cy="375.1" r="3.75" fill="#4a98c9" stroke="#4a4a4a" stroke-width="0.4"/>
<circle cx="167.2" cy="375.1" r="3.75" fill="#2171b5" stroke="#4a4a4a" stroke-width="0.4"/>
<circle cx="195.9" cy="375.1" r="3.75" fill="#1461a8" stroke="#4a4a4a" stroke-width="0.4"/>
<circle cx="223.4" cy="375.1" r="3.75" fill="#1461a8" stroke="#4a4a4a" stroke-width="0.4"/>
<circle cx="236.7" cy="375.1" r="3.75" fill="#08519c" stroke="#4a4a4a" stroke-width="0.4"/>
<circle cx="253.0" cy="375.1" r="3.75" fill="#08306b" stroke="#4a4a4a" stroke-width="0.4"/>
<circle cx="269.0" cy="375.1" r="3.75" fill="#deebf7" stroke="#4a4a4a" stroke-width="0.4"/>
<circle cx="65.0" cy="411.8" r="3.75" fill="#c6dbef" stroke="#4a4a4a" stroke-width="0.4"/>
<circle cx="89.9" cy="411.8" r="3.75" fill="#eaf3fb" stroke="#4a4a4a" stroke-width="0.4"/>
<circle cx="105.1" cy="411.8" r="3.75" fill="#c6dbef" stroke="#4a4a4a" stroke-width="0.4"/>
<circle cx="118.8" cy="411.8" r="3.75" fill="#aacfe5" stroke="#4a4a4a" stroke-width="0.4"/>
<circle cx="133.7" cy="411.8" r="3.75" fill="#84bcdc" stroke="#4a4a4a" stroke-width="0.4"/>
<circle cx="158.5" cy="411.8" r="3.75" fill="#7ab6d9" stroke="#4a4a4a" stroke-width="0.4"/>
<circle cx="169.9" cy="411.8" r="3.75" fill="#6baed6" stroke="#4a4a4a" stroke-width="0.4"/>
<circle cx="183.0" cy="411.8" r="3.75" fill="#56a0ce" stroke="#4a4a4a" stroke-width="0.4"/>
<circle cx="198.8" cy="411.8" r="3.75" fill="#3282be" stroke="#4a4a4a" stroke-width="0.4"/>
<circle cx="235.7" cy="411.8" r="3.75" fill="#08519c" stroke="#4a4a4a" stroke-width="0.4"/>
<circle cx="248.3" cy="411.8" r="3.75" fill="#08519c" stroke="#4a4a4a" stroke-width="0.4"/>
<circle cx="263.0" cy="411.8" r="3.75" fill="#56a0ce" stroke="#4a4a4a" stroke-width="0.4"/>
<circle cx="267.4" cy="411.8" r="3.75" fill="#deebf7" stroke="#4a4a4a" stroke-width="0.4"/>
<circle cx="60.1" cy="423.0" r="3.75" fill="#9ecae1" stroke="#4a4a4a" stroke-width="0.4"/>
<circle cx="84.5" cy="423.0" r="3.75" fill="#7ab6d9" stroke="#4a4a4a" stroke-width="0.4"/>
<circle cx="96.8" cy="423.0" r="3.75" fill="#94c4df" stroke="#4a4a4a" stroke-width="0.4"/>
<circle cx="107.4" cy="423.0" r="3.75" fill="#4292c6" stroke="#4a4a4a" stroke-width="0.4"/>
<circle cx="125.3" cy="423.0" r="3.75" fill="#4292c6" stroke="#4a4a4a" stroke-width="0.4"/>
<circle cx="133.7" cy="423.0" r="3.75" fill="#4292c6" stroke="#4a4a4a" stroke-width="0.4"/>
<circle cx="156.9" cy="423.0" r="3.75" fill="#4292c6" stroke="#4a4a4a" stroke-width="0.4"/>
<circle cx="169.5" cy="423.0" r="3.75" fill="#2171b5" stroke="#4a4a4a" stroke-width="0.4"/>
<circle cx="171.1" cy="422.8" r="3.75" fill="#3282be" stroke="#4a4a4a" stroke-width="0.4"/>
<circle cx="178.3" cy="422.8" r="3.75" fill="#3282be" stroke="#4a4a4a" stroke-width="0.4"/>
<circle cx="204.4" cy="422.8" r="3.75" fill="#1461a8" stroke="#4a4a4a" stroke-width="0.4"/>
<circle cx="231.6" cy="422.7" r="3.75" fill="#08519c" stroke="#4a4a4a" stroke-width="0.4"/>
<circle cx="253.4" cy="422.7" r="3.75" fill="#08519c" stroke="#4a4a4a" stroke-width="0.4"/>
<circle cx="266.4" cy="422.7" r="3.75" fill="#9ecae1" stroke="#4a4a4a" stroke-width="0.4"/>
<circle cx="72.9" cy="427.1" r="3.75" fill="#9ecae1" stroke="#4a4a4a" stroke-width="0.4"/>
<circle cx="97.7" cy="427.2" r="3.75" fill="#b2d2e8" stroke="#4a4a4a" stroke-width="0.4"/>
<circle cx="110.9" cy="426.8" r="3.75" fill="#deebf7" stroke="#4a4a4a" stroke-width="0.4"/>
<circle cx="121.3" cy="426.8" r="3.75" fill="#6baed6" stroke="#4a4a4a" stroke-width="0.4"/>
<circle cx="129.5" cy="426.8" r="3.75" fill="#6baed6" stroke="#4a4a4a" stroke-width="0.4"/>
<circle cx="144.6" cy="426.8" r="3.75" fill="#56a0ce" stroke="#4a4a4a" stroke-width="0.4"/>
<circle cx="159.0" cy="426.8" r="3.75" fill="#4292c6" stroke="#4a4a4a" stroke-width="0.4"/>
<circle cx="180.4" cy="427.2" r="3.75" fill="#4292c6" stroke="#4a4a4a" stroke-width="0.4"/>
<circle cx="200.9" cy="427.2" r="3.75" fill="#08519c" stroke="#4a4a4a" stroke-width="0.4"/>
<circle cx="233.2" cy="427.1" r="3.75" fill="#08519c" stroke="#4a4a4a" stroke-width="0.4"/>
<circle cx="251.8" cy="427.1" r="3.75" fill="#08306b" stroke="#4a4a4a" stroke-width="0.4"/>
<circle cx="268.4" cy="427.1" r="3.75" fill="#6baed6" stroke="#4a4a4a" stroke-width="0.4"/>
<circle cx="272.8" cy="427.1" r="3.75" fill="#eaf3fb" stroke="#4a4a4a" stroke-width="0.4"/>
<circle cx="61.0" cy="441.2" r="3.75" fill="#deebf7" stroke="#4a4a4a" stroke-width="0.4"/>
<circle cx="82.7" cy="441.3" r="3.75" fill="#9ecae1" stroke="#4a4a4a" stroke-width="0.4"/>
<circle cx="95.8" cy="441.4" r="3.75" fill="#9ecae1" stroke="#4a4a4a" stroke-width="0.4"/>
<circle cx="117.6" cy="441.3" r="3.75" fill="#eaf3fb" stroke="#4a4a4a" stroke-width="0.4"/>
<circle cx="128.5" cy="441.3" r="3.75" fill="#56a0ce" stroke="#4a4a4a" stroke-width="0.4"/>
<circle cx="154.6" cy="441.3" r="3.75" fill="#2171b5" stroke="#4a4a4a" stroke-width="0.4"/>
<circle cx="182.2" cy="441.2" r="3.75" fill="#1461a8" stroke="#4a4a4a" stroke-width="0.4"/>
<circle cx="202.4" cy="441.2" r="3.75" fill="#1461a8" stroke="#4a4a4a" stroke-width="0.4"/>
<circle cx="221.4" cy="441.2" r="3.75" fill="#08519c" stroke="#4a4a4a" stroke-width="0.4"/>
<circle cx="237.9" cy="441.3" r="3.75" fill="#08519c" stroke="#4a4a4a" stroke-width="0.4"/>
<circle cx="246.7" cy="441.4" r="3.75" fill="#08519c" stroke="#4a4a4a" stroke-width="0.4"/>
<circle cx="261.0" cy="441.4" r="3.75" fill="#08519c" stroke="#4a4a4a" stroke-width="0.4"/>
<circle cx="274.0" cy="441.4" r="3.75" fill="#eaf3fb" stroke="#4a4a4a" stroke-width="0.4"/>
<circle cx="62.8" cy="447.8" r="3.75" fill="#eaf3fb" stroke="#4a4a4a" stroke-width="0.4"/>
<circle cx="88.5" cy="447.8" r="3.75" fill="#c6dbef" stroke="#4a4a4a" stroke-width="0.4"/>
<circle cx="104.8" cy="447.8" r="3.75" fill="#94c4df" stroke="#4a4a4a" stroke-width="0.4"/>
<circle cx="115.8" cy="447.6" r="3.75" fill="#84bcdc" stroke="#4a4a4a" stroke-width="0.4"/>
<circle cx="128.9" cy="447.6" r="3.75" fill="#56a0ce" stroke="#4a4a4a" stroke-width="0.4"/>
<circle cx="149.9" cy="447.6" r="3.75" fill="#56a0ce" stroke="#4a4a4a" stroke-width="0.4"/>
<circle cx="163.5" cy="447.5" r="3.75" fill="#3888c1" stroke="#4a4a4a" stroke-width="0.4"/>
<circle cx="217.2" cy="447.4" r="3.75" fill="#1461a8" stroke="#4a4a4a" stroke-width="0.4"/>
<circle cx="222.1" cy="447.5" r="3.75" fill="#1461a8" stroke="#4a4a4a" stroke-width="0.4"/>
<circle cx="237.6" cy="447.5" r="3.75" fill="#08519c" stroke="#4a4a4a" stroke-width="0.4"/>
<circle cx="248.5" cy="447.5" r="3.75" fill="#08519c" stroke="#4a4a4a" stroke-width="0.4"/>
<circle cx="260.7" cy="447.5" r="3.75" fill="#08519c" stroke="#4a4a4a" stroke-width="0.4"/>
<circle cx="277.1" cy="447.5" r="3.75" fill="#eaf3fb" stroke="#4a4a4a" stroke-width="0.4"/>
<circle cx="69.8" cy="458.1" r="3.75" fill="#9ecae1" stroke="#4a4a4a" stroke-width="0.4"/>
<circle cx="85.3" cy="458.1" r="3.75" fill="#9ecae1" stroke="#4a4a4a" stroke-width="0.4"/>
<circle cx="101.9" cy="458.1" r="3.75" fill="#94c4df" stroke="#4a4a4a" stroke-width="0.4"/>
<circle cx="113.8" cy="458.1" r="3.75" fill="#6baed6" stroke="#4a4a4a" stroke-width="0.4"/>
<circle cx="127.5" cy="458.1" r="3.75" fill="#56a0ce" stroke="#4a4a4a" stroke-width="0.4"/>
<circle cx="131.6" cy="458.1" r="3.75" fill="#3282be" stroke="#4a4a4a" stroke-width="0.4"/>
<circle cx="157.6" cy="458.1" r="3.75" fill="#2171b5" stroke="#4a4a4a" stroke-width="0.4"/>
<circle cx="175.6" cy="458.1" r="3.75" fill="#2171b5" stroke="#4a4a4a" stroke-width="0.4"/>
<circle cx="192.1" cy="458.0" r="3.75" fill="#2171b5" stroke="#4a4a4a" stroke-width="0.4"/>
<circle cx="209.6" cy="458.0" r="3.75" fill="#2171b5" stroke="#4a4a4a" stroke-width="0.4"/>
<circle cx="229.0" cy="458.0" r="3.75" fill="#2171b5" stroke="#4a4a4a" stroke-width="0.4"/>
<circle cx="253.1" cy="458.1" r="3.75" fill="#3282be" stroke="#4a4a4a" stroke-width="0.4"/>
<circle cx="259.7" cy="458.1" r="3.75" fill="#b2d2e8" stroke="#4a4a4a" stroke-width="0.4"/>
<circle cx="71.0" cy="462.2" r="3.75" fill="#c6dbef" stroke="#4a4a4a" stroke-width="0.4"/>
<circle cx="95.8" cy="462.2" r="3.75" fill="#2171b5" stroke="#4a4a4a" stroke-width="0.4"/>
<circle cx="109.8" cy="462.2" r="3.75" fill="#2171b5" stroke="#4a4a4a" stroke-width="0.4"/>
<circle cx="118.3" cy="462.2" r="3.75" fill="#1461a8" stroke="#4a4a4a" stroke-width="0.4"/>
<circle cx="129.6" cy="462.2" r="3.75" fill="#08519c" stroke="#4a4a4a" stroke-width="0.4"/>
<circle cx="142.1" cy="462.2" r="3.75" fill="#08519c" stroke="#4a4a4a" stroke-width="0.4"/>
<circle cx="145.6" cy="462.2" r="3.75" fill="#1461a8" stroke="#4a4a4a" stroke-width="0.4"/>
<circle cx="171.3" cy="462.2" r="3.75" fill="#08519c" stroke="#4a4a4a" stroke-width="0.4"/>
<circle cx="195.6" cy="462.3" r="3.75" fill="#08519c" stroke="#4a4a4a" stroke-width="0.4"/>
<circle cx="207.0" cy="462.3" r="3.75" fill="#08519c" stroke="#4a4a4a" stroke-width="0.4"/>
<circle cx="231.6" cy="462.3" r="3.75" fill="#08519c" stroke="#4a4a4a" stroke-width="0.4"/>
<circle cx="256.2" cy="462.4" r="3.75" fill="#9ecae1" stroke="#4a4a4a" stroke-width="0.4"/>
<circle cx="272.2" cy="462.4" r="3.75" fill="#c6dbef" stroke="#4a4a4a" stroke-width="0.4"/>
<circle cx="80.9" cy="474.6" r="3.75" fill="#eaf3fb" stroke="#4a4a4a" stroke-width="0.4"/>
<circle cx="93.1" cy="474.6" r="3.75" fill="#3282be" stroke="#4a4a4a" stroke-width="0.4"/>
<circle cx="110.4" cy="474.6" r="3.75" fill="#2171b5" stroke="#4a4a4a" stroke-width="0.4"/>
<circle cx="126.1" cy="474.5" r="3.75" fill="#2171b5" stroke="#4a4a4a" stroke-width="0.4"/>
<circle cx="153.2" cy="474.5" r="3.75" fill="#2171b5" stroke="#4a4a4a" stroke-width="0.4"/>
<circle cx="183.3" cy="474.4" r="3.75" fill="#2171b5" stroke="#4a4a4a" stroke-width="0.4"/>
<circle cx="205.8" cy="474.4" r="3.75" fill="#2171b5" stroke="#4a4a4a" stroke-width="0.4"/>
<circle cx="214.6" cy="474.4" r="3.75" fill="#2171b5" stroke="#4a4a4a" stroke-width="0.4"/>
<circle cx="227.7" cy="474.4" r="3.75" fill="#2171b5" stroke="#4a4a4a" stroke-width="0.4"/>
<circle cx="238.2" cy="474.4" r="3.75" fill="#2878b8" stroke="#4a4a4a" stroke-width="0.4"/>
<circle cx="246.5" cy="474.4" r="3.75" fill="#2171b5" stroke="#4a4a4a" stroke-width="0.4"/>
<circle cx="256.9" cy="474.4" r="3.75" fill="#c6dbef" stroke="#4a4a4a" stroke-width="0.4"/>
<circle cx="274.0" cy="474.4" r="3.75" fill="#eaf3fb" stroke="#4a4a4a" stroke-width="0.4"/>
<circle cx="64.9" cy="483.4" r="3.75" fill="#f0f6fd" stroke="#4a4a4a" stroke-width="0.4"/>
<circle cx="85.3" cy="483.4" r="3.75" fill="#9ecae1" stroke="#4a4a4a" stroke-width="0.4"/>
<circle cx="101.9" cy="483.4" r="3.75" fill="#56a0ce" stroke="#4a4a4a" stroke-width="0.4"/>
<circle cx="114.2" cy="483.4" r="3.75" fill="#1461a8" stroke="#4a4a4a" stroke-width="0.4"/>
<circle cx="126.1" cy="483.4" r="3.75" fill="#1461a8" stroke="#4a4a4a" stroke-width="0.4"/>
<circle cx="143.2" cy="483.4" r="3.75" fill="#1461a8" stroke="#4a4a4a" stroke-width="0.4"/>
<circle cx="162.6" cy="483.4" r="3.75" fill="#1461a8" stroke="#4a4a4a" stroke-width="0.4"/>
<circle cx="188.8" cy="483.4" r="3.75" fill="#1461a8" stroke="#4a4a4a" stroke-width="0.4"/>
<circle cx="207.6" cy="483.4" r="3.75" fill="#1461a8" stroke="#4a4a4a" stroke-width="0.4"/>
<circle cx="215.4" cy="483.4" r="3.75" fill="#1461a8" stroke="#4a4a4a" stroke-width="0.4"/>
<circle cx="231.7" cy="483.4" r="3.75" fill="#1461a8" stroke="#4a4a4a" stroke-width="0.4"/>
<circle cx="245.4" cy="483.4" r="3.75" fill="#2171b5" stroke="#4a4a4a" stroke-width="0.4"/>
<circle cx="270.5" cy="483.4" r="3.75" fill="#c6dbef" stroke="#4a4a4a" stroke-width="0.4"/>
<circle cx="68.0" cy="501.4" r="3.75" fill="#eaf3fb" stroke="#4a4a4a" stroke-width="0.4"/>
<circle cx="71.0" cy="498.8" r="3.75" fill="#f0f6fd" stroke="#4a4a4a" stroke-width="0.4"/>
<circle cx="85.5" cy="501.4" r="3.75" fill="#6baed6" stroke="#4a4a4a" stroke-width="0.4"/>
<circle cx="89.0" cy="498.8" r="3.75" fill="#b2d2e8" stroke="#4a4a4a" stroke-width="0.4"/>
<circle cx="105.4" cy="498.8" r="3.75" fill="#56a0ce" stroke="#4a4a4a" stroke-width="0.4"/>
<circle cx="109.8" cy="501.4" r="3.75" fill="#4292c6" stroke="#4a4a4a" stroke-width="0.4"/>
<circle cx="116.1" cy="498.8" r="3.75" fill="#2171b5" stroke="#4a4a4a" stroke-width="0.4"/>
<circle cx="126.4" cy="498.8" r="3.75" fill="#2171b5" stroke="#4a4a4a" stroke-width="0.4"/>
<circle cx="130.4" cy="501.4" r="3.75" fill="#2171b5" stroke="#4a4a4a" stroke-width="0.4"/>
<circle cx="147.1" cy="498.8" r="3.75" fill="#2171b5" stroke="#4a4a4a" stroke-width="0.4"/>
<circle cx="153.5" cy="501.4" r="3.75" fill="#2171b5" stroke="#4a4a4a" stroke-width="0.4"/>
<circle cx="169.9" cy="501.4" r="3.75" fill="#2171b5" stroke="#4a4a4a" stroke-width="0.4"/>
<circle cx="173.4" cy="498.8" r="3.75" fill="#2171b5" stroke="#4a4a4a" stroke-width="0.4"/>
<circle cx="185.1" cy="498.8" r="3.75" fill="#2171b5" stroke="#4a4a4a" stroke-width="0.4"/>
<circle cx="186.2" cy="501.4" r="3.75" fill="#2171b5" stroke="#4a4a4a" stroke-width="0.4"/>
<circle cx="198.2" cy="501.4" r="3.75" fill="#2171b5" stroke="#4a4a4a" stroke-width="0.4"/>
<circle cx="205.2" cy="498.8" r="3.75" fill="#2171b5" stroke="#4a4a4a" stroke-width="0.4"/>
<circle cx="204.6" cy="501.4" r="3.75" fill="#1461a8" stroke="#4a4a4a" stroke-width="0.4"/>
<circle cx="220.6" cy="498.8" r="3.75" fill="#2171b5" stroke="#4a4a4a" stroke-width="0.4"/>
<circle cx="224.1" cy="501.4" r="3.75" fill="#1461a8" stroke="#4a4a4a" stroke-width="0.4"/>
<circle cx="235.8" cy="498.8" r="3.75" fill="#2171b5" stroke="#4a4a4a" stroke-width="0.4"/>
<circle cx="240.2" cy="501.4" r="3.75" fill="#1461a8" stroke="#4a4a4a" stroke-width="0.4"/>
<circle cx="254.5" cy="498.6" r="3.75" fill="#c6dbef" stroke="#4a4a4a" stroke-width="0.4"/>
<circle cx="257.4" cy="501.5" r="3.75" fill="#9ecae1" stroke="#4a4a4a" stroke-width="0.4"/>
<circle cx="272.0" cy="498.5" r="3.75" fill="#eaf3fb" stroke="#4a4a4a" stroke-width="0.4"/>
<circle cx="277.2" cy="501.5" r="3.75" fill="#9ecae1" stroke="#4a4a4a" stroke-width="0.4"/>
<circle cx="55.8" cy="507.8" r="3.75" fill="#eaf3fb" stroke="#4a4a4a" stroke-width="0.4"/>
<circle cx="76.8" cy="507.8" r="3.75" fill="#9ecae1" stroke="#4a4a4a" stroke-width="0.4"/>
<circle cx="94.3" cy="507.8" r="3.75" fill="#6baed6" stroke="#4a4a4a" stroke-width="0.4"/>
<circle cx="109.6" cy="507.8" r="3.75" fill="#3282be" stroke="#4a4a4a" stroke-width="0.4"/>
<circle cx="123.8" cy="507.8" r="3.75" fill="#2171b5" stroke="#4a4a4a" stroke-width="0.4"/>
<circle cx="134.3" cy="507.8" r="3.75" fill="#2171b5" stroke="#4a4a4a" stroke-width="0.4"/>
<circle cx="156.5" cy="507.8" r="3.75" fill="#2171b5" stroke="#4a4a4a" stroke-width="0.4"/>
<circle cx="179.0" cy="507.8" r="3.75" fill="#2171b5" stroke="#4a4a4a" stroke-width="0.4"/>
<circle cx="194.2" cy="507.8" r="3.75" fill="#1461a8" stroke="#4a4a4a" stroke-width="0.4"/>
<circle cx="210.4" cy="507.8" r="3.75" fill="#2171b5" stroke="#4a4a4a" stroke-width="0.4"/>
<circle cx="225.0" cy="507.8" r="3.75" fill="#2171b5" stroke="#4a4a4a" stroke-width="0.4"/>
<circle cx="248.3" cy="507.6" r="3.75" fill="#d2e3f3" stroke="#4a4a4a" stroke-width="0.4"/>
<circle cx="268.6" cy="507.4" r="3.75" fill="#9ecae1" stroke="#4a4a4a" stroke-width="0.4"/>
<circle cx="61.6" cy="512.4" r="3.75" fill="#56a0ce" stroke="#4a4a4a" stroke-width="0.4"/>
<circle cx="73.3" cy="515.1" r="3.75" fill="#9ecae1" stroke="#4a4a4a" stroke-width="0.4"/>
<circle cx="91.4" cy="512.4" r="3.75" fill="#4292c6" stroke="#4a4a4a" stroke-width="0.4"/>
<circle cx="98.2" cy="515.1" r="3.75" fill="#4292c6" stroke="#4a4a4a" stroke-width="0.4"/>
<circle cx="106.3" cy="512.4" r="3.75" fill="#2171b5" stroke="#4a4a4a" stroke-width="0.4"/>
<circle cx="116.6" cy="515.1" r="3.75" fill="#2171b5" stroke="#4a4a4a" stroke-width="0.4"/>
<circle cx="120.4" cy="512.4" r="3.75" fill="#08519c" stroke="#4a4a4a" stroke-width="0.4"/>
<circle cx="134.6" cy="515.1" r="3.75" fill="#2171b5" stroke="#4a4a4a" stroke-width="0.4"/>
<circle cx="143.6" cy="512.4" r="3.75" fill="#08519c" stroke="#4a4a4a" stroke-width="0.4"/>
<circle cx="165.2" cy="512.4" r="3.75" fill="#08519c" stroke="#4a4a4a" stroke-width="0.4"/>
<circle cx="165.2" cy="515.1" r="3.75" fill="#1461a8" stroke="#4a4a4a" stroke-width="0.4"/>
<circle cx="182.5" cy="515.1" r="3.75" fill="#2171b5" stroke="#4a4a4a" stroke-width="0.4"/>
<circle cx="188.0" cy="512.4" r="3.75" fill="#08519c" stroke="#4a4a4a" stroke-width="0.4"/>
<circle cx="197.0" cy="515.1" r="3.75" fill="#2171b5" stroke="#4a4a4a" stroke-width="0.4"/>
<circle cx="207.5" cy="515.1" r="3.75" fill="#2171b5" stroke="#4a4a4a" stroke-width="0.4"/>
<circle cx="210.4" cy="512.4" r="3.75" fill="#1461a8" stroke="#4a4a4a" stroke-width="0.4"/>
<circle cx="221.0" cy="512.4" r="3.75" fill="#08519c" stroke="#4a4a4a" stroke-width="0.4"/>
<circle cx="233.2" cy="512.4" r="3.75" fill="#08519c" stroke="#4a4a4a" stroke-width="0.4"/>
<circle cx="235.0" cy="515.1" r="3.75" fill="#08519c" stroke="#4a4a4a" stroke-width="0.4"/>
<circle cx="243.7" cy="512.4" r="3.75" fill="#08519c" stroke="#4a4a4a" stroke-width="0.4"/>
<circle cx="248.6" cy="515.2" r="3.75" fill="#4292c6" stroke="#4a4a4a" stroke-width="0.4"/>
<circle cx="254.3" cy="512.2" r="3.75" fill="#c6dbef" stroke="#4a4a4a" stroke-width="0.4"/>
<circle cx="265.6" cy="515.2" r="3.75" fill="#9ecae1" stroke="#4a4a4a" stroke-width="0.4"/>
<circle cx="269.2" cy="512.8" r="3.75" fill="#deebf7" stroke="#4a4a4a" stroke-width="0.4"/>
<circle cx="278.2" cy="515.2" r="3.75" fill="#c6dbef" stroke="#4a4a4a" stroke-width="0.4"/>
<circle cx="68.6" cy="525.6" r="3.75" fill="#6baed6" stroke="#4a4a4a" stroke-width="0.4"/>
<circle cx="90.5" cy="525.6" r="3.75" fill="#08519c" stroke="#4a4a4a" stroke-width="0.4"/>
<circle cx="112.4" cy="525.6" r="3.75" fill="#08519c" stroke="#4a4a4a" stroke-width="0.4"/>
<circle cx="125.3" cy="525.6" r="3.75" fill="#08306b" stroke="#4a4a4a" stroke-width="0.4"/>
<circle cx="150.3" cy="525.6" r="3.75" fill="#08306b" stroke="#4a4a4a" stroke-width="0.4"/>
<circle cx="176.7" cy="525.6" r="3.75" fill="#08306b" stroke="#4a4a4a" stroke-width="0.4"/>
<circle cx="201.7" cy="525.6" r="3.75" fill="#08306b" stroke="#4a4a4a" stroke-width="0.4"/>
<circle cx="205.0" cy="525.6" r="3.75" fill="#08306b" stroke="#4a4a4a" stroke-width="0.4"/>
<circle cx="215.1" cy="525.6" r="3.75" fill="#08306b" stroke="#4a4a4a" stroke-width="0.4"/>
<circle cx="227.1" cy="525.6" r="3.75" fill="#1461a8" stroke="#4a4a4a" stroke-width="0.4"/>
<circle cx="242.2" cy="525.8" r="3.75" fill="#56a0ce" stroke="#4a4a4a" stroke-width="0.4"/>
<circle cx="258.5" cy="525.9" r="3.75" fill="#56a0ce" stroke="#4a4a4a" stroke-width="0.4"/>
<circle cx="272.8" cy="525.9" r="3.75" fill="#9ecae1" stroke="#4a4a4a" stroke-width="0.4"/>
<circle cx="65.1" cy="532.0" r="3.75" fill="#c6dbef" stroke="#4a4a4a" stroke-width="0.4"/>
<circle cx="80.9" cy="532.0" r="3.75" fill="#56a0ce" stroke="#4a4a4a" stroke-width="0.4"/>
<circle cx="97.8" cy="532.0" r="3.75" fill="#4292c6" stroke="#4a4a4a" stroke-width="0.4"/>
<circle cx="112.2" cy="532.0" r="3.75" fill="#1461a8" stroke="#4a4a4a" stroke-width="0.4"/>
<circle cx="126.7" cy="532.0" r="3.75" fill="#1461a8" stroke="#4a4a4a" stroke-width="0.4"/>
<circle cx="136.6" cy="532.0" r="3.75" fill="#2171b5" stroke="#4a4a4a" stroke-width="0.4"/>
<circle cx="154.5" cy="532.0" r="3.75" fill="#1461a8" stroke="#4a4a4a" stroke-width="0.4"/>
<circle cx="189.5" cy="532.0" r="3.75" fill="#1461a8" stroke="#4a4a4a" stroke-width="0.4"/>
<circle cx="204.6" cy="532.0" r="3.75" fill="#1461a8" stroke="#4a4a4a" stroke-width="0.4"/>
<circle cx="219.4" cy="532.0" r="3.75" fill="#1461a8" stroke="#4a4a4a" stroke-width="0.4"/>
<circle cx="237.3" cy="532.0" r="3.75" fill="#1461a8" stroke="#4a4a4a" stroke-width="0.4"/>
<circle cx="258.6" cy="532.2" r="3.75" fill="#d2e3f3" stroke="#4a4a4a" stroke-width="0.4"/>
<circle cx="268.4" cy="532.2" r="3.75" fill="#d2e3f3" stroke="#4a4a4a" stroke-width="0.4"/>
<circle cx="74.4" cy="548.7" r="3.75" fill="#9ecae1" stroke="#4a4a4a" stroke-width="0.4"/>
<circle cx="92.7" cy="548.7" r="3.75" fill="#0d57a1" stroke="#4a4a4a" stroke-width="0.4"/>
<circle cx="122.2" cy="548.7" r="3.75" fill="#084084" stroke="#4a4a4a" stroke-width="0.4"/>
<circle cx="161.7" cy="548.7" r="3.75" fill="#08306b" stroke="#4a4a4a" stroke-width="0.4"/>
<circle cx="182.8" cy="548.7" r="3.75" fill="#08306b" stroke="#4a4a4a" stroke-width="0.4"/>
<circle cx="201.0" cy="548.7" r="3.75" fill="#083775" stroke="#4a4a4a" stroke-width="0.4"/>
<circle cx="212.5" cy="548.7" r="3.75" fill="#08306b" stroke="#4a4a4a" stroke-width="0.4"/>
<circle cx="219.4" cy="548.7" r="3.75" fill="#083775" stroke="#4a4a4a" stroke-width="0.4"/>
<circle cx="230.7" cy="548.7" r="3.75" fill="#08306b" stroke="#4a4a4a" stroke-width="0.4"/>
<circle cx="237.8" cy="548.7" r="3.75" fill="#08519c" stroke="#4a4a4a" stroke-width="0.4"/>
<circle cx="250.1" cy="548.6" r="3.75" fill="#08519c" stroke="#4a4a4a" stroke-width="0.4"/>
<circle cx="258.5" cy="548.6" r="3.75" fill="#3282be" stroke="#4a4a4a" stroke-width="0.4"/>
<circle cx="272.8" cy="548.6" r="3.75" fill="#4292c6" stroke="#4a4a4a" stroke-width="0.4"/>
<path d="M171.2,325.3 C171.2,328.1 171.6,338.6 171.2,342.3 C170.8,346.1 170.0,346.3 168.5,347.8 C167.0,349.3 165.9,350.1 162.0,351.3 C158.1,352.5 150.1,353.9 145.0,355.0 C139.9,356.1 136.0,356.4 131.3,357.8 C126.6,359.2 120.6,361.4 117.0,363.2 C113.4,365.0 111.1,366.7 109.5,368.5 C107.9,370.3 107.3,372.1 107.4,374.0 C107.5,375.9 108.2,378.1 109.9,380.0 C111.6,381.9 113.8,383.2 117.8,385.3 C121.8,387.4 128.0,389.7 133.6,392.3 C139.2,394.9 146.7,398.7 151.1,401.0 C155.5,403.3 157.8,404.6 159.9,406.3 C162.0,408.1 163.1,409.9 163.4,411.5 C163.7,413.1 162.9,414.9 161.5,416.0 C160.1,417.1 159.1,417.7 155.0,418.1 C150.9,418.5 141.0,418.2 137.1,418.5 C133.2,418.8 133.4,418.7 131.8,419.9 C130.2,421.1 129.2,422.2 127.4,425.5 C125.7,428.8 123.5,434.9 121.3,439.6 C119.1,444.3 116.6,448.4 114.3,453.6 C112.0,458.9 109.6,465.9 107.3,471.1 C105.0,476.4 102.5,480.5 100.3,485.1 C98.1,489.8 96.2,495.4 94.2,499.0 C92.2,502.6 90.0,504.6 88.0,507.0 C86.0,509.4 83.8,511.1 82.0,513.5 C80.2,516.0 78.4,519.0 77.2,521.7 C76.0,524.4 74.9,527.0 74.8,529.7 C74.7,532.4 75.9,535.3 76.6,538.0 C77.3,540.7 78.5,542.0 79.0,546.0 C79.5,550.0 79.7,559.6 79.8,562.3" stroke="#2a2a2a" stroke-width="0.9" fill="none"/>
<path d="M269.4,325.3 C268.6,326.9 265.8,331.9 264.5,335.0 C263.2,338.1 262.1,341.2 261.6,344.0 C261.1,346.8 261.4,338.6 261.3,352.0 C261.2,365.4 260.8,411.2 261.3,424.5 C261.8,437.8 263.2,429.2 264.3,432.0 C265.4,434.8 267.4,438.3 267.7,441.0 C268.0,443.7 267.2,446.1 266.4,448.0 C265.6,449.9 264.9,451.3 263.0,452.4 C261.1,453.4 256.9,453.1 255.0,454.3 C253.1,455.5 252.4,457.4 251.6,459.3 C250.8,461.2 250.5,460.9 250.3,466.0 C250.1,471.1 250.4,484.8 250.3,490.0 C250.2,495.2 250.9,494.5 250.0,497.0 C249.1,499.5 246.5,501.9 244.9,505.2 C243.3,508.5 241.4,513.2 240.2,516.9 C239.0,520.6 237.2,523.7 237.5,527.4 C237.8,531.1 240.9,535.0 242.2,539.0 C243.5,543.0 244.7,547.7 245.3,551.6 C245.9,555.5 245.9,560.5 246.0,562.3" stroke="#2a2a2a" stroke-width="0.9" fill="none"/>
<rect x="44.50" y="325.50" width="247.00" height="237.00" fill="none" stroke="#878787" stroke-width="1"/>
<text x="73.1" y="362.6" font-size="9.8" text-anchor="middle" fill="#4650c4" font-weight="normal" font-style="normal" stroke="#4650c4" stroke-width="0.1">I</text>
<text x="205.5" y="362.6" font-size="9.8" text-anchor="middle" fill="#4650c4" font-weight="normal" font-style="normal" stroke="#4650c4" stroke-width="0.1">II</text>
<text x="277.2" y="362.6" font-size="9.8" text-anchor="middle" fill="#4650c4" font-weight="normal" font-style="normal" stroke="#4650c4" stroke-width="0.1">III</text>
<text x="82.2" y="410.0" font-size="9" text-anchor="middle" fill="#1a1a1a" font-weight="normal" font-style="normal" stroke="#1a1a1a" stroke-width="0.1" letter-spacing="0.5">i</text>
<text x="228.9" y="409.0" font-size="9" text-anchor="middle" fill="#1a1a1a" font-weight="normal" font-style="normal" stroke="#1a1a1a" stroke-width="0.1" letter-spacing="0.5">ii</text>
<text x="272.4" y="406.6" font-size="9" text-anchor="middle" fill="#1a1a1a" font-weight="normal" font-style="normal" stroke="#1a1a1a" stroke-width="0.1" letter-spacing="0.5">iii</text>
<text x="55.8" y="538.8" font-size="9" text-anchor="middle" fill="#1a1a1a" font-weight="normal" font-style="normal" stroke="#1a1a1a" stroke-width="0.1" letter-spacing="0.5">iv</text>
<text x="161.3" y="540.3" font-size="9" text-anchor="middle" fill="#1a1a1a" font-weight="normal" font-style="normal" stroke="#1a1a1a" stroke-width="0.1" letter-spacing="0.5">v</text>
<text x="250.4" y="538.5" font-size="9" text-anchor="middle" fill="#1a1a1a" font-weight="normal" font-style="normal" stroke="#1a1a1a" stroke-width="0.1" letter-spacing="0.5">vi</text>
<line x1="41.00" y1="327.50" x2="44.50" y2="327.50" stroke="#878787" stroke-width="1"/>
<text x="36.2" y="330.8" font-size="9" text-anchor="end" fill="#000" font-weight="normal" font-style="normal" stroke="#000" stroke-width="0.1">8.5</text>
<line x1="41.00" y1="356.50" x2="44.50" y2="356.50" stroke="#878787" stroke-width="1"/>
<text x="36.2" y="359.8" font-size="9" text-anchor="end" fill="#000" font-weight="normal" font-style="normal" stroke="#000" stroke-width="0.1">8.0</text>
<line x1="41.00" y1="385.50" x2="44.50" y2="385.50" stroke="#878787" stroke-width="1"/>
<text x="36.2" y="388.8" font-size="9" text-anchor="end" fill="#000" font-weight="normal" font-style="normal" stroke="#000" stroke-width="0.1">7.5</text>
<line x1="41.00" y1="414.50" x2="44.50" y2="414.50" stroke="#878787" stroke-width="1"/>
<text x="36.2" y="417.8" font-size="9" text-anchor="end" fill="#000" font-weight="normal" font-style="normal" stroke="#000" stroke-width="0.1">7.0</text>
<line x1="41.00" y1="444.50" x2="44.50" y2="444.50" stroke="#878787" stroke-width="1"/>
<text x="36.2" y="447.8" font-size="9" text-anchor="end" fill="#000" font-weight="normal" font-style="normal" stroke="#000" stroke-width="0.1">6.5</text>
<line x1="41.00" y1="473.50" x2="44.50" y2="473.50" stroke="#878787" stroke-width="1"/>
<text x="36.2" y="476.8" font-size="9" text-anchor="end" fill="#000" font-weight="normal" font-style="normal" stroke="#000" stroke-width="0.1">6.0</text>
<line x1="41.00" y1="502.50" x2="44.50" y2="502.50" stroke="#878787" stroke-width="1"/>
<text x="36.2" y="505.8" font-size="9" text-anchor="end" fill="#000" font-weight="normal" font-style="normal" stroke="#000" stroke-width="0.1">5.5</text>
<line x1="41.00" y1="531.50" x2="44.50" y2="531.50" stroke="#878787" stroke-width="1"/>
<text x="36.2" y="534.8" font-size="9" text-anchor="end" fill="#000" font-weight="normal" font-style="normal" stroke="#000" stroke-width="0.1">5.0</text>
<line x1="41.00" y1="560.50" x2="44.50" y2="560.50" stroke="#878787" stroke-width="1"/>
<text x="36.2" y="563.8" font-size="9" text-anchor="end" fill="#000" font-weight="normal" font-style="normal" stroke="#000" stroke-width="0.1">4.5</text>
<line x1="62.50" y1="562.50" x2="62.50" y2="566.00" stroke="#878787" stroke-width="1"/>
<text x="62.5" y="577.4" font-size="9" text-anchor="middle" fill="#000" font-weight="normal" font-style="normal" stroke="#000" stroke-width="0.1">3</text>
<line x1="100.50" y1="562.50" x2="100.50" y2="566.00" stroke="#878787" stroke-width="1"/>
<text x="100.5" y="577.4" font-size="9" text-anchor="middle" fill="#000" font-weight="normal" font-style="normal" stroke="#000" stroke-width="0.1">4</text>
<line x1="137.50" y1="562.50" x2="137.50" y2="566.00" stroke="#878787" stroke-width="1"/>
<text x="137.5" y="577.4" font-size="9" text-anchor="middle" fill="#000" font-weight="normal" font-style="normal" stroke="#000" stroke-width="0.1">5</text>
<line x1="175.50" y1="562.50" x2="175.50" y2="566.00" stroke="#878787" stroke-width="1"/>
<text x="175.5" y="577.4" font-size="9" text-anchor="middle" fill="#000" font-weight="normal" font-style="normal" stroke="#000" stroke-width="0.1">6</text>
<line x1="213.50" y1="562.50" x2="213.50" y2="566.00" stroke="#878787" stroke-width="1"/>
<text x="213.5" y="577.4" font-size="9" text-anchor="middle" fill="#000" font-weight="normal" font-style="normal" stroke="#000" stroke-width="0.1">7</text>
<line x1="251.50" y1="562.50" x2="251.50" y2="566.00" stroke="#878787" stroke-width="1"/>
<text x="251.5" y="577.4" font-size="9" text-anchor="middle" fill="#000" font-weight="normal" font-style="normal" stroke="#000" stroke-width="0.1">8</text>
<line x1="288.50" y1="562.50" x2="288.50" y2="566.00" stroke="#878787" stroke-width="1"/>
<text x="288.5" y="577.4" font-size="9" text-anchor="middle" fill="#000" font-weight="normal" font-style="normal" stroke="#000" stroke-width="0.1">9</text>
<text x="168" y="592.4" font-size="9.5" text-anchor="middle" fill="#000" font-weight="normal" font-style="normal" stroke="#000" stroke-width="0.1">Perturbed pH</text>
<text x="12.5" y="446.2" font-size="9.5" text-anchor="middle" fill="#000" font-weight="normal" font-style="normal" stroke="#000" stroke-width="0.1" transform="rotate(-90 12.5 446.2)">Native pH</text>
<rect x="293.30" y="325.40" width="10.70" height="104.90" fill="url(#gblu)" stroke="none" stroke-width="1"/>
<line x1="293.30" y1="363.30" x2="295.20" y2="363.30" stroke="#fff" stroke-width="0.6"/>
<line x1="302.10" y1="363.30" x2="304.00" y2="363.30" stroke="#fff" stroke-width="0.6"/>
<text x="307.7" y="366.6" font-size="8.8" text-anchor="start" fill="#000" font-weight="normal" font-style="normal" stroke="#000" stroke-width="0.1">10<tspan dy="-4.1" font-size="6.3">−1</tspan></text>
<line x1="293.30" y1="410.90" x2="295.20" y2="410.90" stroke="#fff" stroke-width="0.6"/>
<line x1="302.10" y1="410.90" x2="304.00" y2="410.90" stroke="#fff" stroke-width="0.6"/>
<text x="307.7" y="414.2" font-size="8.8" text-anchor="start" fill="#000" font-weight="normal" font-style="normal" stroke="#000" stroke-width="0.1">10<tspan dy="-4.1" font-size="6.3">−2</tspan></text>
<text x="335.5" y="378" font-size="9.3" text-anchor="middle" fill="#000" font-weight="normal" font-style="normal" stroke="#000" stroke-width="0.1" transform="rotate(-90 335.5 378)"><tspan font-style="italic">x̃</tspan>(0)</text>
<text x="348.7" y="314.5" font-size="13" text-anchor="start" fill="#000" font-weight="bold" font-style="normal" stroke="#000" stroke-width="0.55">d</text>
<text x="510.3" y="320.4" font-size="9.6" text-anchor="middle" fill="#000" font-weight="normal" font-style="normal" stroke="#000" stroke-width="0.1">Available limiting nutrient, <tspan font-style="italic">γC̃</tspan>(0)</text>
<circle cx="473.2" cy="343.0" r="3.75" fill="#dbdaeb" stroke="#4a4a4a" stroke-width="0.4"/>
<circle cx="501.1" cy="343.0" r="3.75" fill="#d3d4e8" stroke="#4a4a4a" stroke-width="0.4"/>
<circle cx="508.8" cy="343.0" r="3.75" fill="#d0d1e6" stroke="#4a4a4a" stroke-width="0.4"/>
<circle cx="565.7" cy="343.0" r="3.75" fill="#b6b6d8" stroke="#4a4a4a" stroke-width="0.4"/>
<circle cx="593.2" cy="343.0" r="3.75" fill="#9894c5" stroke="#4a4a4a" stroke-width="0.4"/>
<circle cx="596.4" cy="343.0" r="3.75" fill="#9390c3" stroke="#4a4a4a" stroke-width="0.4"/>
<circle cx="611.4" cy="343.0" r="3.75" fill="#4a1486" stroke="#4a4a4a" stroke-width="0.4"/>
<circle cx="595.4" cy="337.7" r="3.75" fill="#9b97c7" stroke="#4a4a4a" stroke-width="0.4"/>
<circle cx="599.8" cy="337.7" r="3.75" fill="#9d99c8" stroke="#4a4a4a" stroke-width="0.4"/>
<circle cx="614.0" cy="337.7" r="3.75" fill="#4a1486" stroke="#4a4a4a" stroke-width="0.4"/>
<circle cx="419.7" cy="375.1" r="3.75" fill="#f0eff6" stroke="#4a4a4a" stroke-width="0.4"/>
<circle cx="432.0" cy="375.1" r="3.75" fill="#f2f0f7" stroke="#4a4a4a" stroke-width="0.4"/>
<circle cx="443.7" cy="375.1" r="3.75" fill="#e3e2ef" stroke="#4a4a4a" stroke-width="0.4"/>
<circle cx="455.5" cy="375.1" r="3.75" fill="#ddddec" stroke="#4a4a4a" stroke-width="0.4"/>
<circle cx="466.4" cy="375.1" r="3.75" fill="#d6d6e9" stroke="#4a4a4a" stroke-width="0.4"/>
<circle cx="475.0" cy="375.1" r="3.75" fill="#d0d1e6" stroke="#4a4a4a" stroke-width="0.4"/>
<circle cx="510.0" cy="375.1" r="3.75" fill="#b9bada" stroke="#4a4a4a" stroke-width="0.4"/>
<circle cx="538.7" cy="375.1" r="3.75" fill="#aaa8d0" stroke="#4a4a4a" stroke-width="0.4"/>
<circle cx="566.2" cy="375.1" r="3.75" fill="#9f9bc9" stroke="#4a4a4a" stroke-width="0.4"/>
<circle cx="579.5" cy="375.1" r="3.75" fill="#9693c4" stroke="#4a4a4a" stroke-width="0.4"/>
<circle cx="595.8" cy="375.1" r="3.75" fill="#8885be" stroke="#4a4a4a" stroke-width="0.4"/>
<circle cx="611.8" cy="375.1" r="3.75" fill="#4a1486" stroke="#4a4a4a" stroke-width="0.4"/>
<circle cx="407.8" cy="411.8" r="3.75" fill="#f2f1f7" stroke="#4a4a4a" stroke-width="0.4"/>
<circle cx="432.7" cy="411.8" r="3.75" fill="#f3f1f7" stroke="#4a4a4a" stroke-width="0.4"/>
<circle cx="447.9" cy="411.8" r="3.75" fill="#e9e8f2" stroke="#4a4a4a" stroke-width="0.4"/>
<circle cx="461.6" cy="411.8" r="3.75" fill="#e2e1ef" stroke="#4a4a4a" stroke-width="0.4"/>
<circle cx="476.5" cy="411.8" r="3.75" fill="#d9d9eb" stroke="#4a4a4a" stroke-width="0.4"/>
<circle cx="501.3" cy="411.8" r="3.75" fill="#cecee5" stroke="#4a4a4a" stroke-width="0.4"/>
<circle cx="512.7" cy="411.8" r="3.75" fill="#c7c8e2" stroke="#4a4a4a" stroke-width="0.4"/>
<circle cx="525.8" cy="411.8" r="3.75" fill="#bebfdd" stroke="#4a4a4a" stroke-width="0.4"/>
<circle cx="541.6" cy="411.8" r="3.75" fill="#b1b0d4" stroke="#4a4a4a" stroke-width="0.4"/>
<circle cx="578.5" cy="411.8" r="3.75" fill="#9793c5" stroke="#4a4a4a" stroke-width="0.4"/>
<circle cx="591.1" cy="411.8" r="3.75" fill="#928ec2" stroke="#4a4a4a" stroke-width="0.4"/>
<circle cx="605.8" cy="411.8" r="3.75" fill="#63449d" stroke="#4a4a4a" stroke-width="0.4"/>
<circle cx="610.2" cy="411.8" r="3.75" fill="#4a1486" stroke="#4a4a4a" stroke-width="0.4"/>
<circle cx="402.9" cy="423.0" r="3.75" fill="#f0eef6" stroke="#4a4a4a" stroke-width="0.4"/>
<circle cx="427.3" cy="423.0" r="3.75" fill="#e6e5f1" stroke="#4a4a4a" stroke-width="0.4"/>
<circle cx="439.6" cy="423.0" r="3.75" fill="#e5e4f0" stroke="#4a4a4a" stroke-width="0.4"/>
<circle cx="450.2" cy="423.0" r="3.75" fill="#d9d9ea" stroke="#4a4a4a" stroke-width="0.4"/>
<circle cx="468.1" cy="423.0" r="3.75" fill="#d2d2e7" stroke="#4a4a4a" stroke-width="0.4"/>
<circle cx="476.5" cy="423.0" r="3.75" fill="#cecfe5" stroke="#4a4a4a" stroke-width="0.4"/>
<circle cx="499.7" cy="423.0" r="3.75" fill="#c5c6e0" stroke="#4a4a4a" stroke-width="0.4"/>
<circle cx="512.3" cy="423.0" r="3.75" fill="#b8b9da" stroke="#4a4a4a" stroke-width="0.4"/>
<circle cx="513.9" cy="422.8" r="3.75" fill="#bcbcdc" stroke="#4a4a4a" stroke-width="0.4"/>
<circle cx="521.1" cy="422.8" r="3.75" fill="#b9b9da" stroke="#4a4a4a" stroke-width="0.4"/>
<circle cx="547.2" cy="422.8" r="3.75" fill="#a7a4ce" stroke="#4a4a4a" stroke-width="0.4"/>
<circle cx="574.4" cy="422.7" r="3.75" fill="#9894c5" stroke="#4a4a4a" stroke-width="0.4"/>
<circle cx="596.2" cy="422.7" r="3.75" fill="#908cc1" stroke="#4a4a4a" stroke-width="0.4"/>
<circle cx="609.2" cy="422.7" r="3.75" fill="#501f8b" stroke="#4a4a4a" stroke-width="0.4"/>
<circle cx="415.7" cy="427.1" r="3.75" fill="#edebf4" stroke="#4a4a4a" stroke-width="0.4"/>
<circle cx="440.5" cy="427.2" r="3.75" fill="#e9e7f2" stroke="#4a4a4a" stroke-width="0.4"/>
<circle cx="453.7" cy="426.8" r="3.75" fill="#edebf4" stroke="#4a4a4a" stroke-width="0.4"/>
<circle cx="464.1" cy="426.8" r="3.75" fill="#dadaeb" stroke="#4a4a4a" stroke-width="0.4"/>
<circle cx="472.3" cy="426.8" r="3.75" fill="#d7d7ea" stroke="#4a4a4a" stroke-width="0.4"/>
<circle cx="487.4" cy="426.8" r="3.75" fill="#cecee5" stroke="#4a4a4a" stroke-width="0.4"/>
<circle cx="501.8" cy="426.8" r="3.75" fill="#c4c5e0" stroke="#4a4a4a" stroke-width="0.4"/>
<circle cx="523.2" cy="427.2" r="3.75" fill="#bcbddc" stroke="#4a4a4a" stroke-width="0.4"/>
<circle cx="543.7" cy="427.2" r="3.75" fill="#a4a2cc" stroke="#4a4a4a" stroke-width="0.4"/>
<circle cx="576.0" cy="427.1" r="3.75" fill="#9894c5" stroke="#4a4a4a" stroke-width="0.4"/>
<circle cx="594.6" cy="427.1" r="3.75" fill="#8985be" stroke="#4a4a4a" stroke-width="0.4"/>
<circle cx="611.2" cy="427.1" r="3.75" fill="#501f8b" stroke="#4a4a4a" stroke-width="0.4"/>
<circle cx="615.6" cy="427.1" r="3.75" fill="#4a1486" stroke="#4a4a4a" stroke-width="0.4"/>
<circle cx="403.8" cy="441.2" r="3.75" fill="#f6f5fa" stroke="#4a4a4a" stroke-width="0.4"/>
<circle cx="425.5" cy="441.3" r="3.75" fill="#eae9f3" stroke="#4a4a4a" stroke-width="0.4"/>
<circle cx="438.6" cy="441.4" r="3.75" fill="#e7e6f1" stroke="#4a4a4a" stroke-width="0.4"/>
<circle cx="460.4" cy="441.3" r="3.75" fill="#eeecf4" stroke="#4a4a4a" stroke-width="0.4"/>
<circle cx="471.3" cy="441.3" r="3.75" fill="#d4d4e8" stroke="#4a4a4a" stroke-width="0.4"/>
<circle cx="497.4" cy="441.3" r="3.75" fill="#bebfdd" stroke="#4a4a4a" stroke-width="0.4"/>
<circle cx="525.0" cy="441.2" r="3.75" fill="#b0afd4" stroke="#4a4a4a" stroke-width="0.4"/>
<circle cx="545.2" cy="441.2" r="3.75" fill="#a8a5ce" stroke="#4a4a4a" stroke-width="0.4"/>
<circle cx="564.2" cy="441.2" r="3.75" fill="#9c98c7" stroke="#4a4a4a" stroke-width="0.4"/>
<circle cx="580.7" cy="441.3" r="3.75" fill="#9692c4" stroke="#4a4a4a" stroke-width="0.4"/>
<circle cx="589.5" cy="441.4" r="3.75" fill="#928fc3" stroke="#4a4a4a" stroke-width="0.4"/>
<circle cx="603.8" cy="441.4" r="3.75" fill="#8d89c0" stroke="#4a4a4a" stroke-width="0.4"/>
<circle cx="616.8" cy="441.4" r="3.75" fill="#4a1486" stroke="#4a4a4a" stroke-width="0.4"/>
<circle cx="405.6" cy="447.8" r="3.75" fill="#f8f6fa" stroke="#4a4a4a" stroke-width="0.4"/>
<circle cx="431.3" cy="447.8" r="3.75" fill="#eeecf5" stroke="#4a4a4a" stroke-width="0.4"/>
<circle cx="447.6" cy="447.8" r="3.75" fill="#e3e2ef" stroke="#4a4a4a" stroke-width="0.4"/>
<circle cx="458.6" cy="447.6" r="3.75" fill="#dfdeed" stroke="#4a4a4a" stroke-width="0.4"/>
<circle cx="471.7" cy="447.6" r="3.75" fill="#d4d4e8" stroke="#4a4a4a" stroke-width="0.4"/>
<circle cx="492.7" cy="447.6" r="3.75" fill="#cbcce4" stroke="#4a4a4a" stroke-width="0.4"/>
<circle cx="506.3" cy="447.5" r="3.75" fill="#c0c1de" stroke="#4a4a4a" stroke-width="0.4"/>
<circle cx="560.0" cy="447.4" r="3.75" fill="#a29eca" stroke="#4a4a4a" stroke-width="0.4"/>
<circle cx="564.9" cy="447.5" r="3.75" fill="#a09cc9" stroke="#4a4a4a" stroke-width="0.4"/>
<circle cx="580.4" cy="447.5" r="3.75" fill="#9692c4" stroke="#4a4a4a" stroke-width="0.4"/>
<circle cx="591.3" cy="447.5" r="3.75" fill="#928ec2" stroke="#4a4a4a" stroke-width="0.4"/>
<circle cx="603.5" cy="447.5" r="3.75" fill="#807dba" stroke="#4a4a4a" stroke-width="0.4"/>
<circle cx="619.9" cy="447.5" r="3.75" fill="#4a1486" stroke="#4a4a4a" stroke-width="0.4"/>
<circle cx="412.6" cy="458.1" r="3.75" fill="#eeecf5" stroke="#4a4a4a" stroke-width="0.4"/>
<circle cx="428.1" cy="458.1" r="3.75" fill="#eae8f2" stroke="#4a4a4a" stroke-width="0.4"/>
<circle cx="444.7" cy="458.1" r="3.75" fill="#e4e3f0" stroke="#4a4a4a" stroke-width="0.4"/>
<circle cx="456.6" cy="458.1" r="3.75" fill="#dddcec" stroke="#4a4a4a" stroke-width="0.4"/>
<circle cx="470.3" cy="458.1" r="3.75" fill="#d4d5e8" stroke="#4a4a4a" stroke-width="0.4"/>
<circle cx="474.4" cy="458.1" r="3.75" fill="#cbcce4" stroke="#4a4a4a" stroke-width="0.4"/>
<circle cx="500.4" cy="458.1" r="3.75" fill="#bdbedd" stroke="#4a4a4a" stroke-width="0.4"/>
<circle cx="518.4" cy="458.1" r="3.75" fill="#b6b6d8" stroke="#4a4a4a" stroke-width="0.4"/>
<circle cx="534.9" cy="458.0" r="3.75" fill="#afaed4" stroke="#4a4a4a" stroke-width="0.4"/>
<circle cx="552.4" cy="458.0" r="3.75" fill="#a9a6cf" stroke="#4a4a4a" stroke-width="0.4"/>
<circle cx="571.8" cy="458.0" r="3.75" fill="#a19dca" stroke="#4a4a4a" stroke-width="0.4"/>
<circle cx="595.9" cy="458.1" r="3.75" fill="#63449d" stroke="#4a4a4a" stroke-width="0.4"/>
<circle cx="602.5" cy="458.1" r="3.75" fill="#501f8b" stroke="#4a4a4a" stroke-width="0.4"/>
<circle cx="413.8" cy="462.2" r="3.75" fill="#f1f0f6" stroke="#4a4a4a" stroke-width="0.4"/>
<circle cx="438.6" cy="462.2" r="3.75" fill="#d6d6e9" stroke="#4a4a4a" stroke-width="0.4"/>
<circle cx="452.6" cy="462.2" r="3.75" fill="#d0d0e6" stroke="#4a4a4a" stroke-width="0.4"/>
<circle cx="461.1" cy="462.2" r="3.75" fill="#c9cae3" stroke="#4a4a4a" stroke-width="0.4"/>
<circle cx="472.4" cy="462.2" r="3.75" fill="#c1c2de" stroke="#4a4a4a" stroke-width="0.4"/>
<circle cx="484.9" cy="462.2" r="3.75" fill="#bcbddc" stroke="#4a4a4a" stroke-width="0.4"/>
<circle cx="488.4" cy="462.2" r="3.75" fill="#bebfdd" stroke="#4a4a4a" stroke-width="0.4"/>
<circle cx="514.1" cy="462.2" r="3.75" fill="#b0afd4" stroke="#4a4a4a" stroke-width="0.4"/>
<circle cx="538.4" cy="462.3" r="3.75" fill="#a7a4ce" stroke="#4a4a4a" stroke-width="0.4"/>
<circle cx="549.8" cy="462.3" r="3.75" fill="#a29fcb" stroke="#4a4a4a" stroke-width="0.4"/>
<circle cx="574.4" cy="462.3" r="3.75" fill="#9894c5" stroke="#4a4a4a" stroke-width="0.4"/>
<circle cx="599.0" cy="462.4" r="3.75" fill="#501f8b" stroke="#4a4a4a" stroke-width="0.4"/>
<circle cx="615.0" cy="462.4" r="3.75" fill="#501f8b" stroke="#4a4a4a" stroke-width="0.4"/>
<circle cx="423.7" cy="474.6" r="3.75" fill="#f5f3f8" stroke="#4a4a4a" stroke-width="0.4"/>
<circle cx="435.9" cy="474.6" r="3.75" fill="#dadaeb" stroke="#4a4a4a" stroke-width="0.4"/>
<circle cx="453.2" cy="474.6" r="3.75" fill="#d0d0e6" stroke="#4a4a4a" stroke-width="0.4"/>
<circle cx="468.9" cy="474.5" r="3.75" fill="#cacae3" stroke="#4a4a4a" stroke-width="0.4"/>
<circle cx="496.0" cy="474.5" r="3.75" fill="#bfc0dd" stroke="#4a4a4a" stroke-width="0.4"/>
<circle cx="526.1" cy="474.4" r="3.75" fill="#b3b2d6" stroke="#4a4a4a" stroke-width="0.4"/>
<circle cx="548.6" cy="474.4" r="3.75" fill="#aaa8d0" stroke="#4a4a4a" stroke-width="0.4"/>
<circle cx="557.4" cy="474.4" r="3.75" fill="#a7a4ce" stroke="#4a4a4a" stroke-width="0.4"/>
<circle cx="570.5" cy="474.4" r="3.75" fill="#a19eca" stroke="#4a4a4a" stroke-width="0.4"/>
<circle cx="581.0" cy="474.4" r="3.75" fill="#9f9bc8" stroke="#4a4a4a" stroke-width="0.4"/>
<circle cx="589.3" cy="474.4" r="3.75" fill="#807dba" stroke="#4a4a4a" stroke-width="0.4"/>
<circle cx="599.7" cy="474.4" r="3.75" fill="#501f8b" stroke="#4a4a4a" stroke-width="0.4"/>
<circle cx="616.8" cy="474.4" r="3.75" fill="#4a1486" stroke="#4a4a4a" stroke-width="0.4"/>
<circle cx="407.7" cy="483.4" r="3.75" fill="#f8f7fb" stroke="#4a4a4a" stroke-width="0.4"/>
<circle cx="428.1" cy="483.4" r="3.75" fill="#eae8f2" stroke="#4a4a4a" stroke-width="0.4"/>
<circle cx="444.7" cy="483.4" r="3.75" fill="#dddded" stroke="#4a4a4a" stroke-width="0.4"/>
<circle cx="457.0" cy="483.4" r="3.75" fill="#cbcbe3" stroke="#4a4a4a" stroke-width="0.4"/>
<circle cx="468.9" cy="483.4" r="3.75" fill="#c6c7e1" stroke="#4a4a4a" stroke-width="0.4"/>
<circle cx="486.0" cy="483.4" r="3.75" fill="#bfc0de" stroke="#4a4a4a" stroke-width="0.4"/>
<circle cx="505.4" cy="483.4" r="3.75" fill="#b7b8d9" stroke="#4a4a4a" stroke-width="0.4"/>
<circle cx="531.6" cy="483.4" r="3.75" fill="#adacd2" stroke="#4a4a4a" stroke-width="0.4"/>
<circle cx="550.4" cy="483.4" r="3.75" fill="#a6a3cd" stroke="#4a4a4a" stroke-width="0.4"/>
<circle cx="558.2" cy="483.4" r="3.75" fill="#a29fcb" stroke="#4a4a4a" stroke-width="0.4"/>
<circle cx="574.5" cy="483.4" r="3.75" fill="#9c98c7" stroke="#4a4a4a" stroke-width="0.4"/>
<circle cx="588.2" cy="483.4" r="3.75" fill="#807dba" stroke="#4a4a4a" stroke-width="0.4"/>
<circle cx="613.3" cy="483.4" r="3.75" fill="#501f8b" stroke="#4a4a4a" stroke-width="0.4"/>
<circle cx="410.8" cy="501.4" r="3.75" fill="#f7f5fa" stroke="#4a4a4a" stroke-width="0.4"/>
<circle cx="413.8" cy="498.8" r="3.75" fill="#f7f6fa" stroke="#4a4a4a" stroke-width="0.4"/>
<circle cx="428.3" cy="501.4" r="3.75" fill="#e4e3f0" stroke="#4a4a4a" stroke-width="0.4"/>
<circle cx="431.8" cy="498.8" r="3.75" fill="#ebeaf3" stroke="#4a4a4a" stroke-width="0.4"/>
<circle cx="448.2" cy="498.8" r="3.75" fill="#dcdcec" stroke="#4a4a4a" stroke-width="0.4"/>
<circle cx="452.6" cy="501.4" r="3.75" fill="#d8d8ea" stroke="#4a4a4a" stroke-width="0.4"/>
<circle cx="458.9" cy="498.8" r="3.75" fill="#cecee5" stroke="#4a4a4a" stroke-width="0.4"/>
<circle cx="469.2" cy="498.8" r="3.75" fill="#cacae3" stroke="#4a4a4a" stroke-width="0.4"/>
<circle cx="473.2" cy="501.4" r="3.75" fill="#c8c9e2" stroke="#4a4a4a" stroke-width="0.4"/>
<circle cx="489.9" cy="498.8" r="3.75" fill="#c1c2df" stroke="#4a4a4a" stroke-width="0.4"/>
<circle cx="496.3" cy="501.4" r="3.75" fill="#bfc0dd" stroke="#4a4a4a" stroke-width="0.4"/>
<circle cx="512.7" cy="501.4" r="3.75" fill="#b8b9da" stroke="#4a4a4a" stroke-width="0.4"/>
<circle cx="516.2" cy="498.8" r="3.75" fill="#b7b7d9" stroke="#4a4a4a" stroke-width="0.4"/>
<circle cx="527.9" cy="498.8" r="3.75" fill="#b2b2d5" stroke="#4a4a4a" stroke-width="0.4"/>
<circle cx="529.0" cy="501.4" r="3.75" fill="#b2b1d5" stroke="#4a4a4a" stroke-width="0.4"/>
<circle cx="541.0" cy="501.4" r="3.75" fill="#adacd2" stroke="#4a4a4a" stroke-width="0.4"/>
<circle cx="548.0" cy="498.8" r="3.75" fill="#aaa8d0" stroke="#4a4a4a" stroke-width="0.4"/>
<circle cx="547.4" cy="501.4" r="3.75" fill="#a7a4ce" stroke="#4a4a4a" stroke-width="0.4"/>
<circle cx="563.4" cy="498.8" r="3.75" fill="#a4a1cc" stroke="#4a4a4a" stroke-width="0.4"/>
<circle cx="566.9" cy="501.4" r="3.75" fill="#9f9bc9" stroke="#4a4a4a" stroke-width="0.4"/>
<circle cx="578.6" cy="498.8" r="3.75" fill="#9e9ac8" stroke="#4a4a4a" stroke-width="0.4"/>
<circle cx="583.0" cy="501.4" r="3.75" fill="#9995c5" stroke="#4a4a4a" stroke-width="0.4"/>
<circle cx="597.3" cy="498.6" r="3.75" fill="#501f8b" stroke="#4a4a4a" stroke-width="0.4"/>
<circle cx="600.2" cy="501.5" r="3.75" fill="#501f8b" stroke="#4a4a4a" stroke-width="0.4"/>
<circle cx="614.8" cy="498.5" r="3.75" fill="#4a1486" stroke="#4a4a4a" stroke-width="0.4"/>
<circle cx="620.0" cy="501.5" r="3.75" fill="#501f8b" stroke="#4a4a4a" stroke-width="0.4"/>
<circle cx="398.6" cy="507.8" r="3.75" fill="#f9f8fb" stroke="#4a4a4a" stroke-width="0.4"/>
<circle cx="419.6" cy="507.8" r="3.75" fill="#eceaf4" stroke="#4a4a4a" stroke-width="0.4"/>
<circle cx="437.1" cy="507.8" r="3.75" fill="#e2e1ef" stroke="#4a4a4a" stroke-width="0.4"/>
<circle cx="452.4" cy="507.8" r="3.75" fill="#d4d4e8" stroke="#4a4a4a" stroke-width="0.4"/>
<circle cx="466.6" cy="507.8" r="3.75" fill="#cbcbe3" stroke="#4a4a4a" stroke-width="0.4"/>
<circle cx="477.1" cy="507.8" r="3.75" fill="#c6c7e1" stroke="#4a4a4a" stroke-width="0.4"/>
<circle cx="499.3" cy="507.8" r="3.75" fill="#bebfdd" stroke="#4a4a4a" stroke-width="0.4"/>
<circle cx="521.8" cy="507.8" r="3.75" fill="#b5b4d7" stroke="#4a4a4a" stroke-width="0.4"/>
<circle cx="537.0" cy="507.8" r="3.75" fill="#aba9d1" stroke="#4a4a4a" stroke-width="0.4"/>
<circle cx="553.2" cy="507.8" r="3.75" fill="#a8a6cf" stroke="#4a4a4a" stroke-width="0.4"/>
<circle cx="567.8" cy="507.8" r="3.75" fill="#a29fcb" stroke="#4a4a4a" stroke-width="0.4"/>
<circle cx="591.1" cy="507.6" r="3.75" fill="#4a1486" stroke="#4a4a4a" stroke-width="0.4"/>
<circle cx="611.4" cy="507.4" r="3.75" fill="#501f8b" stroke="#4a4a4a" stroke-width="0.4"/>
<circle cx="404.4" cy="512.4" r="3.75" fill="#e8e7f2" stroke="#4a4a4a" stroke-width="0.4"/>
<circle cx="416.1" cy="515.1" r="3.75" fill="#edebf4" stroke="#4a4a4a" stroke-width="0.4"/>
<circle cx="434.2" cy="512.4" r="3.75" fill="#dddded" stroke="#4a4a4a" stroke-width="0.4"/>
<circle cx="441.0" cy="515.1" r="3.75" fill="#dcdbec" stroke="#4a4a4a" stroke-width="0.4"/>
<circle cx="449.1" cy="512.4" r="3.75" fill="#d2d2e7" stroke="#4a4a4a" stroke-width="0.4"/>
<circle cx="459.4" cy="515.1" r="3.75" fill="#cdcee5" stroke="#4a4a4a" stroke-width="0.4"/>
<circle cx="463.2" cy="512.4" r="3.75" fill="#c4c5e0" stroke="#4a4a4a" stroke-width="0.4"/>
<circle cx="477.4" cy="515.1" r="3.75" fill="#c6c7e1" stroke="#4a4a4a" stroke-width="0.4"/>
<circle cx="486.4" cy="512.4" r="3.75" fill="#bbbcdb" stroke="#4a4a4a" stroke-width="0.4"/>
<circle cx="508.0" cy="512.4" r="3.75" fill="#b3b2d6" stroke="#4a4a4a" stroke-width="0.4"/>
<circle cx="508.0" cy="515.1" r="3.75" fill="#b6b6d8" stroke="#4a4a4a" stroke-width="0.4"/>
<circle cx="525.3" cy="515.1" r="3.75" fill="#b3b3d6" stroke="#4a4a4a" stroke-width="0.4"/>
<circle cx="530.8" cy="512.4" r="3.75" fill="#aaa8d0" stroke="#4a4a4a" stroke-width="0.4"/>
<circle cx="539.8" cy="515.1" r="3.75" fill="#aeacd2" stroke="#4a4a4a" stroke-width="0.4"/>
<circle cx="550.3" cy="515.1" r="3.75" fill="#a9a7d0" stroke="#4a4a4a" stroke-width="0.4"/>
<circle cx="553.2" cy="512.4" r="3.75" fill="#a4a2cc" stroke="#4a4a4a" stroke-width="0.4"/>
<circle cx="563.8" cy="512.4" r="3.75" fill="#9c99c7" stroke="#4a4a4a" stroke-width="0.4"/>
<circle cx="576.0" cy="512.4" r="3.75" fill="#9894c5" stroke="#4a4a4a" stroke-width="0.4"/>
<circle cx="577.8" cy="515.1" r="3.75" fill="#807dba" stroke="#4a4a4a" stroke-width="0.4"/>
<circle cx="586.5" cy="512.4" r="3.75" fill="#63449d" stroke="#4a4a4a" stroke-width="0.4"/>
<circle cx="591.4" cy="515.2" r="3.75" fill="#501f8b" stroke="#4a4a4a" stroke-width="0.4"/>
<circle cx="597.1" cy="512.2" r="3.75" fill="#501f8b" stroke="#4a4a4a" stroke-width="0.4"/>
<circle cx="608.4" cy="515.2" r="3.75" fill="#501f8b" stroke="#4a4a4a" stroke-width="0.4"/>
<circle cx="612.0" cy="512.8" r="3.75" fill="#4a1486" stroke="#4a4a4a" stroke-width="0.4"/>
<circle cx="621.0" cy="515.2" r="3.75" fill="#501f8b" stroke="#4a4a4a" stroke-width="0.4"/>
<circle cx="411.4" cy="525.6" r="3.75" fill="#e9e8f2" stroke="#4a4a4a" stroke-width="0.4"/>
<circle cx="433.3" cy="525.6" r="3.75" fill="#afaed4" stroke="#4a4a4a" stroke-width="0.4"/>
<circle cx="455.2" cy="525.6" r="3.75" fill="#a7a4ce" stroke="#4a4a4a" stroke-width="0.4"/>
<circle cx="468.1" cy="525.6" r="3.75" fill="#9a96c6" stroke="#4a4a4a" stroke-width="0.4"/>
<circle cx="493.1" cy="525.6" r="3.75" fill="#908dc2" stroke="#4a4a4a" stroke-width="0.4"/>
<circle cx="519.5" cy="525.6" r="3.75" fill="#8682bd" stroke="#4a4a4a" stroke-width="0.4"/>
<circle cx="544.5" cy="525.6" r="3.75" fill="#7d77b7" stroke="#4a4a4a" stroke-width="0.4"/>
<circle cx="547.8" cy="525.6" r="3.75" fill="#7c75b6" stroke="#4a4a4a" stroke-width="0.4"/>
<circle cx="557.9" cy="525.6" r="3.75" fill="#796fb3" stroke="#4a4a4a" stroke-width="0.4"/>
<circle cx="569.9" cy="525.6" r="3.75" fill="#7e78b8" stroke="#4a4a4a" stroke-width="0.4"/>
<circle cx="585.0" cy="525.8" r="3.75" fill="#501f8b" stroke="#4a4a4a" stroke-width="0.4"/>
<circle cx="601.3" cy="525.9" r="3.75" fill="#501f8b" stroke="#4a4a4a" stroke-width="0.4"/>
<circle cx="615.6" cy="525.9" r="3.75" fill="#501f8b" stroke="#4a4a4a" stroke-width="0.4"/>
<circle cx="407.9" cy="532.0" r="3.75" fill="#f2f1f7" stroke="#4a4a4a" stroke-width="0.4"/>
<circle cx="423.7" cy="532.0" r="3.75" fill="#e3e2ef" stroke="#4a4a4a" stroke-width="0.4"/>
<circle cx="440.6" cy="532.0" r="3.75" fill="#dcdcec" stroke="#4a4a4a" stroke-width="0.4"/>
<circle cx="455.0" cy="532.0" r="3.75" fill="#aaa9d0" stroke="#4a4a4a" stroke-width="0.4"/>
<circle cx="469.5" cy="532.0" r="3.75" fill="#a5a2cc" stroke="#4a4a4a" stroke-width="0.4"/>
<circle cx="479.4" cy="532.0" r="3.75" fill="#a5a2cc" stroke="#4a4a4a" stroke-width="0.4"/>
<circle cx="497.3" cy="532.0" r="3.75" fill="#9a96c6" stroke="#4a4a4a" stroke-width="0.4"/>
<circle cx="532.3" cy="532.0" r="3.75" fill="#8c88bf" stroke="#4a4a4a" stroke-width="0.4"/>
<circle cx="547.4" cy="532.0" r="3.75" fill="#8683bd" stroke="#4a4a4a" stroke-width="0.4"/>
<circle cx="562.2" cy="532.0" r="3.75" fill="#807dba" stroke="#4a4a4a" stroke-width="0.4"/>
<circle cx="580.1" cy="532.0" r="3.75" fill="#807dba" stroke="#4a4a4a" stroke-width="0.4"/>
<circle cx="601.4" cy="532.2" r="3.75" fill="#4a1486" stroke="#4a4a4a" stroke-width="0.4"/>
<circle cx="611.2" cy="532.2" r="3.75" fill="#4a1486" stroke="#4a4a4a" stroke-width="0.4"/>
<circle cx="417.2" cy="548.7" r="3.75" fill="#edebf4" stroke="#4a4a4a" stroke-width="0.4"/>
<circle cx="435.5" cy="548.7" r="3.75" fill="#b0afd4" stroke="#4a4a4a" stroke-width="0.4"/>
<circle cx="465.0" cy="548.7" r="3.75" fill="#9f9bc9" stroke="#4a4a4a" stroke-width="0.4"/>
<circle cx="504.5" cy="548.7" r="3.75" fill="#8c88bf" stroke="#4a4a4a" stroke-width="0.4"/>
<circle cx="525.6" cy="548.7" r="3.75" fill="#8380bb" stroke="#4a4a4a" stroke-width="0.4"/>
<circle cx="543.8" cy="548.7" r="3.75" fill="#7e79b8" stroke="#4a4a4a" stroke-width="0.4"/>
<circle cx="555.3" cy="548.7" r="3.75" fill="#7a70b3" stroke="#4a4a4a" stroke-width="0.4"/>
<circle cx="562.2" cy="548.7" r="3.75" fill="#796fb2" stroke="#4a4a4a" stroke-width="0.4"/>
<circle cx="573.5" cy="548.7" r="3.75" fill="#7466ae" stroke="#4a4a4a" stroke-width="0.4"/>
<circle cx="580.6" cy="548.7" r="3.75" fill="#786db1" stroke="#4a4a4a" stroke-width="0.4"/>
<circle cx="592.9" cy="548.6" r="3.75" fill="#501f8b" stroke="#4a4a4a" stroke-width="0.4"/>
<circle cx="601.3" cy="548.6" r="3.75" fill="#501f8b" stroke="#4a4a4a" stroke-width="0.4"/>
<circle cx="615.6" cy="548.6" r="3.75" fill="#501f8b" stroke="#4a4a4a" stroke-width="0.4"/>
<path d="M514.0,325.3 C514.0,328.1 514.5,338.6 514.0,342.3 C513.5,346.1 512.8,346.3 511.3,347.8 C509.8,349.3 508.7,350.1 504.8,351.3 C500.9,352.5 492.9,353.9 487.8,355.0 C482.7,356.1 478.8,356.4 474.1,357.8 C469.4,359.2 463.4,361.4 459.8,363.2 C456.2,365.0 453.9,366.7 452.3,368.5 C450.7,370.3 450.1,372.1 450.2,374.0 C450.3,375.9 451.0,378.1 452.7,380.0 C454.4,381.9 456.7,383.2 460.6,385.3 C464.6,387.4 470.8,389.7 476.4,392.3 C481.9,394.9 489.5,398.7 493.9,401.0 C498.3,403.3 500.7,404.6 502.7,406.3 C504.8,408.1 505.9,409.9 506.2,411.5 C506.5,413.1 505.7,414.9 504.3,416.0 C502.9,417.1 501.9,417.7 497.8,418.1 C493.7,418.5 483.8,418.2 479.9,418.5 C476.0,418.8 476.2,418.7 474.6,419.9 C473.0,421.1 472.0,422.2 470.2,425.5 C468.5,428.8 466.3,434.9 464.1,439.6 C461.9,444.3 459.4,448.4 457.1,453.6 C454.8,458.9 452.4,465.9 450.1,471.1 C447.8,476.4 445.3,480.5 443.1,485.1 C440.9,489.8 439.1,495.4 437.0,499.0 C434.9,502.6 432.8,504.6 430.8,507.0 C428.8,509.4 426.6,511.1 424.8,513.5 C423.0,516.0 421.2,519.0 420.0,521.7 C418.8,524.4 417.7,527.0 417.6,529.7 C417.5,532.4 418.7,535.3 419.4,538.0 C420.1,540.7 421.3,542.0 421.8,546.0 C422.3,550.0 422.5,559.6 422.6,562.3" stroke="#2a2a2a" stroke-width="0.9" fill="none"/>
<path d="M612.2,325.3 C611.4,326.9 608.6,331.9 607.3,335.0 C606.0,338.1 604.9,341.2 604.4,344.0 C603.9,346.8 604.2,338.6 604.1,352.0 C604.0,365.4 603.6,411.2 604.1,424.5 C604.6,437.8 606.0,429.2 607.1,432.0 C608.2,434.8 610.1,438.3 610.5,441.0 C610.9,443.7 610.0,446.1 609.2,448.0 C608.4,449.9 607.7,451.3 605.8,452.4 C603.9,453.4 599.7,453.1 597.8,454.3 C595.9,455.5 595.2,457.4 594.4,459.3 C593.6,461.2 593.3,460.9 593.1,466.0 C592.9,471.1 593.2,484.8 593.1,490.0 C593.0,495.2 593.7,494.5 592.8,497.0 C591.9,499.5 589.3,501.9 587.7,505.2 C586.1,508.5 584.2,513.2 583.0,516.9 C581.8,520.6 580.0,523.7 580.3,527.4 C580.6,531.1 583.7,535.0 585.0,539.0 C586.3,543.0 587.5,547.7 588.1,551.6 C588.7,555.5 588.7,560.5 588.8,562.3" stroke="#2a2a2a" stroke-width="0.9" fill="none"/>
<rect x="387.50" y="325.50" width="246.00" height="237.00" fill="none" stroke="#878787" stroke-width="1"/>
<text x="415.9" y="362.6" font-size="9.8" text-anchor="middle" fill="#4650c4" font-weight="normal" font-style="normal" stroke="#4650c4" stroke-width="0.1">I</text>
<text x="548.3" y="362.6" font-size="9.8" text-anchor="middle" fill="#4650c4" font-weight="normal" font-style="normal" stroke="#4650c4" stroke-width="0.1">II</text>
<text x="620.0" y="362.6" font-size="9.8" text-anchor="middle" fill="#4650c4" font-weight="normal" font-style="normal" stroke="#4650c4" stroke-width="0.1">III</text>
<text x="425.0" y="410.0" font-size="9" text-anchor="middle" fill="#1a1a1a" font-weight="normal" font-style="normal" stroke="#1a1a1a" stroke-width="0.1" letter-spacing="0.5">i</text>
<text x="571.7" y="409.0" font-size="9" text-anchor="middle" fill="#1a1a1a" font-weight="normal" font-style="normal" stroke="#1a1a1a" stroke-width="0.1" letter-spacing="0.5">ii</text>
<text x="615.2" y="406.6" font-size="9" text-anchor="middle" fill="#1a1a1a" font-weight="normal" font-style="normal" stroke="#1a1a1a" stroke-width="0.1" letter-spacing="0.5">iii</text>
<text x="398.6" y="538.8" font-size="9" text-anchor="middle" fill="#1a1a1a" font-weight="normal" font-style="normal" stroke="#1a1a1a" stroke-width="0.1" letter-spacing="0.5">iv</text>
<text x="504.1" y="540.3" font-size="9" text-anchor="middle" fill="#1a1a1a" font-weight="normal" font-style="normal" stroke="#1a1a1a" stroke-width="0.1" letter-spacing="0.5">v</text>
<text x="593.2" y="538.5" font-size="9" text-anchor="middle" fill="#1a1a1a" font-weight="normal" font-style="normal" stroke="#1a1a1a" stroke-width="0.1" letter-spacing="0.5">vi</text>
<line x1="384.00" y1="327.50" x2="387.50" y2="327.50" stroke="#878787" stroke-width="1"/>
<text x="379.0" y="330.8" font-size="9" text-anchor="end" fill="#000" font-weight="normal" font-style="normal" stroke="#000" stroke-width="0.1">8.5</text>
<line x1="384.00" y1="356.50" x2="387.50" y2="356.50" stroke="#878787" stroke-width="1"/>
<text x="379.0" y="359.8" font-size="9" text-anchor="end" fill="#000" font-weight="normal" font-style="normal" stroke="#000" stroke-width="0.1">8.0</text>
<line x1="384.00" y1="385.50" x2="387.50" y2="385.50" stroke="#878787" stroke-width="1"/>
<text x="379.0" y="388.8" font-size="9" text-anchor="end" fill="#000" font-weight="normal" font-style="normal" stroke="#000" stroke-width="0.1">7.5</text>
<line x1="384.00" y1="414.50" x2="387.50" y2="414.50" stroke="#878787" stroke-width="1"/>
<text x="379.0" y="417.8" font-size="9" text-anchor="end" fill="#000" font-weight="normal" font-style="normal" stroke="#000" stroke-width="0.1">7.0</text>
<line x1="384.00" y1="444.50" x2="387.50" y2="444.50" stroke="#878787" stroke-width="1"/>
<text x="379.0" y="447.8" font-size="9" text-anchor="end" fill="#000" font-weight="normal" font-style="normal" stroke="#000" stroke-width="0.1">6.5</text>
<line x1="384.00" y1="473.50" x2="387.50" y2="473.50" stroke="#878787" stroke-width="1"/>
<text x="379.0" y="476.8" font-size="9" text-anchor="end" fill="#000" font-weight="normal" font-style="normal" stroke="#000" stroke-width="0.1">6.0</text>
<line x1="384.00" y1="502.50" x2="387.50" y2="502.50" stroke="#878787" stroke-width="1"/>
<text x="379.0" y="505.8" font-size="9" text-anchor="end" fill="#000" font-weight="normal" font-style="normal" stroke="#000" stroke-width="0.1">5.5</text>
<line x1="384.00" y1="531.50" x2="387.50" y2="531.50" stroke="#878787" stroke-width="1"/>
<text x="379.0" y="534.8" font-size="9" text-anchor="end" fill="#000" font-weight="normal" font-style="normal" stroke="#000" stroke-width="0.1">5.0</text>
<line x1="384.00" y1="560.50" x2="387.50" y2="560.50" stroke="#878787" stroke-width="1"/>
<text x="379.0" y="563.8" font-size="9" text-anchor="end" fill="#000" font-weight="normal" font-style="normal" stroke="#000" stroke-width="0.1">4.5</text>
<line x1="405.50" y1="562.50" x2="405.50" y2="566.00" stroke="#878787" stroke-width="1"/>
<text x="405.5" y="577.4" font-size="9" text-anchor="middle" fill="#000" font-weight="normal" font-style="normal" stroke="#000" stroke-width="0.1">3</text>
<line x1="442.50" y1="562.50" x2="442.50" y2="566.00" stroke="#878787" stroke-width="1"/>
<text x="442.5" y="577.4" font-size="9" text-anchor="middle" fill="#000" font-weight="normal" font-style="normal" stroke="#000" stroke-width="0.1">4</text>
<line x1="480.50" y1="562.50" x2="480.50" y2="566.00" stroke="#878787" stroke-width="1"/>
<text x="480.5" y="577.4" font-size="9" text-anchor="middle" fill="#000" font-weight="normal" font-style="normal" stroke="#000" stroke-width="0.1">5</text>
<line x1="518.50" y1="562.50" x2="518.50" y2="566.00" stroke="#878787" stroke-width="1"/>
<text x="518.5" y="577.4" font-size="9" text-anchor="middle" fill="#000" font-weight="normal" font-style="normal" stroke="#000" stroke-width="0.1">6</text>
<line x1="556.50" y1="562.50" x2="556.50" y2="566.00" stroke="#878787" stroke-width="1"/>
<text x="556.5" y="577.4" font-size="9" text-anchor="middle" fill="#000" font-weight="normal" font-style="normal" stroke="#000" stroke-width="0.1">7</text>
<line x1="593.50" y1="562.50" x2="593.50" y2="566.00" stroke="#878787" stroke-width="1"/>
<text x="593.5" y="577.4" font-size="9" text-anchor="middle" fill="#000" font-weight="normal" font-style="normal" stroke="#000" stroke-width="0.1">8</text>
<line x1="631.50" y1="562.50" x2="631.50" y2="566.00" stroke="#878787" stroke-width="1"/>
<text x="631.5" y="577.4" font-size="9" text-anchor="middle" fill="#000" font-weight="normal" font-style="normal" stroke="#000" stroke-width="0.1">9</text>
<text x="510.8" y="592.4" font-size="9.5" text-anchor="middle" fill="#000" font-weight="normal" font-style="normal" stroke="#000" stroke-width="0.1">Perturbed pH</text>
<text x="355.3" y="446.2" font-size="9.5" text-anchor="middle" fill="#000" font-weight="normal" font-style="normal" stroke="#000" stroke-width="0.1" transform="rotate(-90 355.3 446.2)">Native pH</text>
<rect x="635.60" y="325.40" width="10.80" height="103.50" fill="url(#gpur)" stroke="none" stroke-width="1"/>
<line x1="635.60" y1="326.20" x2="637.50" y2="326.20" stroke="#fff" stroke-width="0.6"/>
<line x1="644.50" y1="326.20" x2="646.40" y2="326.20" stroke="#fff" stroke-width="0.6"/>
<text x="651.3" y="329.5" font-size="8.8" text-anchor="start" fill="#000" font-weight="normal" font-style="normal" stroke="#000" stroke-width="0.1">10<tspan dy="-4.1" font-size="6.3">1</tspan></text>
<line x1="635.60" y1="359.70" x2="637.50" y2="359.70" stroke="#fff" stroke-width="0.6"/>
<line x1="644.50" y1="359.70" x2="646.40" y2="359.70" stroke="#fff" stroke-width="0.6"/>
<text x="651.3" y="363.0" font-size="8.8" text-anchor="start" fill="#000" font-weight="normal" font-style="normal" stroke="#000" stroke-width="0.1">10<tspan dy="-4.1" font-size="6.3">0</tspan></text>
<line x1="635.60" y1="393.40" x2="637.50" y2="393.40" stroke="#fff" stroke-width="0.6"/>
<line x1="644.50" y1="393.40" x2="646.40" y2="393.40" stroke="#fff" stroke-width="0.6"/>
<text x="651.3" y="396.7" font-size="8.8" text-anchor="start" fill="#000" font-weight="normal" font-style="normal" stroke="#000" stroke-width="0.1">10<tspan dy="-4.1" font-size="6.3">−1</tspan></text>
<line x1="635.60" y1="419.20" x2="637.50" y2="419.20" stroke="#fff" stroke-width="0.6"/>
<line x1="644.50" y1="419.20" x2="646.40" y2="419.20" stroke="#fff" stroke-width="0.6"/>
<text x="651.3" y="422.5" font-size="8.8" text-anchor="start" fill="#000" font-weight="normal" font-style="normal" stroke="#000" stroke-width="0.1">10<tspan dy="-4.1" font-size="6.3">−2</tspan></text>
<text x="680.5" y="378.3" font-size="9.3" text-anchor="middle" fill="#000" font-weight="normal" font-style="normal" stroke="#000" stroke-width="0.1" transform="rotate(-90 680.5 378.3)"><tspan font-style="italic">γC̃</tspan>(0)</text>
<text x="0.2" y="607.3" font-size="13" text-anchor="start" fill="#000" font-weight="bold" font-style="normal" stroke="#000" stroke-width="0.55">e</text>
<line x1="44.50" y1="645.50" x2="291.50" y2="645.50" stroke="#3a70b8" stroke-width="1.1" stroke-dasharray="4.4,2.6"/>
<polyline points="80.6,672.2 92.8,633.5 110.1,629.6 125.8,629.6 152.9,629.6 183.0,629.6 205.5,629.6 214.3,629.6 227.4,629.6 237.9,631.1 246.2,629.6 256.6,660.6 273.7,672.2" fill="none" stroke="#a2705b" stroke-width="1.2" stroke-opacity="0.9"/>
<circle cx="80.6" cy="672.2" r="2.15" fill="#a2705b"/>
<circle cx="92.8" cy="633.5" r="2.15" fill="#a2705b"/>
<circle cx="110.1" cy="629.6" r="2.15" fill="#a2705b"/>
<circle cx="125.8" cy="629.6" r="2.15" fill="#a2705b"/>
<circle cx="152.9" cy="629.6" r="2.15" fill="#a2705b"/>
<circle cx="183.0" cy="629.6" r="2.15" fill="#a2705b"/>
<circle cx="205.5" cy="629.6" r="2.15" fill="#a2705b"/>
<circle cx="214.3" cy="629.6" r="2.15" fill="#a2705b"/>
<circle cx="227.4" cy="629.6" r="2.15" fill="#a2705b"/>
<circle cx="237.9" cy="631.1" r="2.15" fill="#a2705b"/>
<circle cx="246.2" cy="629.6" r="2.15" fill="#a2705b"/>
<circle cx="256.6" cy="660.6" r="2.15" fill="#a2705b"/>
<circle cx="273.7" cy="672.2" r="2.15" fill="#a2705b"/>
<polyline points="61.3,641.2 91.1,637.4 106.0,629.6 120.1,621.9 143.3,621.9 164.9,621.9 187.7,621.9 210.1,625.7 220.7,621.9 232.9,621.9 243.4,621.9 254.0,660.6 268.9,668.4" fill="none" stroke="#ae9562" stroke-width="1.2" stroke-opacity="0.9"/>
<circle cx="61.3" cy="641.2" r="2.15" fill="#ae9562"/>
<circle cx="91.1" cy="637.4" r="2.15" fill="#ae9562"/>
<circle cx="106.0" cy="629.6" r="2.15" fill="#ae9562"/>
<circle cx="120.1" cy="621.9" r="2.15" fill="#ae9562"/>
<circle cx="143.3" cy="621.9" r="2.15" fill="#ae9562"/>
<circle cx="164.9" cy="621.9" r="2.15" fill="#ae9562"/>
<circle cx="187.7" cy="621.9" r="2.15" fill="#ae9562"/>
<circle cx="210.1" cy="625.7" r="2.15" fill="#ae9562"/>
<circle cx="220.7" cy="621.9" r="2.15" fill="#ae9562"/>
<circle cx="232.9" cy="621.9" r="2.15" fill="#ae9562"/>
<circle cx="243.4" cy="621.9" r="2.15" fill="#ae9562"/>
<circle cx="254.0" cy="660.6" r="2.15" fill="#ae9562"/>
<circle cx="268.9" cy="668.4" r="2.15" fill="#ae9562"/>
<polyline points="64.8,660.6 80.6,641.2 97.5,637.4 111.9,625.7 126.4,625.7 136.3,629.6 154.2,625.7 189.2,625.7 204.3,625.7 219.1,625.7 237.0,625.7 258.3,664.5 268.1,664.5" fill="none" stroke="#b7a76a" stroke-width="1.2" stroke-opacity="0.9"/>
<circle cx="64.8" cy="660.6" r="2.15" fill="#b7a76a"/>
<circle cx="80.6" cy="641.2" r="2.15" fill="#b7a76a"/>
<circle cx="97.5" cy="637.4" r="2.15" fill="#b7a76a"/>
<circle cx="111.9" cy="625.7" r="2.15" fill="#b7a76a"/>
<circle cx="126.4" cy="625.7" r="2.15" fill="#b7a76a"/>
<circle cx="136.3" cy="629.6" r="2.15" fill="#b7a76a"/>
<circle cx="154.2" cy="625.7" r="2.15" fill="#b7a76a"/>
<circle cx="189.2" cy="625.7" r="2.15" fill="#b7a76a"/>
<circle cx="204.3" cy="625.7" r="2.15" fill="#b7a76a"/>
<circle cx="219.1" cy="625.7" r="2.15" fill="#b7a76a"/>
<circle cx="237.0" cy="625.7" r="2.15" fill="#b7a76a"/>
<circle cx="258.3" cy="664.5" r="2.15" fill="#b7a76a"/>
<circle cx="268.1" cy="664.5" r="2.15" fill="#b7a76a"/>
<polyline points="72.6,652.9 97.4,656.7 110.6,668.4 121.0,645.1 129.2,645.1 144.3,641.2 158.7,637.4 180.1,637.4 200.6,621.9 232.9,621.9 251.5,614.1 268.1,645.1 272.5,672.2" fill="none" stroke="#8d3d47" stroke-width="1.2" stroke-opacity="0.9"/>
<circle cx="72.6" cy="652.9" r="2.15" fill="#8d3d47"/>
<circle cx="97.4" cy="656.7" r="2.15" fill="#8d3d47"/>
<circle cx="110.6" cy="668.4" r="2.15" fill="#8d3d47"/>
<circle cx="121.0" cy="645.1" r="2.15" fill="#8d3d47"/>
<circle cx="129.2" cy="645.1" r="2.15" fill="#8d3d47"/>
<circle cx="144.3" cy="641.2" r="2.15" fill="#8d3d47"/>
<circle cx="158.7" cy="637.4" r="2.15" fill="#8d3d47"/>
<circle cx="180.1" cy="637.4" r="2.15" fill="#8d3d47"/>
<circle cx="200.6" cy="621.9" r="2.15" fill="#8d3d47"/>
<circle cx="232.9" cy="621.9" r="2.15" fill="#8d3d47"/>
<circle cx="251.5" cy="614.1" r="2.15" fill="#8d3d47"/>
<circle cx="268.1" cy="645.1" r="2.15" fill="#8d3d47"/>
<circle cx="272.5" cy="672.2" r="2.15" fill="#8d3d47"/>
<polyline points="64.7,660.6 89.6,672.2 104.8,660.6 118.5,655.2 133.4,649.0 158.2,647.4 169.6,645.1 182.7,641.2 198.5,633.5 235.4,621.9 248.0,621.9 262.7,641.2 267.1,668.4" fill="none" stroke="#7a2a37" stroke-width="1.2" stroke-opacity="0.9"/>
<circle cx="64.7" cy="660.6" r="2.15" fill="#7a2a37"/>
<circle cx="89.6" cy="672.2" r="2.15" fill="#7a2a37"/>
<circle cx="104.8" cy="660.6" r="2.15" fill="#7a2a37"/>
<circle cx="118.5" cy="655.2" r="2.15" fill="#7a2a37"/>
<circle cx="133.4" cy="649.0" r="2.15" fill="#7a2a37"/>
<circle cx="158.2" cy="647.4" r="2.15" fill="#7a2a37"/>
<circle cx="169.6" cy="645.1" r="2.15" fill="#7a2a37"/>
<circle cx="182.7" cy="641.2" r="2.15" fill="#7a2a37"/>
<circle cx="198.5" cy="633.5" r="2.15" fill="#7a2a37"/>
<circle cx="235.4" cy="621.9" r="2.15" fill="#7a2a37"/>
<circle cx="248.0" cy="621.9" r="2.15" fill="#7a2a37"/>
<circle cx="262.7" cy="641.2" r="2.15" fill="#7a2a37"/>
<circle cx="267.1" cy="668.4" r="2.15" fill="#7a2a37"/>
<polyline points="59.8,652.9 84.2,647.4 96.5,651.3 107.1,637.4 125.0,637.4 133.4,637.4 156.6,637.4 169.2,629.6 170.8,633.5 178.0,633.5 204.1,625.7 231.3,621.9 253.1,621.9 266.1,652.9" fill="none" stroke="#883842" stroke-width="1.2" stroke-opacity="0.9"/>
<circle cx="59.8" cy="652.9" r="2.15" fill="#883842"/>
<circle cx="84.2" cy="647.4" r="2.15" fill="#883842"/>
<circle cx="96.5" cy="651.3" r="2.15" fill="#883842"/>
<circle cx="107.1" cy="637.4" r="2.15" fill="#883842"/>
<circle cx="125.0" cy="637.4" r="2.15" fill="#883842"/>
<circle cx="133.4" cy="637.4" r="2.15" fill="#883842"/>
<circle cx="156.6" cy="637.4" r="2.15" fill="#883842"/>
<circle cx="169.2" cy="629.6" r="2.15" fill="#883842"/>
<circle cx="170.8" cy="633.5" r="2.15" fill="#883842"/>
<circle cx="178.0" cy="633.5" r="2.15" fill="#883842"/>
<circle cx="204.1" cy="625.7" r="2.15" fill="#883842"/>
<circle cx="231.3" cy="621.9" r="2.15" fill="#883842"/>
<circle cx="253.1" cy="621.9" r="2.15" fill="#883842"/>
<circle cx="266.1" cy="652.9" r="2.15" fill="#883842"/>
<polyline points="60.7,668.4 82.4,652.9 95.5,652.9 117.3,672.2 128.2,641.2 154.3,629.6 181.9,625.7 202.1,625.7 221.1,621.9 237.6,621.9 246.4,621.9 260.7,621.9 273.7,672.2" fill="none" stroke="#944c4e" stroke-width="1.2" stroke-opacity="0.9"/>
<circle cx="60.7" cy="668.4" r="2.15" fill="#944c4e"/>
<circle cx="82.4" cy="652.9" r="2.15" fill="#944c4e"/>
<circle cx="95.5" cy="652.9" r="2.15" fill="#944c4e"/>
<circle cx="117.3" cy="672.2" r="2.15" fill="#944c4e"/>
<circle cx="128.2" cy="641.2" r="2.15" fill="#944c4e"/>
<circle cx="154.3" cy="629.6" r="2.15" fill="#944c4e"/>
<circle cx="181.9" cy="625.7" r="2.15" fill="#944c4e"/>
<circle cx="202.1" cy="625.7" r="2.15" fill="#944c4e"/>
<circle cx="221.1" cy="621.9" r="2.15" fill="#944c4e"/>
<circle cx="237.6" cy="621.9" r="2.15" fill="#944c4e"/>
<circle cx="246.4" cy="621.9" r="2.15" fill="#944c4e"/>
<circle cx="260.7" cy="621.9" r="2.15" fill="#944c4e"/>
<circle cx="273.7" cy="672.2" r="2.15" fill="#944c4e"/>
<polyline points="70.7,660.6 95.5,629.6 109.5,629.6 118.0,625.7 129.3,621.9 141.8,621.9 145.3,625.7 171.0,621.9 195.3,621.9 206.7,621.9 231.3,621.9 255.9,652.9 271.9,660.6" fill="none" stroke="#9f6359" stroke-width="1.2" stroke-opacity="0.9"/>
<circle cx="70.7" cy="660.6" r="2.15" fill="#9f6359"/>
<circle cx="95.5" cy="629.6" r="2.15" fill="#9f6359"/>
<circle cx="109.5" cy="629.6" r="2.15" fill="#9f6359"/>
<circle cx="118.0" cy="625.7" r="2.15" fill="#9f6359"/>
<circle cx="129.3" cy="621.9" r="2.15" fill="#9f6359"/>
<circle cx="141.8" cy="621.9" r="2.15" fill="#9f6359"/>
<circle cx="145.3" cy="625.7" r="2.15" fill="#9f6359"/>
<circle cx="171.0" cy="621.9" r="2.15" fill="#9f6359"/>
<circle cx="195.3" cy="621.9" r="2.15" fill="#9f6359"/>
<circle cx="206.7" cy="621.9" r="2.15" fill="#9f6359"/>
<circle cx="231.3" cy="621.9" r="2.15" fill="#9f6359"/>
<circle cx="255.9" cy="652.9" r="2.15" fill="#9f6359"/>
<circle cx="271.9" cy="660.6" r="2.15" fill="#9f6359"/>
<polyline points="67.7,672.2 85.2,645.1 109.5,637.4 130.1,629.6 153.2,629.6 169.6,629.6 185.9,629.6 197.9,629.6 204.3,625.7 223.8,625.7 239.9,625.7 257.1,652.9 276.9,652.9" fill="none" stroke="#a88b5e" stroke-width="1.2" stroke-opacity="0.9"/>
<circle cx="67.7" cy="672.2" r="2.15" fill="#a88b5e"/>
<circle cx="85.2" cy="645.1" r="2.15" fill="#a88b5e"/>
<circle cx="109.5" cy="637.4" r="2.15" fill="#a88b5e"/>
<circle cx="130.1" cy="629.6" r="2.15" fill="#a88b5e"/>
<circle cx="153.2" cy="629.6" r="2.15" fill="#a88b5e"/>
<circle cx="169.6" cy="629.6" r="2.15" fill="#a88b5e"/>
<circle cx="185.9" cy="629.6" r="2.15" fill="#a88b5e"/>
<circle cx="197.9" cy="629.6" r="2.15" fill="#a88b5e"/>
<circle cx="204.3" cy="625.7" r="2.15" fill="#a88b5e"/>
<circle cx="223.8" cy="625.7" r="2.15" fill="#a88b5e"/>
<circle cx="239.9" cy="625.7" r="2.15" fill="#a88b5e"/>
<circle cx="257.1" cy="652.9" r="2.15" fill="#a88b5e"/>
<circle cx="276.9" cy="652.9" r="2.15" fill="#a88b5e"/>
<polyline points="69.5,652.9 85.0,652.9 101.6,651.3 113.5,645.1 127.2,641.2 131.3,633.5 157.3,629.6 175.3,629.6 191.8,629.6 209.3,629.6 228.7,629.6 252.8,633.5 259.4,656.7" fill="none" stroke="#9d5f57" stroke-width="1.2" stroke-opacity="0.9"/>
<circle cx="69.5" cy="652.9" r="2.15" fill="#9d5f57"/>
<circle cx="85.0" cy="652.9" r="2.15" fill="#9d5f57"/>
<circle cx="101.6" cy="651.3" r="2.15" fill="#9d5f57"/>
<circle cx="113.5" cy="645.1" r="2.15" fill="#9d5f57"/>
<circle cx="127.2" cy="641.2" r="2.15" fill="#9d5f57"/>
<circle cx="131.3" cy="633.5" r="2.15" fill="#9d5f57"/>
<circle cx="157.3" cy="629.6" r="2.15" fill="#9d5f57"/>
<circle cx="175.3" cy="629.6" r="2.15" fill="#9d5f57"/>
<circle cx="191.8" cy="629.6" r="2.15" fill="#9d5f57"/>
<circle cx="209.3" cy="629.6" r="2.15" fill="#9d5f57"/>
<circle cx="228.7" cy="629.6" r="2.15" fill="#9d5f57"/>
<circle cx="252.8" cy="633.5" r="2.15" fill="#9d5f57"/>
<circle cx="259.4" cy="656.7" r="2.15" fill="#9d5f57"/>
<polyline points="55.5,672.2 76.5,652.9 94.0,645.1 109.3,633.5 123.5,629.6 134.0,629.6 156.2,629.6 178.7,629.6 193.9,625.7 210.1,629.6 224.7,629.6 248.0,664.5 268.3,652.9" fill="none" stroke="#ac9161" stroke-width="1.2" stroke-opacity="0.9"/>
<circle cx="55.5" cy="672.2" r="2.15" fill="#ac9161"/>
<circle cx="76.5" cy="652.9" r="2.15" fill="#ac9161"/>
<circle cx="94.0" cy="645.1" r="2.15" fill="#ac9161"/>
<circle cx="109.3" cy="633.5" r="2.15" fill="#ac9161"/>
<circle cx="123.5" cy="629.6" r="2.15" fill="#ac9161"/>
<circle cx="134.0" cy="629.6" r="2.15" fill="#ac9161"/>
<circle cx="156.2" cy="629.6" r="2.15" fill="#ac9161"/>
<circle cx="178.7" cy="629.6" r="2.15" fill="#ac9161"/>
<circle cx="193.9" cy="625.7" r="2.15" fill="#ac9161"/>
<circle cx="210.1" cy="629.6" r="2.15" fill="#ac9161"/>
<circle cx="224.7" cy="629.6" r="2.15" fill="#ac9161"/>
<circle cx="248.0" cy="664.5" r="2.15" fill="#ac9161"/>
<circle cx="268.3" cy="652.9" r="2.15" fill="#ac9161"/>
<polyline points="64.6,673.8 85.0,652.9 101.6,641.2 113.9,625.7 125.8,625.7 142.9,625.7 162.3,625.7 188.5,625.7 207.3,625.7 215.1,625.7 231.4,625.7 245.1,629.6 270.2,660.6" fill="none" stroke="#a4795c" stroke-width="1.2" stroke-opacity="0.9"/>
<circle cx="64.6" cy="673.8" r="2.15" fill="#a4795c"/>
<circle cx="85.0" cy="652.9" r="2.15" fill="#a4795c"/>
<circle cx="101.6" cy="641.2" r="2.15" fill="#a4795c"/>
<circle cx="113.9" cy="625.7" r="2.15" fill="#a4795c"/>
<circle cx="125.8" cy="625.7" r="2.15" fill="#a4795c"/>
<circle cx="142.9" cy="625.7" r="2.15" fill="#a4795c"/>
<circle cx="162.3" cy="625.7" r="2.15" fill="#a4795c"/>
<circle cx="188.5" cy="625.7" r="2.15" fill="#a4795c"/>
<circle cx="207.3" cy="625.7" r="2.15" fill="#a4795c"/>
<circle cx="215.1" cy="625.7" r="2.15" fill="#a4795c"/>
<circle cx="231.4" cy="625.7" r="2.15" fill="#a4795c"/>
<circle cx="245.1" cy="629.6" r="2.15" fill="#a4795c"/>
<circle cx="270.2" cy="660.6" r="2.15" fill="#a4795c"/>
<polyline points="70.7,673.8 88.7,656.7 105.1,641.2 115.8,629.6 126.1,629.6 146.8,629.6 173.1,629.6 184.8,629.6 204.9,629.6 220.3,629.6 235.5,629.6 254.2,660.6 271.7,672.2" fill="none" stroke="#a8885e" stroke-width="1.2" stroke-opacity="0.9"/>
<circle cx="70.7" cy="673.8" r="2.15" fill="#a8885e"/>
<circle cx="88.7" cy="656.7" r="2.15" fill="#a8885e"/>
<circle cx="105.1" cy="641.2" r="2.15" fill="#a8885e"/>
<circle cx="115.8" cy="629.6" r="2.15" fill="#a8885e"/>
<circle cx="126.1" cy="629.6" r="2.15" fill="#a8885e"/>
<circle cx="146.8" cy="629.6" r="2.15" fill="#a8885e"/>
<circle cx="173.1" cy="629.6" r="2.15" fill="#a8885e"/>
<circle cx="184.8" cy="629.6" r="2.15" fill="#a8885e"/>
<circle cx="204.9" cy="629.6" r="2.15" fill="#a8885e"/>
<circle cx="220.3" cy="629.6" r="2.15" fill="#a8885e"/>
<circle cx="235.5" cy="629.6" r="2.15" fill="#a8885e"/>
<circle cx="254.2" cy="660.6" r="2.15" fill="#a8885e"/>
<circle cx="271.7" cy="672.2" r="2.15" fill="#a8885e"/>
<polyline points="62.5,672.2 88.2,660.6 104.5,651.3 115.5,649.0 128.6,641.2 149.6,641.2 163.2,635.0 216.9,625.7 221.8,625.7 237.3,621.9 248.2,621.9 260.4,621.9 276.8,672.2" fill="none" stroke="#985452" stroke-width="1.2" stroke-opacity="0.9"/>
<circle cx="62.5" cy="672.2" r="2.15" fill="#985452"/>
<circle cx="88.2" cy="660.6" r="2.15" fill="#985452"/>
<circle cx="104.5" cy="651.3" r="2.15" fill="#985452"/>
<circle cx="115.5" cy="649.0" r="2.15" fill="#985452"/>
<circle cx="128.6" cy="641.2" r="2.15" fill="#985452"/>
<circle cx="149.6" cy="641.2" r="2.15" fill="#985452"/>
<circle cx="163.2" cy="635.0" r="2.15" fill="#985452"/>
<circle cx="216.9" cy="625.7" r="2.15" fill="#985452"/>
<circle cx="221.8" cy="625.7" r="2.15" fill="#985452"/>
<circle cx="237.3" cy="621.9" r="2.15" fill="#985452"/>
<circle cx="248.2" cy="621.9" r="2.15" fill="#985452"/>
<circle cx="260.4" cy="621.9" r="2.15" fill="#985452"/>
<circle cx="276.8" cy="672.2" r="2.15" fill="#985452"/>
<polyline points="76.6,660.6 88.9,668.4 100.6,649.0 112.4,645.1 123.3,641.2 131.9,638.9 166.9,629.6 195.6,625.7 223.1,625.7 236.4,621.9 252.7,614.1 268.7,668.4" fill="none" stroke="#4b0815" stroke-width="1.2" stroke-opacity="0.9"/>
<circle cx="76.6" cy="660.6" r="2.15" fill="#4b0815"/>
<circle cx="88.9" cy="668.4" r="2.15" fill="#4b0815"/>
<circle cx="100.6" cy="649.0" r="2.15" fill="#4b0815"/>
<circle cx="112.4" cy="645.1" r="2.15" fill="#4b0815"/>
<circle cx="123.3" cy="641.2" r="2.15" fill="#4b0815"/>
<circle cx="131.9" cy="638.9" r="2.15" fill="#4b0815"/>
<circle cx="166.9" cy="629.6" r="2.15" fill="#4b0815"/>
<circle cx="195.6" cy="625.7" r="2.15" fill="#4b0815"/>
<circle cx="223.1" cy="625.7" r="2.15" fill="#4b0815"/>
<circle cx="236.4" cy="621.9" r="2.15" fill="#4b0815"/>
<circle cx="252.7" cy="614.1" r="2.15" fill="#4b0815"/>
<circle cx="268.7" cy="668.4" r="2.15" fill="#4b0815"/>
<polyline points="73.0,652.9 97.9,637.4 116.3,629.6 134.3,629.6 164.9,625.7 182.2,629.6 196.7,629.6 207.2,629.6 234.7,621.9 248.3,637.4 265.3,652.9 277.9,660.6" fill="none" stroke="#af9763" stroke-width="1.2" stroke-opacity="0.9"/>
<circle cx="73.0" cy="652.9" r="2.15" fill="#af9763"/>
<circle cx="97.9" cy="637.4" r="2.15" fill="#af9763"/>
<circle cx="116.3" cy="629.6" r="2.15" fill="#af9763"/>
<circle cx="134.3" cy="629.6" r="2.15" fill="#af9763"/>
<circle cx="164.9" cy="625.7" r="2.15" fill="#af9763"/>
<circle cx="182.2" cy="629.6" r="2.15" fill="#af9763"/>
<circle cx="196.7" cy="629.6" r="2.15" fill="#af9763"/>
<circle cx="207.2" cy="629.6" r="2.15" fill="#af9763"/>
<circle cx="234.7" cy="621.9" r="2.15" fill="#af9763"/>
<circle cx="248.3" cy="637.4" r="2.15" fill="#af9763"/>
<circle cx="265.3" cy="652.9" r="2.15" fill="#af9763"/>
<circle cx="277.9" cy="660.6" r="2.15" fill="#af9763"/>
<polyline points="68.3,645.1 90.2,621.9 112.1,621.9 125.0,614.1 150.0,614.1 176.4,614.1 201.4,614.1 204.7,614.1 214.8,614.1 226.8,625.7 241.9,641.2 258.2,641.2 272.5,652.9" fill="none" stroke="#b4a167" stroke-width="1.2" stroke-opacity="0.9"/>
<circle cx="68.3" cy="645.1" r="2.15" fill="#b4a167"/>
<circle cx="90.2" cy="621.9" r="2.15" fill="#b4a167"/>
<circle cx="112.1" cy="621.9" r="2.15" fill="#b4a167"/>
<circle cx="125.0" cy="614.1" r="2.15" fill="#b4a167"/>
<circle cx="150.0" cy="614.1" r="2.15" fill="#b4a167"/>
<circle cx="176.4" cy="614.1" r="2.15" fill="#b4a167"/>
<circle cx="201.4" cy="614.1" r="2.15" fill="#b4a167"/>
<circle cx="204.7" cy="614.1" r="2.15" fill="#b4a167"/>
<circle cx="214.8" cy="614.1" r="2.15" fill="#b4a167"/>
<circle cx="226.8" cy="625.7" r="2.15" fill="#b4a167"/>
<circle cx="241.9" cy="641.2" r="2.15" fill="#b4a167"/>
<circle cx="258.2" cy="641.2" r="2.15" fill="#b4a167"/>
<circle cx="272.5" cy="652.9" r="2.15" fill="#b4a167"/>
<polyline points="74.1,652.9 92.4,623.4 121.9,618.0 161.4,614.1 182.5,614.1 200.7,615.6 212.2,614.1 219.1,615.6 230.4,614.1 237.5,621.9 249.8,621.9 258.2,633.5 272.5,637.4" fill="none" stroke="#cbc08c" stroke-width="1.2" stroke-opacity="0.9"/>
<circle cx="74.1" cy="652.9" r="2.15" fill="#cbc08c"/>
<circle cx="92.4" cy="623.4" r="2.15" fill="#cbc08c"/>
<circle cx="121.9" cy="618.0" r="2.15" fill="#cbc08c"/>
<circle cx="161.4" cy="614.1" r="2.15" fill="#cbc08c"/>
<circle cx="182.5" cy="614.1" r="2.15" fill="#cbc08c"/>
<circle cx="200.7" cy="615.6" r="2.15" fill="#cbc08c"/>
<circle cx="212.2" cy="614.1" r="2.15" fill="#cbc08c"/>
<circle cx="219.1" cy="615.6" r="2.15" fill="#cbc08c"/>
<circle cx="230.4" cy="614.1" r="2.15" fill="#cbc08c"/>
<circle cx="237.5" cy="621.9" r="2.15" fill="#cbc08c"/>
<circle cx="249.8" cy="621.9" r="2.15" fill="#cbc08c"/>
<circle cx="258.2" cy="633.5" r="2.15" fill="#cbc08c"/>
<circle cx="272.5" cy="637.4" r="2.15" fill="#cbc08c"/>
<rect x="44.50" y="608.50" width="247.00" height="71.00" fill="none" stroke="#878787" stroke-width="1"/>
<line x1="62.50" y1="679.50" x2="62.50" y2="683.00" stroke="#878787" stroke-width="1"/>
<text x="62.5" y="694.4" font-size="9" text-anchor="middle" fill="#000" font-weight="normal" font-style="normal" stroke="#000" stroke-width="0.1">3</text>
<line x1="99.50" y1="679.50" x2="99.50" y2="683.00" stroke="#878787" stroke-width="1"/>
<text x="99.5" y="694.4" font-size="9" text-anchor="middle" fill="#000" font-weight="normal" font-style="normal" stroke="#000" stroke-width="0.1">4</text>
<line x1="137.50" y1="679.50" x2="137.50" y2="683.00" stroke="#878787" stroke-width="1"/>
<text x="137.5" y="694.4" font-size="9" text-anchor="middle" fill="#000" font-weight="normal" font-style="normal" stroke="#000" stroke-width="0.1">5</text>
<line x1="174.50" y1="679.50" x2="174.50" y2="683.00" stroke="#878787" stroke-width="1"/>
<text x="174.5" y="694.4" font-size="9" text-anchor="middle" fill="#000" font-weight="normal" font-style="normal" stroke="#000" stroke-width="0.1">6</text>
<line x1="212.50" y1="679.50" x2="212.50" y2="683.00" stroke="#878787" stroke-width="1"/>
<text x="212.5" y="694.4" font-size="9" text-anchor="middle" fill="#000" font-weight="normal" font-style="normal" stroke="#000" stroke-width="0.1">7</text>
<line x1="250.50" y1="679.50" x2="250.50" y2="683.00" stroke="#878787" stroke-width="1"/>
<text x="250.5" y="694.4" font-size="9" text-anchor="middle" fill="#000" font-weight="normal" font-style="normal" stroke="#000" stroke-width="0.1">8</text>
<line x1="287.50" y1="679.50" x2="287.50" y2="683.00" stroke="#878787" stroke-width="1"/>
<text x="287.5" y="694.4" font-size="9" text-anchor="middle" fill="#000" font-weight="normal" font-style="normal" stroke="#000" stroke-width="0.1">9</text>
<text x="168" y="709.5" font-size="9.5" text-anchor="middle" fill="#000" font-weight="normal" font-style="normal" stroke="#000" stroke-width="0.1">Perturbed pH</text>
<line x1="40.90" y1="634.50" x2="44.50" y2="634.50" stroke="#878787" stroke-width="1"/>
<text x="37" y="637.8" font-size="8.8" text-anchor="end" fill="#000" font-weight="normal" font-style="normal" stroke="#000" stroke-width="0.1">10<tspan dy="-4.1" font-size="6.3">−1</tspan></text>
<line x1="40.90" y1="664.50" x2="44.50" y2="664.50" stroke="#878787" stroke-width="1"/>
<text x="37" y="667.8" font-size="8.8" text-anchor="end" fill="#000" font-weight="normal" font-style="normal" stroke="#000" stroke-width="0.1">10<tspan dy="-4.1" font-size="6.3">−2</tspan></text>
<line x1="40.90" y1="676.50" x2="44.50" y2="676.50" stroke="#878787" stroke-width="1"/>
<text x="37" y="679.6" font-size="8.8" text-anchor="end" fill="#000" font-weight="normal" font-style="normal" stroke="#000" stroke-width="0.1">0</text>
<text x="13.5" y="643.5" font-size="9.3" text-anchor="middle" fill="#000" font-weight="normal" font-style="normal" stroke="#000" stroke-width="0.1" transform="rotate(-90 13.5 643.5)"><tspan font-style="italic">x̃</tspan>(0)</text>
<rect x="293.40" y="608.20" width="10.60" height="58.30" fill="url(#gnat)" stroke="none" stroke-width="1"/>
<line x1="293.40" y1="621.30" x2="295.30" y2="621.30" stroke="#fff" stroke-width="0.6"/>
<line x1="302.10" y1="621.30" x2="304.00" y2="621.30" stroke="#fff" stroke-width="0.6"/>
<text x="308.9" y="624.5999999999999" font-size="9" text-anchor="start" fill="#000" font-weight="normal" font-style="normal" stroke="#000" stroke-width="0.1">7</text>
<line x1="293.40" y1="641.20" x2="295.30" y2="641.20" stroke="#fff" stroke-width="0.6"/>
<line x1="302.10" y1="641.20" x2="304.00" y2="641.20" stroke="#fff" stroke-width="0.6"/>
<text x="308.9" y="644.5" font-size="9" text-anchor="start" fill="#000" font-weight="normal" font-style="normal" stroke="#000" stroke-width="0.1">6</text>
<line x1="293.40" y1="660.50" x2="295.30" y2="660.50" stroke="#fff" stroke-width="0.6"/>
<line x1="302.10" y1="660.50" x2="304.00" y2="660.50" stroke="#fff" stroke-width="0.6"/>
<text x="308.9" y="663.8" font-size="9" text-anchor="start" fill="#000" font-weight="normal" font-style="normal" stroke="#000" stroke-width="0.1">5</text>
<text x="326.9" y="637.5" font-size="9.5" text-anchor="middle" fill="#000" font-weight="normal" font-style="normal" stroke="#000" stroke-width="0.1" transform="rotate(-90 326.9 637.5)">Native pH</text>
<text x="348.9" y="607.0" font-size="13" text-anchor="start" fill="#000" font-weight="bold" font-style="normal" stroke="#000" stroke-width="0.55">f</text>
<line x1="387.50" y1="629.50" x2="634.50" y2="629.50" stroke="#b048e0" stroke-width="1.1" stroke-dasharray="4.4,2.6"/>
<polyline points="423.2,670.3 435.4,662.4 452.7,656.8 468.4,651.7 495.5,651.3 525.6,651.3 548.1,650.2 556.9,652.6 570.0,642.7 580.5,642.2 588.8,637.0 599.2,614.2 616.3,611.8" fill="none" stroke="#a2705b" stroke-width="1.2" stroke-opacity="0.9"/>
<circle cx="423.2" cy="670.3" r="2.15" fill="#a2705b"/>
<circle cx="435.4" cy="662.4" r="2.15" fill="#a2705b"/>
<circle cx="452.7" cy="656.8" r="2.15" fill="#a2705b"/>
<circle cx="468.4" cy="651.7" r="2.15" fill="#a2705b"/>
<circle cx="495.5" cy="651.3" r="2.15" fill="#a2705b"/>
<circle cx="525.6" cy="651.3" r="2.15" fill="#a2705b"/>
<circle cx="548.1" cy="650.2" r="2.15" fill="#a2705b"/>
<circle cx="556.9" cy="652.6" r="2.15" fill="#a2705b"/>
<circle cx="570.0" cy="642.7" r="2.15" fill="#a2705b"/>
<circle cx="580.5" cy="642.2" r="2.15" fill="#a2705b"/>
<circle cx="588.8" cy="637.0" r="2.15" fill="#a2705b"/>
<circle cx="599.2" cy="614.2" r="2.15" fill="#a2705b"/>
<circle cx="616.3" cy="611.8" r="2.15" fill="#a2705b"/>
<polyline points="403.9,675.4 433.7,666.4 448.6,659.8 462.7,661.6 485.9,655.3 507.5,652.7 530.3,650.9 552.7,647.9 563.3,646.9 575.5,647.8 586.0,623.0 596.6,614.2 611.5,611.8" fill="none" stroke="#ae9562" stroke-width="1.2" stroke-opacity="0.9"/>
<circle cx="403.9" cy="675.4" r="2.15" fill="#ae9562"/>
<circle cx="433.7" cy="666.4" r="2.15" fill="#ae9562"/>
<circle cx="448.6" cy="659.8" r="2.15" fill="#ae9562"/>
<circle cx="462.7" cy="661.6" r="2.15" fill="#ae9562"/>
<circle cx="485.9" cy="655.3" r="2.15" fill="#ae9562"/>
<circle cx="507.5" cy="652.7" r="2.15" fill="#ae9562"/>
<circle cx="530.3" cy="650.9" r="2.15" fill="#ae9562"/>
<circle cx="552.7" cy="647.9" r="2.15" fill="#ae9562"/>
<circle cx="563.3" cy="646.9" r="2.15" fill="#ae9562"/>
<circle cx="575.5" cy="647.8" r="2.15" fill="#ae9562"/>
<circle cx="586.0" cy="623.0" r="2.15" fill="#ae9562"/>
<circle cx="596.6" cy="614.2" r="2.15" fill="#ae9562"/>
<circle cx="611.5" cy="611.8" r="2.15" fill="#ae9562"/>
<polyline points="407.4,675.4 423.2,663.6 440.1,659.4 454.5,657.1 469.0,655.3 478.9,650.1 496.8,651.0 531.8,650.8 546.9,647.2 561.7,643.8 579.6,637.7 600.9,611.8 610.7,611.8" fill="none" stroke="#b7a76a" stroke-width="1.2" stroke-opacity="0.9"/>
<circle cx="407.4" cy="675.4" r="2.15" fill="#b7a76a"/>
<circle cx="423.2" cy="663.6" r="2.15" fill="#b7a76a"/>
<circle cx="440.1" cy="659.4" r="2.15" fill="#b7a76a"/>
<circle cx="454.5" cy="657.1" r="2.15" fill="#b7a76a"/>
<circle cx="469.0" cy="655.3" r="2.15" fill="#b7a76a"/>
<circle cx="478.9" cy="650.1" r="2.15" fill="#b7a76a"/>
<circle cx="496.8" cy="651.0" r="2.15" fill="#b7a76a"/>
<circle cx="531.8" cy="650.8" r="2.15" fill="#b7a76a"/>
<circle cx="546.9" cy="647.2" r="2.15" fill="#b7a76a"/>
<circle cx="561.7" cy="643.8" r="2.15" fill="#b7a76a"/>
<circle cx="579.6" cy="637.7" r="2.15" fill="#b7a76a"/>
<circle cx="600.9" cy="611.8" r="2.15" fill="#b7a76a"/>
<circle cx="610.7" cy="611.8" r="2.15" fill="#b7a76a"/>
<polyline points="415.2,675.4 440.0,669.0 453.2,659.1 463.6,655.0 471.8,656.1 486.9,655.6 501.3,648.4 522.7,660.1 543.2,651.0 575.5,644.6 594.1,637.7 610.7,614.2 615.1,611.8" fill="none" stroke="#8d3d47" stroke-width="1.2" stroke-opacity="0.9"/>
<circle cx="415.2" cy="675.4" r="2.15" fill="#8d3d47"/>
<circle cx="440.0" cy="669.0" r="2.15" fill="#8d3d47"/>
<circle cx="453.2" cy="659.1" r="2.15" fill="#8d3d47"/>
<circle cx="463.6" cy="655.0" r="2.15" fill="#8d3d47"/>
<circle cx="471.8" cy="656.1" r="2.15" fill="#8d3d47"/>
<circle cx="486.9" cy="655.6" r="2.15" fill="#8d3d47"/>
<circle cx="501.3" cy="648.4" r="2.15" fill="#8d3d47"/>
<circle cx="522.7" cy="660.1" r="2.15" fill="#8d3d47"/>
<circle cx="543.2" cy="651.0" r="2.15" fill="#8d3d47"/>
<circle cx="575.5" cy="644.6" r="2.15" fill="#8d3d47"/>
<circle cx="594.1" cy="637.7" r="2.15" fill="#8d3d47"/>
<circle cx="610.7" cy="614.2" r="2.15" fill="#8d3d47"/>
<circle cx="615.1" cy="611.8" r="2.15" fill="#8d3d47"/>
<polyline points="407.3,673.0 432.2,663.0 447.4,656.9 461.1,660.3 476.0,653.8 500.8,649.4 512.2,650.6 525.3,653.2 541.1,643.7 578.0,637.1 590.6,632.7 605.3,623.0 609.7,611.8" fill="none" stroke="#7a2a37" stroke-width="1.2" stroke-opacity="0.9"/>
<circle cx="407.3" cy="673.0" r="2.15" fill="#7a2a37"/>
<circle cx="432.2" cy="663.0" r="2.15" fill="#7a2a37"/>
<circle cx="447.4" cy="656.9" r="2.15" fill="#7a2a37"/>
<circle cx="461.1" cy="660.3" r="2.15" fill="#7a2a37"/>
<circle cx="476.0" cy="653.8" r="2.15" fill="#7a2a37"/>
<circle cx="500.8" cy="649.4" r="2.15" fill="#7a2a37"/>
<circle cx="512.2" cy="650.6" r="2.15" fill="#7a2a37"/>
<circle cx="525.3" cy="653.2" r="2.15" fill="#7a2a37"/>
<circle cx="541.1" cy="643.7" r="2.15" fill="#7a2a37"/>
<circle cx="578.0" cy="637.1" r="2.15" fill="#7a2a37"/>
<circle cx="590.6" cy="632.7" r="2.15" fill="#7a2a37"/>
<circle cx="605.3" cy="623.0" r="2.15" fill="#7a2a37"/>
<circle cx="609.7" cy="611.8" r="2.15" fill="#7a2a37"/>
<polyline points="402.4,675.4 426.8,662.5 439.1,659.4 449.7,655.8 467.6,655.9 476.0,656.2 499.2,653.8 511.8,653.4 513.4,655.9 520.6,651.5 546.7,649.9 573.9,634.1 595.7,626.1 608.7,614.2" fill="none" stroke="#883842" stroke-width="1.2" stroke-opacity="0.9"/>
<circle cx="402.4" cy="675.4" r="2.15" fill="#883842"/>
<circle cx="426.8" cy="662.5" r="2.15" fill="#883842"/>
<circle cx="439.1" cy="659.4" r="2.15" fill="#883842"/>
<circle cx="449.7" cy="655.8" r="2.15" fill="#883842"/>
<circle cx="467.6" cy="655.9" r="2.15" fill="#883842"/>
<circle cx="476.0" cy="656.2" r="2.15" fill="#883842"/>
<circle cx="499.2" cy="653.8" r="2.15" fill="#883842"/>
<circle cx="511.8" cy="653.4" r="2.15" fill="#883842"/>
<circle cx="513.4" cy="655.9" r="2.15" fill="#883842"/>
<circle cx="520.6" cy="651.5" r="2.15" fill="#883842"/>
<circle cx="546.7" cy="649.9" r="2.15" fill="#883842"/>
<circle cx="573.9" cy="634.1" r="2.15" fill="#883842"/>
<circle cx="595.7" cy="626.1" r="2.15" fill="#883842"/>
<circle cx="608.7" cy="614.2" r="2.15" fill="#883842"/>
<polyline points="403.3,675.4 425.0,670.3 438.1,663.2 459.9,667.8 470.8,658.3 496.9,658.9 524.5,649.1 544.7,648.4 563.7,642.6 580.2,644.0 589.0,636.2 603.3,637.6 616.3,611.8" fill="none" stroke="#944c4e" stroke-width="1.2" stroke-opacity="0.9"/>
<circle cx="403.3" cy="675.4" r="2.15" fill="#944c4e"/>
<circle cx="425.0" cy="670.3" r="2.15" fill="#944c4e"/>
<circle cx="438.1" cy="663.2" r="2.15" fill="#944c4e"/>
<circle cx="459.9" cy="667.8" r="2.15" fill="#944c4e"/>
<circle cx="470.8" cy="658.3" r="2.15" fill="#944c4e"/>
<circle cx="496.9" cy="658.9" r="2.15" fill="#944c4e"/>
<circle cx="524.5" cy="649.1" r="2.15" fill="#944c4e"/>
<circle cx="544.7" cy="648.4" r="2.15" fill="#944c4e"/>
<circle cx="563.7" cy="642.6" r="2.15" fill="#944c4e"/>
<circle cx="580.2" cy="644.0" r="2.15" fill="#944c4e"/>
<circle cx="589.0" cy="636.2" r="2.15" fill="#944c4e"/>
<circle cx="603.3" cy="637.6" r="2.15" fill="#944c4e"/>
<circle cx="616.3" cy="611.8" r="2.15" fill="#944c4e"/>
<polyline points="413.3,675.4 438.1,665.3 452.1,660.5 460.6,658.8 471.9,659.2 484.4,658.8 487.9,658.3 513.6,653.1 537.9,648.5 549.3,652.9 573.9,641.7 598.5,614.2 614.5,614.2" fill="none" stroke="#9f6359" stroke-width="1.2" stroke-opacity="0.9"/>
<circle cx="413.3" cy="675.4" r="2.15" fill="#9f6359"/>
<circle cx="438.1" cy="665.3" r="2.15" fill="#9f6359"/>
<circle cx="452.1" cy="660.5" r="2.15" fill="#9f6359"/>
<circle cx="460.6" cy="658.8" r="2.15" fill="#9f6359"/>
<circle cx="471.9" cy="659.2" r="2.15" fill="#9f6359"/>
<circle cx="484.4" cy="658.8" r="2.15" fill="#9f6359"/>
<circle cx="487.9" cy="658.3" r="2.15" fill="#9f6359"/>
<circle cx="513.6" cy="653.1" r="2.15" fill="#9f6359"/>
<circle cx="537.9" cy="648.5" r="2.15" fill="#9f6359"/>
<circle cx="549.3" cy="652.9" r="2.15" fill="#9f6359"/>
<circle cx="573.9" cy="641.7" r="2.15" fill="#9f6359"/>
<circle cx="598.5" cy="614.2" r="2.15" fill="#9f6359"/>
<circle cx="614.5" cy="614.2" r="2.15" fill="#9f6359"/>
<polyline points="410.3,675.4 427.8,673.3 452.1,658.8 472.7,661.9 495.8,654.2 512.2,656.9 528.5,651.5 540.5,654.3 546.9,654.0 566.4,649.0 582.5,644.0 599.7,614.2 619.5,614.2" fill="none" stroke="#a88b5e" stroke-width="1.2" stroke-opacity="0.9"/>
<circle cx="410.3" cy="675.4" r="2.15" fill="#a88b5e"/>
<circle cx="427.8" cy="673.3" r="2.15" fill="#a88b5e"/>
<circle cx="452.1" cy="658.8" r="2.15" fill="#a88b5e"/>
<circle cx="472.7" cy="661.9" r="2.15" fill="#a88b5e"/>
<circle cx="495.8" cy="654.2" r="2.15" fill="#a88b5e"/>
<circle cx="512.2" cy="656.9" r="2.15" fill="#a88b5e"/>
<circle cx="528.5" cy="651.5" r="2.15" fill="#a88b5e"/>
<circle cx="540.5" cy="654.3" r="2.15" fill="#a88b5e"/>
<circle cx="546.9" cy="654.0" r="2.15" fill="#a88b5e"/>
<circle cx="566.4" cy="649.0" r="2.15" fill="#a88b5e"/>
<circle cx="582.5" cy="644.0" r="2.15" fill="#a88b5e"/>
<circle cx="599.7" cy="614.2" r="2.15" fill="#a88b5e"/>
<circle cx="619.5" cy="614.2" r="2.15" fill="#a88b5e"/>
<polyline points="412.1,671.9 427.6,659.5 444.2,656.7 456.1,653.0 469.8,656.2 473.9,649.1 499.9,652.1 517.9,646.9 534.4,641.1 551.9,636.8 571.3,640.2 595.4,623.0 602.0,614.2" fill="none" stroke="#9d5f57" stroke-width="1.2" stroke-opacity="0.9"/>
<circle cx="412.1" cy="671.9" r="2.15" fill="#9d5f57"/>
<circle cx="427.6" cy="659.5" r="2.15" fill="#9d5f57"/>
<circle cx="444.2" cy="656.7" r="2.15" fill="#9d5f57"/>
<circle cx="456.1" cy="653.0" r="2.15" fill="#9d5f57"/>
<circle cx="469.8" cy="656.2" r="2.15" fill="#9d5f57"/>
<circle cx="473.9" cy="649.1" r="2.15" fill="#9d5f57"/>
<circle cx="499.9" cy="652.1" r="2.15" fill="#9d5f57"/>
<circle cx="517.9" cy="646.9" r="2.15" fill="#9d5f57"/>
<circle cx="534.4" cy="641.1" r="2.15" fill="#9d5f57"/>
<circle cx="551.9" cy="636.8" r="2.15" fill="#9d5f57"/>
<circle cx="571.3" cy="640.2" r="2.15" fill="#9d5f57"/>
<circle cx="595.4" cy="623.0" r="2.15" fill="#9d5f57"/>
<circle cx="602.0" cy="614.2" r="2.15" fill="#9d5f57"/>
<polyline points="398.1,675.4 419.1,668.1 436.6,661.9 451.9,655.3 466.1,659.4 476.6,657.2 498.8,651.2 521.3,652.1 536.5,644.6 552.7,645.9 567.3,645.4 590.6,611.8 610.9,614.2" fill="none" stroke="#ac9161" stroke-width="1.2" stroke-opacity="0.9"/>
<circle cx="398.1" cy="675.4" r="2.15" fill="#ac9161"/>
<circle cx="419.1" cy="668.1" r="2.15" fill="#ac9161"/>
<circle cx="436.6" cy="661.9" r="2.15" fill="#ac9161"/>
<circle cx="451.9" cy="655.3" r="2.15" fill="#ac9161"/>
<circle cx="466.1" cy="659.4" r="2.15" fill="#ac9161"/>
<circle cx="476.6" cy="657.2" r="2.15" fill="#ac9161"/>
<circle cx="498.8" cy="651.2" r="2.15" fill="#ac9161"/>
<circle cx="521.3" cy="652.1" r="2.15" fill="#ac9161"/>
<circle cx="536.5" cy="644.6" r="2.15" fill="#ac9161"/>
<circle cx="552.7" cy="645.9" r="2.15" fill="#ac9161"/>
<circle cx="567.3" cy="645.4" r="2.15" fill="#ac9161"/>
<circle cx="590.6" cy="611.8" r="2.15" fill="#ac9161"/>
<circle cx="610.9" cy="614.2" r="2.15" fill="#ac9161"/>
<polyline points="407.2,675.4 427.6,662.4 444.2,657.9 456.5,649.5 468.4,649.9 485.5,650.1 504.9,649.1 531.1,648.0 549.9,642.8 557.7,643.5 574.0,634.4 587.7,633.5 612.8,614.2" fill="none" stroke="#a4795c" stroke-width="1.2" stroke-opacity="0.9"/>
<circle cx="407.2" cy="675.4" r="2.15" fill="#a4795c"/>
<circle cx="427.6" cy="662.4" r="2.15" fill="#a4795c"/>
<circle cx="444.2" cy="657.9" r="2.15" fill="#a4795c"/>
<circle cx="456.5" cy="649.5" r="2.15" fill="#a4795c"/>
<circle cx="468.4" cy="649.9" r="2.15" fill="#a4795c"/>
<circle cx="485.5" cy="650.1" r="2.15" fill="#a4795c"/>
<circle cx="504.9" cy="649.1" r="2.15" fill="#a4795c"/>
<circle cx="531.1" cy="648.0" r="2.15" fill="#a4795c"/>
<circle cx="549.9" cy="642.8" r="2.15" fill="#a4795c"/>
<circle cx="557.7" cy="643.5" r="2.15" fill="#a4795c"/>
<circle cx="574.0" cy="634.4" r="2.15" fill="#a4795c"/>
<circle cx="587.7" cy="633.5" r="2.15" fill="#a4795c"/>
<circle cx="612.8" cy="614.2" r="2.15" fill="#a4795c"/>
<polyline points="413.3,666.9 431.3,657.2 447.7,650.8 458.4,646.0 468.7,646.1 489.4,644.1 515.7,643.7 527.4,646.6 547.5,636.9 562.9,640.1 578.1,634.9 596.8,614.2 614.3,611.8" fill="none" stroke="#a8885e" stroke-width="1.2" stroke-opacity="0.9"/>
<circle cx="413.3" cy="666.9" r="2.15" fill="#a8885e"/>
<circle cx="431.3" cy="657.2" r="2.15" fill="#a8885e"/>
<circle cx="447.7" cy="650.8" r="2.15" fill="#a8885e"/>
<circle cx="458.4" cy="646.0" r="2.15" fill="#a8885e"/>
<circle cx="468.7" cy="646.1" r="2.15" fill="#a8885e"/>
<circle cx="489.4" cy="644.1" r="2.15" fill="#a8885e"/>
<circle cx="515.7" cy="643.7" r="2.15" fill="#a8885e"/>
<circle cx="527.4" cy="646.6" r="2.15" fill="#a8885e"/>
<circle cx="547.5" cy="636.9" r="2.15" fill="#a8885e"/>
<circle cx="562.9" cy="640.1" r="2.15" fill="#a8885e"/>
<circle cx="578.1" cy="634.9" r="2.15" fill="#a8885e"/>
<circle cx="596.8" cy="614.2" r="2.15" fill="#a8885e"/>
<circle cx="614.3" cy="611.8" r="2.15" fill="#a8885e"/>
<polyline points="405.1,675.4 430.8,668.1 447.1,665.1 458.1,661.0 471.2,662.0 492.2,657.6 505.8,659.0 559.5,649.5 564.4,643.9 579.9,638.3 590.8,640.3 603.0,633.0 619.4,611.8" fill="none" stroke="#985452" stroke-width="1.2" stroke-opacity="0.9"/>
<circle cx="405.1" cy="675.4" r="2.15" fill="#985452"/>
<circle cx="430.8" cy="668.1" r="2.15" fill="#985452"/>
<circle cx="447.1" cy="665.1" r="2.15" fill="#985452"/>
<circle cx="458.1" cy="661.0" r="2.15" fill="#985452"/>
<circle cx="471.2" cy="662.0" r="2.15" fill="#985452"/>
<circle cx="492.2" cy="657.6" r="2.15" fill="#985452"/>
<circle cx="505.8" cy="659.0" r="2.15" fill="#985452"/>
<circle cx="559.5" cy="649.5" r="2.15" fill="#985452"/>
<circle cx="564.4" cy="643.9" r="2.15" fill="#985452"/>
<circle cx="579.9" cy="638.3" r="2.15" fill="#985452"/>
<circle cx="590.8" cy="640.3" r="2.15" fill="#985452"/>
<circle cx="603.0" cy="633.0" r="2.15" fill="#985452"/>
<circle cx="619.4" cy="611.8" r="2.15" fill="#985452"/>
<polyline points="419.2,667.9 431.5,661.8 443.2,651.5 455.0,653.5 465.9,655.2 474.5,652.9 509.5,647.4 538.2,640.5 565.7,639.5 579.0,629.9 595.3,629.7 611.3,611.8" fill="none" stroke="#4b0815" stroke-width="1.2" stroke-opacity="0.9"/>
<circle cx="419.2" cy="667.9" r="2.15" fill="#4b0815"/>
<circle cx="431.5" cy="661.8" r="2.15" fill="#4b0815"/>
<circle cx="443.2" cy="651.5" r="2.15" fill="#4b0815"/>
<circle cx="455.0" cy="653.5" r="2.15" fill="#4b0815"/>
<circle cx="465.9" cy="655.2" r="2.15" fill="#4b0815"/>
<circle cx="474.5" cy="652.9" r="2.15" fill="#4b0815"/>
<circle cx="509.5" cy="647.4" r="2.15" fill="#4b0815"/>
<circle cx="538.2" cy="640.5" r="2.15" fill="#4b0815"/>
<circle cx="565.7" cy="639.5" r="2.15" fill="#4b0815"/>
<circle cx="579.0" cy="629.9" r="2.15" fill="#4b0815"/>
<circle cx="595.3" cy="629.7" r="2.15" fill="#4b0815"/>
<circle cx="611.3" cy="611.8" r="2.15" fill="#4b0815"/>
<polyline points="415.6,664.9 440.5,652.0 458.9,648.7 476.9,646.3 507.5,642.6 524.8,640.5 539.3,641.5 549.8,637.9 577.3,629.4 590.9,614.2 607.9,614.2 620.5,614.2" fill="none" stroke="#af9763" stroke-width="1.2" stroke-opacity="0.9"/>
<circle cx="415.6" cy="664.9" r="2.15" fill="#af9763"/>
<circle cx="440.5" cy="652.0" r="2.15" fill="#af9763"/>
<circle cx="458.9" cy="648.7" r="2.15" fill="#af9763"/>
<circle cx="476.9" cy="646.3" r="2.15" fill="#af9763"/>
<circle cx="507.5" cy="642.6" r="2.15" fill="#af9763"/>
<circle cx="524.8" cy="640.5" r="2.15" fill="#af9763"/>
<circle cx="539.3" cy="641.5" r="2.15" fill="#af9763"/>
<circle cx="549.8" cy="637.9" r="2.15" fill="#af9763"/>
<circle cx="577.3" cy="629.4" r="2.15" fill="#af9763"/>
<circle cx="590.9" cy="614.2" r="2.15" fill="#af9763"/>
<circle cx="607.9" cy="614.2" r="2.15" fill="#af9763"/>
<circle cx="620.5" cy="614.2" r="2.15" fill="#af9763"/>
<polyline points="410.9,672.3 432.8,658.9 454.7,650.9 467.6,650.8 492.6,646.0 519.0,643.9 544.0,646.8 547.3,642.8 557.4,642.6 569.4,637.8 584.5,614.2 600.8,614.2 615.1,614.2" fill="none" stroke="#b4a167" stroke-width="1.2" stroke-opacity="0.9"/>
<circle cx="410.9" cy="672.3" r="2.15" fill="#b4a167"/>
<circle cx="432.8" cy="658.9" r="2.15" fill="#b4a167"/>
<circle cx="454.7" cy="650.9" r="2.15" fill="#b4a167"/>
<circle cx="467.6" cy="650.8" r="2.15" fill="#b4a167"/>
<circle cx="492.6" cy="646.0" r="2.15" fill="#b4a167"/>
<circle cx="519.0" cy="643.9" r="2.15" fill="#b4a167"/>
<circle cx="544.0" cy="646.8" r="2.15" fill="#b4a167"/>
<circle cx="547.3" cy="642.8" r="2.15" fill="#b4a167"/>
<circle cx="557.4" cy="642.6" r="2.15" fill="#b4a167"/>
<circle cx="569.4" cy="637.8" r="2.15" fill="#b4a167"/>
<circle cx="584.5" cy="614.2" r="2.15" fill="#b4a167"/>
<circle cx="600.8" cy="614.2" r="2.15" fill="#b4a167"/>
<circle cx="615.1" cy="614.2" r="2.15" fill="#b4a167"/>
<polyline points="416.7,671.9 435.0,660.7 464.5,654.6 504.0,647.4 525.1,644.9 543.3,646.9 554.8,638.5 561.7,641.7 573.0,641.2 580.1,640.6 592.4,614.2 600.8,614.2 615.1,614.2" fill="none" stroke="#cbc08c" stroke-width="1.2" stroke-opacity="0.9"/>
<circle cx="416.7" cy="671.9" r="2.15" fill="#cbc08c"/>
<circle cx="435.0" cy="660.7" r="2.15" fill="#cbc08c"/>
<circle cx="464.5" cy="654.6" r="2.15" fill="#cbc08c"/>
<circle cx="504.0" cy="647.4" r="2.15" fill="#cbc08c"/>
<circle cx="525.1" cy="644.9" r="2.15" fill="#cbc08c"/>
<circle cx="543.3" cy="646.9" r="2.15" fill="#cbc08c"/>
<circle cx="554.8" cy="638.5" r="2.15" fill="#cbc08c"/>
<circle cx="561.7" cy="641.7" r="2.15" fill="#cbc08c"/>
<circle cx="573.0" cy="641.2" r="2.15" fill="#cbc08c"/>
<circle cx="580.1" cy="640.6" r="2.15" fill="#cbc08c"/>
<circle cx="592.4" cy="614.2" r="2.15" fill="#cbc08c"/>
<circle cx="600.8" cy="614.2" r="2.15" fill="#cbc08c"/>
<circle cx="615.1" cy="614.2" r="2.15" fill="#cbc08c"/>
<rect x="387.50" y="608.50" width="247.00" height="71.00" fill="none" stroke="#878787" stroke-width="1"/>
<line x1="404.50" y1="679.50" x2="404.50" y2="683.00" stroke="#878787" stroke-width="1"/>
<text x="404.5" y="694.4" font-size="9" text-anchor="middle" fill="#000" font-weight="normal" font-style="normal" stroke="#000" stroke-width="0.1">3</text>
<line x1="442.50" y1="679.50" x2="442.50" y2="683.00" stroke="#878787" stroke-width="1"/>
<text x="442.5" y="694.4" font-size="9" text-anchor="middle" fill="#000" font-weight="normal" font-style="normal" stroke="#000" stroke-width="0.1">4</text>
<line x1="479.50" y1="679.50" x2="479.50" y2="683.00" stroke="#878787" stroke-width="1"/>
<text x="479.5" y="694.4" font-size="9" text-anchor="middle" fill="#000" font-weight="normal" font-style="normal" stroke="#000" stroke-width="0.1">5</text>
<line x1="517.50" y1="679.50" x2="517.50" y2="683.00" stroke="#878787" stroke-width="1"/>
<text x="517.5" y="694.4" font-size="9" text-anchor="middle" fill="#000" font-weight="normal" font-style="normal" stroke="#000" stroke-width="0.1">6</text>
<line x1="555.50" y1="679.50" x2="555.50" y2="683.00" stroke="#878787" stroke-width="1"/>
<text x="555.5" y="694.4" font-size="9" text-anchor="middle" fill="#000" font-weight="normal" font-style="normal" stroke="#000" stroke-width="0.1">7</text>
<line x1="592.50" y1="679.50" x2="592.50" y2="683.00" stroke="#878787" stroke-width="1"/>
<text x="592.5" y="694.4" font-size="9" text-anchor="middle" fill="#000" font-weight="normal" font-style="normal" stroke="#000" stroke-width="0.1">8</text>
<line x1="630.50" y1="679.50" x2="630.50" y2="683.00" stroke="#878787" stroke-width="1"/>
<text x="630.5" y="694.4" font-size="9" text-anchor="middle" fill="#000" font-weight="normal" font-style="normal" stroke="#000" stroke-width="0.1">9</text>
<text x="510.6" y="709.5" font-size="9.5" text-anchor="middle" fill="#000" font-weight="normal" font-style="normal" stroke="#000" stroke-width="0.1">Perturbed pH</text>
<line x1="383.90" y1="611.50" x2="387.50" y2="611.50" stroke="#878787" stroke-width="1"/>
<text x="381.6" y="614.8" font-size="8.8" text-anchor="end" fill="#000" font-weight="normal" font-style="normal" stroke="#000" stroke-width="0.1">10<tspan dy="-4.1" font-size="6.3">1</tspan></text>
<line x1="383.90" y1="632.50" x2="387.50" y2="632.50" stroke="#878787" stroke-width="1"/>
<text x="381.6" y="635.8" font-size="8.8" text-anchor="end" fill="#000" font-weight="normal" font-style="normal" stroke="#000" stroke-width="0.1">10<tspan dy="-4.1" font-size="6.3">0</tspan></text>
<line x1="383.90" y1="653.50" x2="387.50" y2="653.50" stroke="#878787" stroke-width="1"/>
<text x="381.6" y="657.0" font-size="8.8" text-anchor="end" fill="#000" font-weight="normal" font-style="normal" stroke="#000" stroke-width="0.1">10<tspan dy="-4.1" font-size="6.3">−1</tspan></text>
<line x1="383.90" y1="669.50" x2="387.50" y2="669.50" stroke="#878787" stroke-width="1"/>
<text x="381.6" y="671.6" font-size="8.8" text-anchor="end" fill="#000" font-weight="normal" font-style="normal" stroke="#000" stroke-width="0.1">10<tspan dy="-4.1" font-size="6.3">−2</tspan></text>
<line x1="383.90" y1="676.50" x2="387.50" y2="676.50" stroke="#878787" stroke-width="1"/>
<text x="375.6" y="680.1" font-size="8.8" text-anchor="end" fill="#000" font-weight="normal" font-style="normal" stroke="#000" stroke-width="0.1">0</text>
<text x="357.1" y="643.5" font-size="9.3" text-anchor="middle" fill="#000" font-weight="normal" font-style="normal" stroke="#000" stroke-width="0.1" transform="rotate(-90 357.1 643.5)"><tspan font-style="italic">γC̃</tspan>(0)</text>
<rect x="636.30" y="608.20" width="10.60" height="58.30" fill="url(#gnat)" stroke="none" stroke-width="1"/>
<line x1="636.30" y1="621.30" x2="638.20" y2="621.30" stroke="#fff" stroke-width="0.6"/>
<line x1="645.00" y1="621.30" x2="646.90" y2="621.30" stroke="#fff" stroke-width="0.6"/>
<text x="651.8" y="624.5999999999999" font-size="9" text-anchor="start" fill="#000" font-weight="normal" font-style="normal" stroke="#000" stroke-width="0.1">7</text>
<line x1="636.30" y1="641.20" x2="638.20" y2="641.20" stroke="#fff" stroke-width="0.6"/>
<line x1="645.00" y1="641.20" x2="646.90" y2="641.20" stroke="#fff" stroke-width="0.6"/>
<text x="651.8" y="644.5" font-size="9" text-anchor="start" fill="#000" font-weight="normal" font-style="normal" stroke="#000" stroke-width="0.1">6</text>
<line x1="636.30" y1="660.50" x2="638.20" y2="660.50" stroke="#fff" stroke-width="0.6"/>
<line x1="645.00" y1="660.50" x2="646.90" y2="660.50" stroke="#fff" stroke-width="0.6"/>
<text x="651.8" y="663.8" font-size="9" text-anchor="start" fill="#000" font-weight="normal" font-style="normal" stroke="#000" stroke-width="0.1">5</text>
<text x="669.8" y="637.5" font-size="9.5" text-anchor="middle" fill="#000" font-weight="normal" font-style="normal" stroke="#000" stroke-width="0.1" transform="rotate(-90 669.8 637.5)">Native pH</text>
</svg></body></html>
